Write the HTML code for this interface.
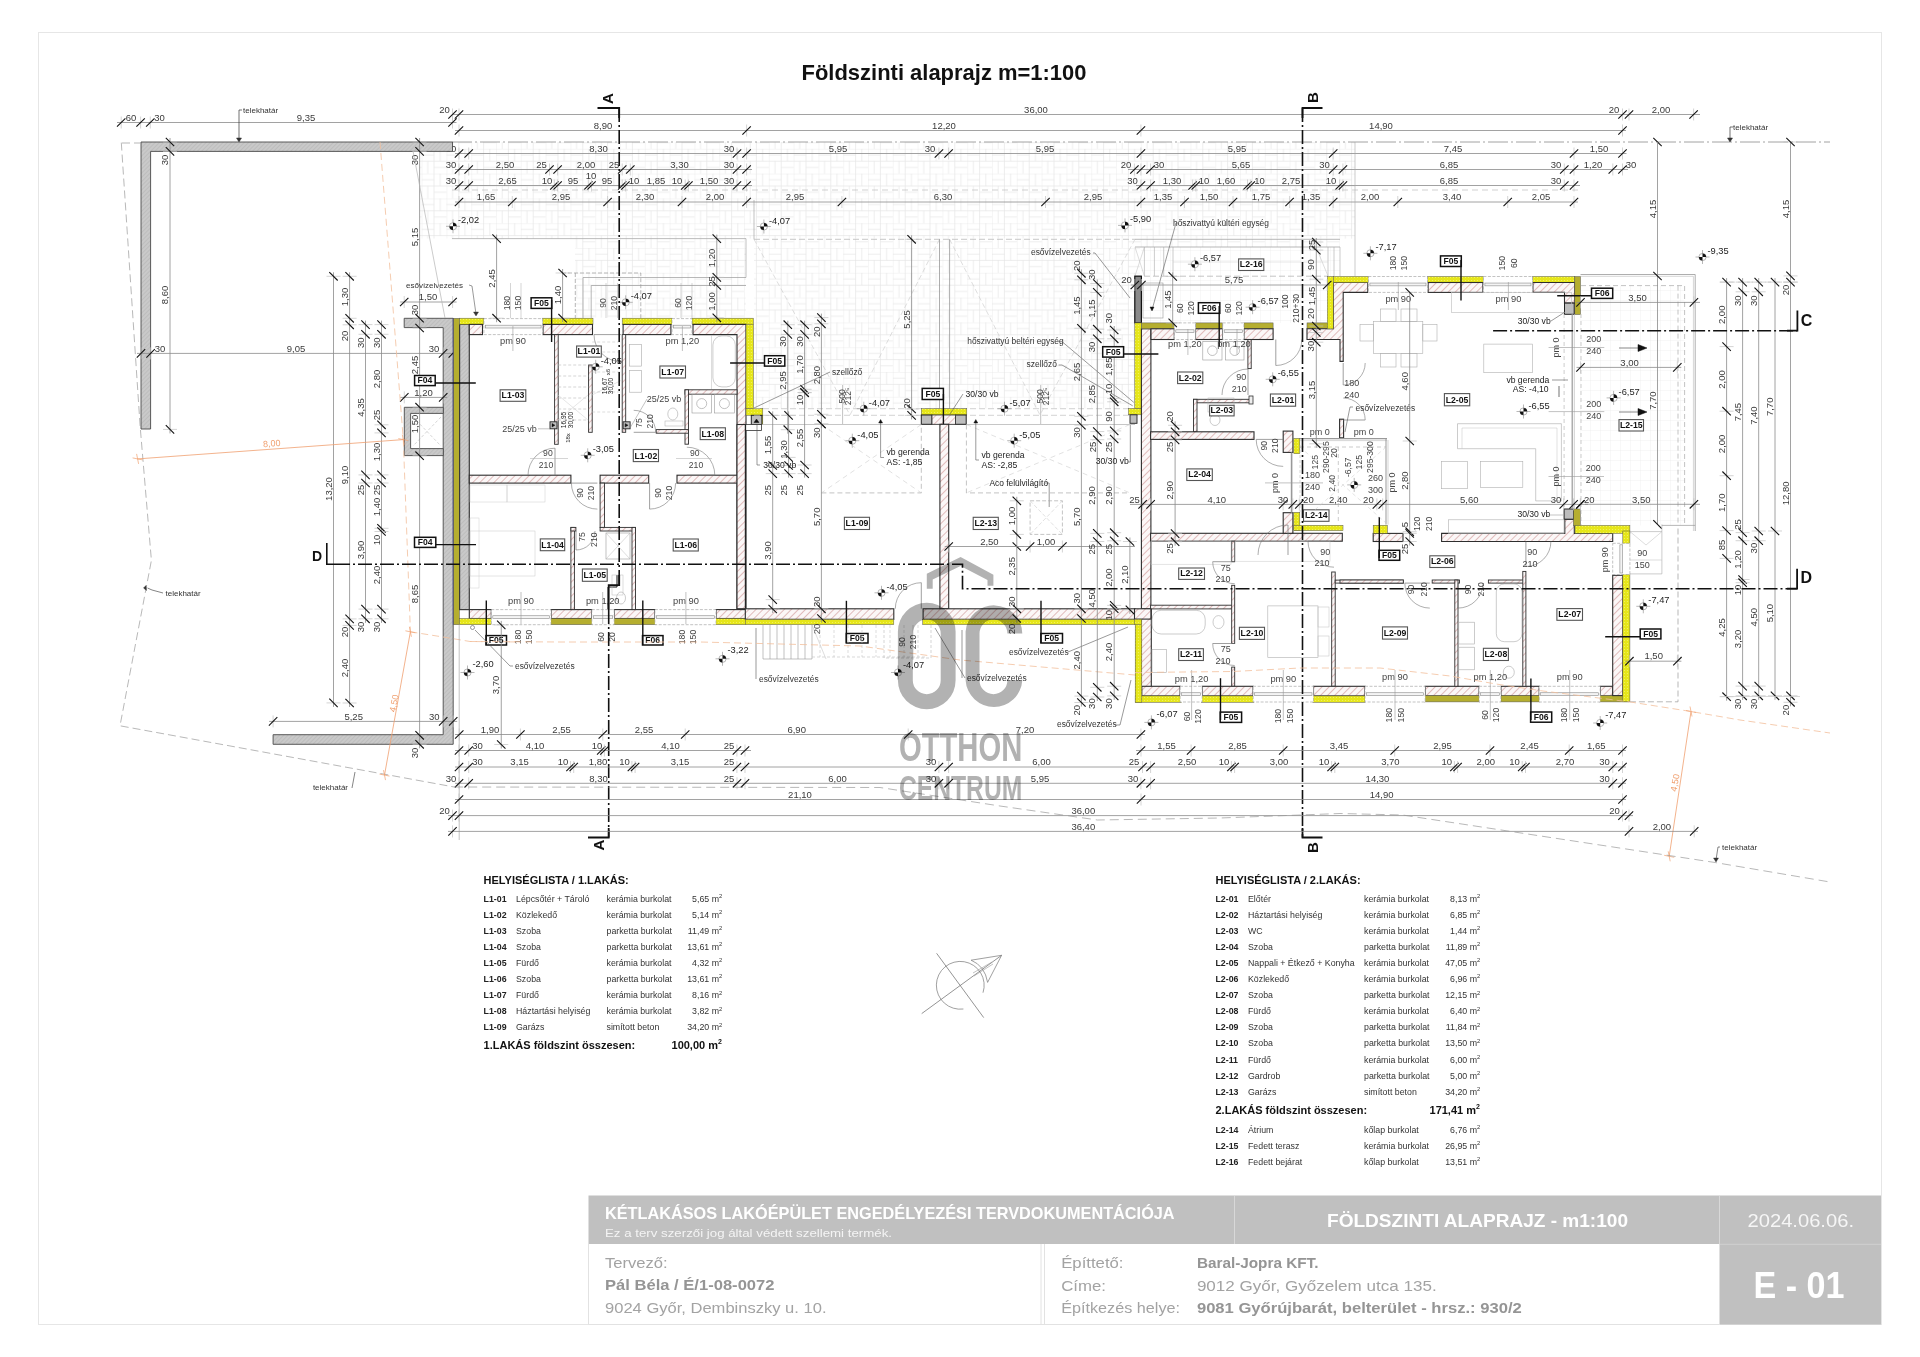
<!DOCTYPE html>
<html><head><meta charset="utf-8"><style>
html,body{margin:0;padding:0;background:#fff;}
body{width:1920px;height:1357px;overflow:hidden;position:relative;}
svg{position:absolute;left:0;top:0;font-family:"Liberation Sans",sans-serif;}
</style></head><body>
<svg width="1920" height="1357" viewBox="0 0 1920 1357">
<defs>
<pattern id="brick" patternUnits="userSpaceOnUse" width="5" height="5" patternTransform="rotate(45)">
<rect width="5" height="5" fill="#fbf7f7"/><line x1="0" y1="0" x2="0" y2="5" stroke="#c07070" stroke-width="0.9"/></pattern>
<pattern id="conc" patternUnits="userSpaceOnUse" width="3" height="3" patternTransform="rotate(45)">
<rect width="3" height="3" fill="#c9c9c9"/><line x1="0" y1="0" x2="0" y2="3" stroke="#a9a9a9" stroke-width="0.8"/></pattern>
<pattern id="ins" patternUnits="userSpaceOnUse" width="3" height="3">
<rect width="3" height="3" fill="#e6e619"/><circle cx="1.5" cy="1.5" r="0.6" fill="#f3f36a"/></pattern>
<pattern id="pave" patternUnits="userSpaceOnUse" width="24.8" height="24.8"><rect width="24.8" height="24.8" fill="#fff"/><path d="M0 0H24.8M0 12.4H24.8M0 0V24.8M12.4 0V24.8M0 6.2H12.4M18.6 0V12.4M6.2 12.4V24.8M12.4 18.6H24.8" stroke="#e3e3e3" stroke-width="0.65" fill="none"/></pattern>
<pattern id="grid10" patternUnits="userSpaceOnUse" width="10" height="10">
<rect width="10" height="10" fill="#fff"/><path d="M0 0H10M0 0V10" stroke="#e6e6e6" stroke-width="0.6" fill="none"/></pattern>
</defs>
<rect x="38.5" y="32.5" width="1843" height="1292" fill="none" stroke="#e6e6e6" stroke-width="1"/>
<text x="801.5" y="80" font-size="21.4" fill="#111" font-weight="bold" textLength="285" lengthAdjust="spacingAndGlyphs">Földszinti alaprajz m=1:100</text>
<text x="483.6" y="883.7" font-size="11" fill="#111" font-weight="bold">HELYISÉGLISTA / 1.LAKÁS:</text>
<text x="483.6" y="902" font-size="8.8" fill="#222" font-weight="bold">L1-01</text>
<text x="516" y="902" font-size="8.8" fill="#333">Lépcsőtér + Tároló</text>
<text x="606.5" y="902" font-size="8.8" fill="#333">kerámia burkolat</text>
<text x="719" y="902" font-size="8.8" fill="#333" text-anchor="end">5,65 m</text>
<text x="719" y="898.2" font-size="5.8" fill="#333">2</text>
<text x="483.6" y="918.05" font-size="8.8" fill="#222" font-weight="bold">L1-02</text>
<text x="516" y="918.05" font-size="8.8" fill="#333">Közlekedő</text>
<text x="606.5" y="918.05" font-size="8.8" fill="#333">kerámia burkolat</text>
<text x="719" y="918.05" font-size="8.8" fill="#333" text-anchor="end">5,14 m</text>
<text x="719" y="914.25" font-size="5.8" fill="#333">2</text>
<text x="483.6" y="934.1" font-size="8.8" fill="#222" font-weight="bold">L1-03</text>
<text x="516" y="934.1" font-size="8.8" fill="#333">Szoba</text>
<text x="606.5" y="934.1" font-size="8.8" fill="#333">parketta burkolat</text>
<text x="719" y="934.1" font-size="8.8" fill="#333" text-anchor="end">11,49 m</text>
<text x="719" y="930.3" font-size="5.8" fill="#333">2</text>
<text x="483.6" y="950.15" font-size="8.8" fill="#222" font-weight="bold">L1-04</text>
<text x="516" y="950.15" font-size="8.8" fill="#333">Szoba</text>
<text x="606.5" y="950.15" font-size="8.8" fill="#333">parketta burkolat</text>
<text x="719" y="950.15" font-size="8.8" fill="#333" text-anchor="end">13,61 m</text>
<text x="719" y="946.35" font-size="5.8" fill="#333">2</text>
<text x="483.6" y="966.2" font-size="8.8" fill="#222" font-weight="bold">L1-05</text>
<text x="516" y="966.2" font-size="8.8" fill="#333">Fürdő</text>
<text x="606.5" y="966.2" font-size="8.8" fill="#333">kerámia burkolat</text>
<text x="719" y="966.2" font-size="8.8" fill="#333" text-anchor="end">4,32 m</text>
<text x="719" y="962.4" font-size="5.8" fill="#333">2</text>
<text x="483.6" y="982.25" font-size="8.8" fill="#222" font-weight="bold">L1-06</text>
<text x="516" y="982.25" font-size="8.8" fill="#333">Szoba</text>
<text x="606.5" y="982.25" font-size="8.8" fill="#333">parketta burkolat</text>
<text x="719" y="982.25" font-size="8.8" fill="#333" text-anchor="end">13,61 m</text>
<text x="719" y="978.45" font-size="5.8" fill="#333">2</text>
<text x="483.6" y="998.3" font-size="8.8" fill="#222" font-weight="bold">L1-07</text>
<text x="516" y="998.3" font-size="8.8" fill="#333">Fürdő</text>
<text x="606.5" y="998.3" font-size="8.8" fill="#333">kerámia burkolat</text>
<text x="719" y="998.3" font-size="8.8" fill="#333" text-anchor="end">8,16 m</text>
<text x="719" y="994.5" font-size="5.8" fill="#333">2</text>
<text x="483.6" y="1014.35" font-size="8.8" fill="#222" font-weight="bold">L1-08</text>
<text x="516" y="1014.35" font-size="8.8" fill="#333">Háztartási helyiség</text>
<text x="606.5" y="1014.35" font-size="8.8" fill="#333">kerámia burkolat</text>
<text x="719" y="1014.35" font-size="8.8" fill="#333" text-anchor="end">3,82 m</text>
<text x="719" y="1010.55" font-size="5.8" fill="#333">2</text>
<text x="483.6" y="1030.4" font-size="8.8" fill="#222" font-weight="bold">L1-09</text>
<text x="516" y="1030.4" font-size="8.8" fill="#333">Garázs</text>
<text x="606.5" y="1030.4" font-size="8.8" fill="#333">simított beton</text>
<text x="719" y="1030.4" font-size="8.8" fill="#333" text-anchor="end">34,20 m</text>
<text x="719" y="1026.6" font-size="5.8" fill="#333">2</text>
<text x="483.6" y="1049.3" font-size="11" fill="#111" font-weight="bold">1.LAKÁS földszint összesen:</text>
<text x="718" y="1049.3" font-size="11" fill="#111" text-anchor="end" font-weight="bold">100,00 m</text>
<text x="718" y="1044.3" font-size="7" fill="#111" font-weight="bold">2</text>
<text x="1215.5" y="883.7" font-size="11" fill="#111" font-weight="bold">HELYISÉGLISTA / 2.LAKÁS:</text>
<text x="1215.5" y="902" font-size="8.8" fill="#222" font-weight="bold">L2-01</text>
<text x="1248" y="902" font-size="8.8" fill="#333">Előtér</text>
<text x="1364" y="902" font-size="8.8" fill="#333">kerámia burkolat</text>
<text x="1477" y="902" font-size="8.8" fill="#333" text-anchor="end">8,13 m</text>
<text x="1477" y="898.2" font-size="5.8" fill="#333">2</text>
<text x="1215.5" y="918.05" font-size="8.8" fill="#222" font-weight="bold">L2-02</text>
<text x="1248" y="918.05" font-size="8.8" fill="#333">Háztartási helyiség</text>
<text x="1364" y="918.05" font-size="8.8" fill="#333">kerámia burkolat</text>
<text x="1477" y="918.05" font-size="8.8" fill="#333" text-anchor="end">6,85 m</text>
<text x="1477" y="914.25" font-size="5.8" fill="#333">2</text>
<text x="1215.5" y="934.1" font-size="8.8" fill="#222" font-weight="bold">L2-03</text>
<text x="1248" y="934.1" font-size="8.8" fill="#333">WC</text>
<text x="1364" y="934.1" font-size="8.8" fill="#333">kerámia burkolat</text>
<text x="1477" y="934.1" font-size="8.8" fill="#333" text-anchor="end">1,44 m</text>
<text x="1477" y="930.3" font-size="5.8" fill="#333">2</text>
<text x="1215.5" y="950.15" font-size="8.8" fill="#222" font-weight="bold">L2-04</text>
<text x="1248" y="950.15" font-size="8.8" fill="#333">Szoba</text>
<text x="1364" y="950.15" font-size="8.8" fill="#333">parketta burkolat</text>
<text x="1477" y="950.15" font-size="8.8" fill="#333" text-anchor="end">11,89 m</text>
<text x="1477" y="946.35" font-size="5.8" fill="#333">2</text>
<text x="1215.5" y="966.2" font-size="8.8" fill="#222" font-weight="bold">L2-05</text>
<text x="1248" y="966.2" font-size="8.8" fill="#333">Nappali + Étkező + Konyha</text>
<text x="1364" y="966.2" font-size="8.8" fill="#333">kerámia burkolat</text>
<text x="1477" y="966.2" font-size="8.8" fill="#333" text-anchor="end">47,05 m</text>
<text x="1477" y="962.4" font-size="5.8" fill="#333">2</text>
<text x="1215.5" y="982.25" font-size="8.8" fill="#222" font-weight="bold">L2-06</text>
<text x="1248" y="982.25" font-size="8.8" fill="#333">Közlekedő</text>
<text x="1364" y="982.25" font-size="8.8" fill="#333">kerámia burkolat</text>
<text x="1477" y="982.25" font-size="8.8" fill="#333" text-anchor="end">6,96 m</text>
<text x="1477" y="978.45" font-size="5.8" fill="#333">2</text>
<text x="1215.5" y="998.3" font-size="8.8" fill="#222" font-weight="bold">L2-07</text>
<text x="1248" y="998.3" font-size="8.8" fill="#333">Szoba</text>
<text x="1364" y="998.3" font-size="8.8" fill="#333">parketta burkolat</text>
<text x="1477" y="998.3" font-size="8.8" fill="#333" text-anchor="end">12,15 m</text>
<text x="1477" y="994.5" font-size="5.8" fill="#333">2</text>
<text x="1215.5" y="1014.35" font-size="8.8" fill="#222" font-weight="bold">L2-08</text>
<text x="1248" y="1014.35" font-size="8.8" fill="#333">Fürdő</text>
<text x="1364" y="1014.35" font-size="8.8" fill="#333">kerámia burkolat</text>
<text x="1477" y="1014.35" font-size="8.8" fill="#333" text-anchor="end">6,40 m</text>
<text x="1477" y="1010.55" font-size="5.8" fill="#333">2</text>
<text x="1215.5" y="1030.4" font-size="8.8" fill="#222" font-weight="bold">L2-09</text>
<text x="1248" y="1030.4" font-size="8.8" fill="#333">Szoba</text>
<text x="1364" y="1030.4" font-size="8.8" fill="#333">parketta burkolat</text>
<text x="1477" y="1030.4" font-size="8.8" fill="#333" text-anchor="end">11,84 m</text>
<text x="1477" y="1026.6" font-size="5.8" fill="#333">2</text>
<text x="1215.5" y="1046.45" font-size="8.8" fill="#222" font-weight="bold">L2-10</text>
<text x="1248" y="1046.45" font-size="8.8" fill="#333">Szoba</text>
<text x="1364" y="1046.45" font-size="8.8" fill="#333">parketta burkolat</text>
<text x="1477" y="1046.45" font-size="8.8" fill="#333" text-anchor="end">13,50 m</text>
<text x="1477" y="1042.65" font-size="5.8" fill="#333">2</text>
<text x="1215.5" y="1062.5" font-size="8.8" fill="#222" font-weight="bold">L2-11</text>
<text x="1248" y="1062.5" font-size="8.8" fill="#333">Fürdő</text>
<text x="1364" y="1062.5" font-size="8.8" fill="#333">kerámia burkolat</text>
<text x="1477" y="1062.5" font-size="8.8" fill="#333" text-anchor="end">6,00 m</text>
<text x="1477" y="1058.7" font-size="5.8" fill="#333">2</text>
<text x="1215.5" y="1078.55" font-size="8.8" fill="#222" font-weight="bold">L2-12</text>
<text x="1248" y="1078.55" font-size="8.8" fill="#333">Gardrob</text>
<text x="1364" y="1078.55" font-size="8.8" fill="#333">parketta burkolat</text>
<text x="1477" y="1078.55" font-size="8.8" fill="#333" text-anchor="end">5,00 m</text>
<text x="1477" y="1074.75" font-size="5.8" fill="#333">2</text>
<text x="1215.5" y="1094.6" font-size="8.8" fill="#222" font-weight="bold">L2-13</text>
<text x="1248" y="1094.6" font-size="8.8" fill="#333">Garázs</text>
<text x="1364" y="1094.6" font-size="8.8" fill="#333">simított beton</text>
<text x="1477" y="1094.6" font-size="8.8" fill="#333" text-anchor="end">34,20 m</text>
<text x="1477" y="1090.8" font-size="5.8" fill="#333">2</text>
<text x="1215.5" y="1114" font-size="11" fill="#111" font-weight="bold">2.LAKÁS földszint összesen:</text>
<text x="1476" y="1114" font-size="11" fill="#111" text-anchor="end" font-weight="bold">171,41 m</text>
<text x="1476" y="1109" font-size="7" fill="#111" font-weight="bold">2</text>
<text x="1215.5" y="1132.8" font-size="8.8" fill="#222" font-weight="bold">L2-14</text>
<text x="1248" y="1132.8" font-size="8.8" fill="#333">Átrium</text>
<text x="1364" y="1132.8" font-size="8.8" fill="#333">kőlap burkolat</text>
<text x="1477" y="1132.8" font-size="8.8" fill="#333" text-anchor="end">6,76 m</text>
<text x="1477" y="1129" font-size="5.8" fill="#333">2</text>
<text x="1215.5" y="1148.85" font-size="8.8" fill="#222" font-weight="bold">L2-15</text>
<text x="1248" y="1148.85" font-size="8.8" fill="#333">Fedett terasz</text>
<text x="1364" y="1148.85" font-size="8.8" fill="#333">kerámia burkolat</text>
<text x="1477" y="1148.85" font-size="8.8" fill="#333" text-anchor="end">26,95 m</text>
<text x="1477" y="1145.05" font-size="5.8" fill="#333">2</text>
<text x="1215.5" y="1164.9" font-size="8.8" fill="#222" font-weight="bold">L2-16</text>
<text x="1248" y="1164.9" font-size="8.8" fill="#333">Fedett bejárat</text>
<text x="1364" y="1164.9" font-size="8.8" fill="#333">kőlap burkolat</text>
<text x="1477" y="1164.9" font-size="8.8" fill="#333" text-anchor="end">13,51 m</text>
<text x="1477" y="1161.1" font-size="5.8" fill="#333">2</text>
<rect x="588.5" y="1195.5" width="1292.5" height="48.5" fill="#c0c0c0"/>
<line x1="1234.5" y1="1196" x2="1234.5" y2="1244" stroke="#d8d8d8" stroke-width="1"/>
<line x1="1719.5" y1="1196" x2="1719.5" y2="1244" stroke="#d8d8d8" stroke-width="1"/>
<rect x="1719.5" y="1244" width="161.5" height="80.5" fill="#c0c0c0"/>
<line x1="1720" y1="1244.3" x2="1881" y2="1244.3" stroke="#d0d0d0" stroke-width="1"/>
<line x1="588.5" y1="1244" x2="588.5" y2="1324.5" stroke="#e2e2e2" stroke-width="1"/>
<line x1="588.5" y1="1324.5" x2="1720" y2="1324.5" stroke="#e2e2e2" stroke-width="1"/>
<line x1="1041" y1="1244" x2="1041" y2="1324.5" stroke="#e2e2e2" stroke-width="1"/>
<line x1="1044.5" y1="1244" x2="1044.5" y2="1324.5" stroke="#e2e2e2" stroke-width="1"/>
<text x="605" y="1218.5" font-size="17" fill="#fff" font-weight="bold" textLength="569.6" lengthAdjust="spacingAndGlyphs">KÉTLAKÁSOS LAKÓÉPÜLET ENGEDÉLYEZÉSI TERVDOKUMENTÁCIÓJA</text>
<text x="605" y="1236.5" font-size="11.5" fill="#f4f4f4" textLength="287" lengthAdjust="spacingAndGlyphs">Ez a terv szerzői jog által védett szellemi termék.</text>
<text x="1327" y="1227" font-size="18.5" fill="#fff" font-weight="bold" textLength="301" lengthAdjust="spacingAndGlyphs">FÖLDSZINTI ALAPRAJZ - m1:100</text>
<text x="1747.5" y="1227" font-size="18.5" fill="#f6f6f6" textLength="106.5" lengthAdjust="spacingAndGlyphs">2024.06.06.</text>
<text x="1753.5" y="1297.6" font-size="36.5" fill="#fff" font-weight="bold" textLength="91" lengthAdjust="spacingAndGlyphs">E - 01</text>
<text x="605" y="1267.8" font-size="15.3" fill="#a3a3a3" textLength="62.7" lengthAdjust="spacingAndGlyphs">Tervező:</text>
<text x="605" y="1290.3" font-size="15.3" fill="#959595" font-weight="bold" textLength="169.5" lengthAdjust="spacingAndGlyphs">Pál Béla / É/1-08-0072</text>
<text x="605" y="1313" font-size="15.3" fill="#a3a3a3" textLength="221.5" lengthAdjust="spacingAndGlyphs">9024 Győr, Dembinszky u. 10.</text>
<text x="1061.2" y="1267.8" font-size="15.3" fill="#a3a3a3" textLength="62.3" lengthAdjust="spacingAndGlyphs">Építtető:</text>
<text x="1061.2" y="1290.5" font-size="15.3" fill="#a3a3a3" textLength="44.8" lengthAdjust="spacingAndGlyphs">Címe:</text>
<text x="1061.2" y="1313" font-size="15.3" fill="#a3a3a3" textLength="118.8" lengthAdjust="spacingAndGlyphs">Építkezés helye:</text>
<text x="1196.9" y="1267.8" font-size="15.3" fill="#959595" font-weight="bold" textLength="121.6" lengthAdjust="spacingAndGlyphs">Baral-Jopra KFT.</text>
<text x="1196.9" y="1290.5" font-size="15.3" fill="#a3a3a3" textLength="239.8" lengthAdjust="spacingAndGlyphs">9012 Győr, Győzelem utca 135.</text>
<text x="1196.9" y="1313" font-size="15.3" fill="#959595" font-weight="bold" textLength="324.9" lengthAdjust="spacingAndGlyphs">9081 Győrújbarát, belterület  -  hrsz.: 930/2</text>
<rect x="452" y="142" width="903" height="96.6" fill="url(#pave)"/>
<rect x="419.6" y="151.4" width="33" height="87.2" fill="url(#pave)"/>
<rect x="754" y="239.3" width="386" height="169" fill="url(#pave)"/>
<rect x="575" y="238.6" width="171" height="79" fill="url(#pave)"/>
<rect x="1135" y="239" width="205" height="8" fill="url(#pave)"/>
<rect x="1141" y="247" width="199" height="76" fill="url(#grid10)"/>
<rect x="1580.5" y="285.6" width="104" height="239.8" fill="url(#grid10)"/>
<line x1="117" y1="122.5" x2="456.5" y2="122.5" stroke="#8a8a8a" stroke-width="0.8"/>
<line x1="121.2" y1="116.5" x2="121.2" y2="128.5" stroke="#c2c2c2" stroke-width="0.7"/>
<line x1="117" y1="126.7" x2="125.4" y2="118.3" stroke="#111" stroke-width="1.1"/>
<line x1="140.6" y1="116.5" x2="140.6" y2="128.5" stroke="#c2c2c2" stroke-width="0.7"/>
<line x1="136.4" y1="126.7" x2="144.8" y2="118.3" stroke="#111" stroke-width="1.1"/>
<line x1="150.3" y1="116.5" x2="150.3" y2="128.5" stroke="#c2c2c2" stroke-width="0.7"/>
<line x1="146.1" y1="126.7" x2="154.5" y2="118.3" stroke="#111" stroke-width="1.1"/>
<line x1="452.5" y1="116.5" x2="452.5" y2="128.5" stroke="#c2c2c2" stroke-width="0.7"/>
<line x1="448.3" y1="126.7" x2="456.7" y2="118.3" stroke="#111" stroke-width="1.1"/>
<text x="131" y="120.7" font-size="9.5" fill="#3a3a3a" text-anchor="middle">60</text>
<text x="159.5" y="120.7" font-size="9.5" fill="#3a3a3a" text-anchor="middle">30</text>
<text x="306" y="120.7" font-size="9.5" fill="#3a3a3a" text-anchor="middle">9,35</text>
<line x1="452" y1="114.5" x2="1700" y2="114.5" stroke="#8a8a8a" stroke-width="0.8"/>
<line x1="452.5" y1="108.5" x2="452.5" y2="120.5" stroke="#c2c2c2" stroke-width="0.7"/>
<line x1="448.3" y1="118.7" x2="456.7" y2="110.3" stroke="#111" stroke-width="1.1"/>
<line x1="459" y1="108.5" x2="459" y2="120.5" stroke="#c2c2c2" stroke-width="0.7"/>
<line x1="454.8" y1="118.7" x2="463.2" y2="110.3" stroke="#111" stroke-width="1.1"/>
<line x1="1622.5" y1="108.5" x2="1622.5" y2="120.5" stroke="#c2c2c2" stroke-width="0.7"/>
<line x1="1618.3" y1="118.7" x2="1626.7" y2="110.3" stroke="#111" stroke-width="1.1"/>
<line x1="1629" y1="108.5" x2="1629" y2="120.5" stroke="#c2c2c2" stroke-width="0.7"/>
<line x1="1624.8" y1="118.7" x2="1633.2" y2="110.3" stroke="#111" stroke-width="1.1"/>
<line x1="1693.6" y1="108.5" x2="1693.6" y2="120.5" stroke="#c2c2c2" stroke-width="0.7"/>
<line x1="1689.4" y1="118.7" x2="1697.8" y2="110.3" stroke="#111" stroke-width="1.1"/>
<text x="444.5" y="112.7" font-size="9.5" fill="#3a3a3a" text-anchor="middle">20</text>
<text x="1036" y="112.7" font-size="9.5" fill="#3a3a3a" text-anchor="middle">36,00</text>
<text x="1614" y="112.7" font-size="9.5" fill="#3a3a3a" text-anchor="middle">20</text>
<text x="1661" y="112.7" font-size="9.5" fill="#3a3a3a" text-anchor="middle">2,00</text>
<line x1="455" y1="130.5" x2="1626" y2="130.5" stroke="#8a8a8a" stroke-width="0.8"/>
<line x1="459" y1="124.5" x2="459" y2="136.5" stroke="#c2c2c2" stroke-width="0.7"/>
<line x1="454.8" y1="134.7" x2="463.2" y2="126.3" stroke="#111" stroke-width="1.1"/>
<line x1="746.6" y1="124.5" x2="746.6" y2="136.5" stroke="#c2c2c2" stroke-width="0.7"/>
<line x1="742.4" y1="134.7" x2="750.8" y2="126.3" stroke="#111" stroke-width="1.1"/>
<line x1="1140.9" y1="124.5" x2="1140.9" y2="136.5" stroke="#c2c2c2" stroke-width="0.7"/>
<line x1="1136.7" y1="134.7" x2="1145.1" y2="126.3" stroke="#111" stroke-width="1.1"/>
<line x1="1622.5" y1="124.5" x2="1622.5" y2="136.5" stroke="#c2c2c2" stroke-width="0.7"/>
<line x1="1618.3" y1="134.7" x2="1626.7" y2="126.3" stroke="#111" stroke-width="1.1"/>
<text x="603" y="128.7" font-size="9.5" fill="#3a3a3a" text-anchor="middle">8,90</text>
<text x="944" y="128.7" font-size="9.5" fill="#3a3a3a" text-anchor="middle">12,20</text>
<text x="1381" y="128.7" font-size="9.5" fill="#3a3a3a" text-anchor="middle">14,90</text>
<line x1="452" y1="142" x2="1830" y2="142" stroke="#8c8c8c" stroke-width="0.8" stroke-dasharray="20 3 2 3"/>
<line x1="1653.3" y1="137.8" x2="1661.7" y2="146.2" stroke="#111" stroke-width="1.1"/>
<line x1="1657.5" y1="142" x2="1657.5" y2="276" stroke="#8a8a8a" stroke-width="0.8"/>
<text x="1655.7" y="209" font-size="9.5" fill="#3a3a3a" text-anchor="middle" transform="rotate(-90 1655.7 209)">4,15</text>
<text x="1733" y="130" font-size="8" fill="#333">telekhatár</text>
<line x1="1730" y1="127" x2="1730" y2="140" stroke="#333" stroke-width="0.7"/>
<polygon points="1727.5,138 1732.5,138 1730,142" fill="#333" stroke="#333" stroke-width="0.5"/>
<line x1="1730" y1="127" x2="1733" y2="127" stroke="#333" stroke-width="0.7"/>
<text x="243" y="113" font-size="8" fill="#333">telekhatár</text>
<line x1="239" y1="110" x2="239" y2="140" stroke="#333" stroke-width="0.7"/>
<polygon points="236.5,138 241.5,138 239,142" fill="#333" stroke="#333" stroke-width="0.5"/>
<line x1="239" y1="110" x2="242" y2="110" stroke="#333" stroke-width="0.7"/>
<line x1="455" y1="153.5" x2="1626.5" y2="153.5" stroke="#8a8a8a" stroke-width="0.8"/>
<line x1="459" y1="147.5" x2="459" y2="159.5" stroke="#c2c2c2" stroke-width="0.7"/>
<line x1="454.8" y1="157.7" x2="463.2" y2="149.3" stroke="#111" stroke-width="1.1"/>
<line x1="468.7" y1="147.5" x2="468.7" y2="159.5" stroke="#c2c2c2" stroke-width="0.7"/>
<line x1="464.5" y1="157.7" x2="472.9" y2="149.3" stroke="#111" stroke-width="1.1"/>
<line x1="737" y1="147.5" x2="737" y2="159.5" stroke="#c2c2c2" stroke-width="0.7"/>
<line x1="732.8" y1="157.7" x2="741.2" y2="149.3" stroke="#111" stroke-width="1.1"/>
<line x1="746.6" y1="147.5" x2="746.6" y2="159.5" stroke="#c2c2c2" stroke-width="0.7"/>
<line x1="742.4" y1="157.7" x2="750.8" y2="149.3" stroke="#111" stroke-width="1.1"/>
<line x1="938.9" y1="147.5" x2="938.9" y2="159.5" stroke="#c2c2c2" stroke-width="0.7"/>
<line x1="934.7" y1="157.7" x2="943.1" y2="149.3" stroke="#111" stroke-width="1.1"/>
<line x1="948.6" y1="147.5" x2="948.6" y2="159.5" stroke="#c2c2c2" stroke-width="0.7"/>
<line x1="944.4" y1="157.7" x2="952.8" y2="149.3" stroke="#111" stroke-width="1.1"/>
<line x1="1140.9" y1="147.5" x2="1140.9" y2="159.5" stroke="#c2c2c2" stroke-width="0.7"/>
<line x1="1136.7" y1="157.7" x2="1145.1" y2="149.3" stroke="#111" stroke-width="1.1"/>
<line x1="1333.2" y1="147.5" x2="1333.2" y2="159.5" stroke="#c2c2c2" stroke-width="0.7"/>
<line x1="1329" y1="157.7" x2="1337.4" y2="149.3" stroke="#111" stroke-width="1.1"/>
<line x1="1574" y1="147.5" x2="1574" y2="159.5" stroke="#c2c2c2" stroke-width="0.7"/>
<line x1="1569.8" y1="157.7" x2="1578.2" y2="149.3" stroke="#111" stroke-width="1.1"/>
<line x1="1622.5" y1="147.5" x2="1622.5" y2="159.5" stroke="#c2c2c2" stroke-width="0.7"/>
<line x1="1618.3" y1="157.7" x2="1626.7" y2="149.3" stroke="#111" stroke-width="1.1"/>
<text x="451" y="151.7" font-size="9.5" fill="#3a3a3a" text-anchor="middle">30</text>
<text x="598.5" y="151.7" font-size="9.5" fill="#3a3a3a" text-anchor="middle">8,30</text>
<text x="729" y="151.7" font-size="9.5" fill="#3a3a3a" text-anchor="middle">30</text>
<text x="838" y="151.7" font-size="9.5" fill="#3a3a3a" text-anchor="middle">5,95</text>
<text x="930" y="151.7" font-size="9.5" fill="#3a3a3a" text-anchor="middle">30</text>
<text x="1045" y="151.7" font-size="9.5" fill="#3a3a3a" text-anchor="middle">5,95</text>
<text x="1237" y="151.7" font-size="9.5" fill="#3a3a3a" text-anchor="middle">5,95</text>
<text x="1453" y="151.7" font-size="9.5" fill="#3a3a3a" text-anchor="middle">7,45</text>
<text x="1599" y="151.7" font-size="9.5" fill="#3a3a3a" text-anchor="middle">1,50</text>
<line x1="455" y1="169.5" x2="752" y2="169.5" stroke="#8a8a8a" stroke-width="0.8"/>
<line x1="459" y1="163.5" x2="459" y2="175.5" stroke="#c2c2c2" stroke-width="0.7"/>
<line x1="454.8" y1="173.7" x2="463.2" y2="165.3" stroke="#111" stroke-width="1.1"/>
<line x1="468.7" y1="163.5" x2="468.7" y2="175.5" stroke="#c2c2c2" stroke-width="0.7"/>
<line x1="464.5" y1="173.7" x2="472.9" y2="165.3" stroke="#111" stroke-width="1.1"/>
<line x1="549.5" y1="163.5" x2="549.5" y2="175.5" stroke="#c2c2c2" stroke-width="0.7"/>
<line x1="545.3" y1="173.7" x2="553.7" y2="165.3" stroke="#111" stroke-width="1.1"/>
<line x1="557.6" y1="163.5" x2="557.6" y2="175.5" stroke="#c2c2c2" stroke-width="0.7"/>
<line x1="553.4" y1="173.7" x2="561.8" y2="165.3" stroke="#111" stroke-width="1.1"/>
<line x1="622.2" y1="163.5" x2="622.2" y2="175.5" stroke="#c2c2c2" stroke-width="0.7"/>
<line x1="618" y1="173.7" x2="626.4" y2="165.3" stroke="#111" stroke-width="1.1"/>
<line x1="630.3" y1="163.5" x2="630.3" y2="175.5" stroke="#c2c2c2" stroke-width="0.7"/>
<line x1="626.1" y1="173.7" x2="634.5" y2="165.3" stroke="#111" stroke-width="1.1"/>
<line x1="737" y1="163.5" x2="737" y2="175.5" stroke="#c2c2c2" stroke-width="0.7"/>
<line x1="732.8" y1="173.7" x2="741.2" y2="165.3" stroke="#111" stroke-width="1.1"/>
<line x1="746.6" y1="163.5" x2="746.6" y2="175.5" stroke="#c2c2c2" stroke-width="0.7"/>
<line x1="742.4" y1="173.7" x2="750.8" y2="165.3" stroke="#111" stroke-width="1.1"/>
<text x="451" y="167.7" font-size="9.5" fill="#3a3a3a" text-anchor="middle">30</text>
<text x="505" y="167.7" font-size="9.5" fill="#3a3a3a" text-anchor="middle">2,50</text>
<text x="541.5" y="167.7" font-size="9.5" fill="#3a3a3a" text-anchor="middle">25</text>
<text x="586" y="167.7" font-size="9.5" fill="#3a3a3a" text-anchor="middle">2,00</text>
<text x="614" y="167.7" font-size="9.5" fill="#3a3a3a" text-anchor="middle">25</text>
<text x="679.5" y="167.7" font-size="9.5" fill="#3a3a3a" text-anchor="middle">3,30</text>
<text x="729" y="167.7" font-size="9.5" fill="#3a3a3a" text-anchor="middle">30</text>
<line x1="1128" y1="169.5" x2="1628" y2="169.5" stroke="#8a8a8a" stroke-width="0.8"/>
<line x1="1134.4" y1="163.5" x2="1134.4" y2="175.5" stroke="#c2c2c2" stroke-width="0.7"/>
<line x1="1130.2" y1="173.7" x2="1138.6" y2="165.3" stroke="#111" stroke-width="1.1"/>
<line x1="1140.9" y1="163.5" x2="1140.9" y2="175.5" stroke="#c2c2c2" stroke-width="0.7"/>
<line x1="1136.7" y1="173.7" x2="1145.1" y2="165.3" stroke="#111" stroke-width="1.1"/>
<line x1="1150.6" y1="163.5" x2="1150.6" y2="175.5" stroke="#c2c2c2" stroke-width="0.7"/>
<line x1="1146.4" y1="173.7" x2="1154.8" y2="165.3" stroke="#111" stroke-width="1.1"/>
<line x1="1333.2" y1="163.5" x2="1333.2" y2="175.5" stroke="#c2c2c2" stroke-width="0.7"/>
<line x1="1329" y1="173.7" x2="1337.4" y2="165.3" stroke="#111" stroke-width="1.1"/>
<line x1="1342.9" y1="163.5" x2="1342.9" y2="175.5" stroke="#c2c2c2" stroke-width="0.7"/>
<line x1="1338.7" y1="173.7" x2="1347.1" y2="165.3" stroke="#111" stroke-width="1.1"/>
<line x1="1564.3" y1="163.5" x2="1564.3" y2="175.5" stroke="#c2c2c2" stroke-width="0.7"/>
<line x1="1560.1" y1="173.7" x2="1568.5" y2="165.3" stroke="#111" stroke-width="1.1"/>
<line x1="1574" y1="163.5" x2="1574" y2="175.5" stroke="#c2c2c2" stroke-width="0.7"/>
<line x1="1569.8" y1="173.7" x2="1578.2" y2="165.3" stroke="#111" stroke-width="1.1"/>
<line x1="1612.8" y1="163.5" x2="1612.8" y2="175.5" stroke="#c2c2c2" stroke-width="0.7"/>
<line x1="1608.6" y1="173.7" x2="1617" y2="165.3" stroke="#111" stroke-width="1.1"/>
<line x1="1622.5" y1="163.5" x2="1622.5" y2="175.5" stroke="#c2c2c2" stroke-width="0.7"/>
<line x1="1618.3" y1="173.7" x2="1626.7" y2="165.3" stroke="#111" stroke-width="1.1"/>
<text x="1126" y="167.7" font-size="9.5" fill="#3a3a3a" text-anchor="middle">20</text>
<text x="1159" y="167.7" font-size="9.5" fill="#3a3a3a" text-anchor="middle">30</text>
<text x="1241" y="167.7" font-size="9.5" fill="#3a3a3a" text-anchor="middle">5,65</text>
<text x="1324.5" y="167.7" font-size="9.5" fill="#3a3a3a" text-anchor="middle">30</text>
<text x="1449" y="167.7" font-size="9.5" fill="#3a3a3a" text-anchor="middle">6,85</text>
<text x="1556" y="167.7" font-size="9.5" fill="#3a3a3a" text-anchor="middle">30</text>
<text x="1593" y="167.7" font-size="9.5" fill="#3a3a3a" text-anchor="middle">1,20</text>
<text x="1631" y="167.7" font-size="9.5" fill="#3a3a3a" text-anchor="middle">30</text>
<line x1="455" y1="185.5" x2="752" y2="185.5" stroke="#8a8a8a" stroke-width="0.8"/>
<line x1="459" y1="179.5" x2="459" y2="191.5" stroke="#c2c2c2" stroke-width="0.7"/>
<line x1="454.8" y1="189.7" x2="463.2" y2="181.3" stroke="#111" stroke-width="1.1"/>
<line x1="468.7" y1="179.5" x2="468.7" y2="191.5" stroke="#c2c2c2" stroke-width="0.7"/>
<line x1="464.5" y1="189.7" x2="472.9" y2="181.3" stroke="#111" stroke-width="1.1"/>
<line x1="554.3" y1="179.5" x2="554.3" y2="191.5" stroke="#c2c2c2" stroke-width="0.7"/>
<line x1="550.1" y1="189.7" x2="558.5" y2="181.3" stroke="#111" stroke-width="1.1"/>
<line x1="557.6" y1="179.5" x2="557.6" y2="191.5" stroke="#c2c2c2" stroke-width="0.7"/>
<line x1="553.4" y1="189.7" x2="561.8" y2="181.3" stroke="#111" stroke-width="1.1"/>
<line x1="588.3" y1="179.5" x2="588.3" y2="191.5" stroke="#c2c2c2" stroke-width="0.7"/>
<line x1="584.1" y1="189.7" x2="592.5" y2="181.3" stroke="#111" stroke-width="1.1"/>
<line x1="591.5" y1="179.5" x2="591.5" y2="191.5" stroke="#c2c2c2" stroke-width="0.7"/>
<line x1="587.3" y1="189.7" x2="595.7" y2="181.3" stroke="#111" stroke-width="1.1"/>
<line x1="622.2" y1="179.5" x2="622.2" y2="191.5" stroke="#c2c2c2" stroke-width="0.7"/>
<line x1="618" y1="189.7" x2="626.4" y2="181.3" stroke="#111" stroke-width="1.1"/>
<line x1="625.4" y1="179.5" x2="625.4" y2="191.5" stroke="#c2c2c2" stroke-width="0.7"/>
<line x1="621.2" y1="189.7" x2="629.6" y2="181.3" stroke="#111" stroke-width="1.1"/>
<line x1="685.2" y1="179.5" x2="685.2" y2="191.5" stroke="#c2c2c2" stroke-width="0.7"/>
<line x1="681" y1="189.7" x2="689.4" y2="181.3" stroke="#111" stroke-width="1.1"/>
<line x1="688.4" y1="179.5" x2="688.4" y2="191.5" stroke="#c2c2c2" stroke-width="0.7"/>
<line x1="684.2" y1="189.7" x2="692.6" y2="181.3" stroke="#111" stroke-width="1.1"/>
<line x1="736.9" y1="179.5" x2="736.9" y2="191.5" stroke="#c2c2c2" stroke-width="0.7"/>
<line x1="732.7" y1="189.7" x2="741.1" y2="181.3" stroke="#111" stroke-width="1.1"/>
<line x1="746.6" y1="179.5" x2="746.6" y2="191.5" stroke="#c2c2c2" stroke-width="0.7"/>
<line x1="742.4" y1="189.7" x2="750.8" y2="181.3" stroke="#111" stroke-width="1.1"/>
<text x="451" y="183.7" font-size="9.5" fill="#3a3a3a" text-anchor="middle">30</text>
<text x="507.5" y="183.7" font-size="9.5" fill="#3a3a3a" text-anchor="middle">2,65</text>
<text x="547" y="183.7" font-size="9.5" fill="#3a3a3a" text-anchor="middle">10</text>
<text x="573" y="183.7" font-size="9.5" fill="#3a3a3a" text-anchor="middle">95</text>
<text x="607" y="183.7" font-size="9.5" fill="#3a3a3a" text-anchor="middle">95</text>
<text x="634" y="183.7" font-size="9.5" fill="#3a3a3a" text-anchor="middle">10</text>
<text x="656" y="183.7" font-size="9.5" fill="#3a3a3a" text-anchor="middle">1,85</text>
<text x="677" y="183.7" font-size="9.5" fill="#3a3a3a" text-anchor="middle">10</text>
<text x="709" y="183.7" font-size="9.5" fill="#3a3a3a" text-anchor="middle">1,50</text>
<text x="729" y="183.7" font-size="9.5" fill="#3a3a3a" text-anchor="middle">30</text>
<text x="591" y="178.5" font-size="9.5" fill="#3a3a3a" text-anchor="middle">10</text>
<line x1="1136" y1="185.5" x2="1580" y2="185.5" stroke="#8a8a8a" stroke-width="0.8"/>
<line x1="1140.9" y1="179.5" x2="1140.9" y2="191.5" stroke="#c2c2c2" stroke-width="0.7"/>
<line x1="1136.7" y1="189.7" x2="1145.1" y2="181.3" stroke="#111" stroke-width="1.1"/>
<line x1="1150.6" y1="179.5" x2="1150.6" y2="191.5" stroke="#c2c2c2" stroke-width="0.7"/>
<line x1="1146.4" y1="189.7" x2="1154.8" y2="181.3" stroke="#111" stroke-width="1.1"/>
<line x1="1192.6" y1="179.5" x2="1192.6" y2="191.5" stroke="#c2c2c2" stroke-width="0.7"/>
<line x1="1188.4" y1="189.7" x2="1196.8" y2="181.3" stroke="#111" stroke-width="1.1"/>
<line x1="1195.8" y1="179.5" x2="1195.8" y2="191.5" stroke="#c2c2c2" stroke-width="0.7"/>
<line x1="1191.6" y1="189.7" x2="1200" y2="181.3" stroke="#111" stroke-width="1.1"/>
<line x1="1247.5" y1="179.5" x2="1247.5" y2="191.5" stroke="#c2c2c2" stroke-width="0.7"/>
<line x1="1243.3" y1="189.7" x2="1251.7" y2="181.3" stroke="#111" stroke-width="1.1"/>
<line x1="1250.8" y1="179.5" x2="1250.8" y2="191.5" stroke="#c2c2c2" stroke-width="0.7"/>
<line x1="1246.6" y1="189.7" x2="1255" y2="181.3" stroke="#111" stroke-width="1.1"/>
<line x1="1339.6" y1="179.5" x2="1339.6" y2="191.5" stroke="#c2c2c2" stroke-width="0.7"/>
<line x1="1335.4" y1="189.7" x2="1343.8" y2="181.3" stroke="#111" stroke-width="1.1"/>
<line x1="1342.9" y1="179.5" x2="1342.9" y2="191.5" stroke="#c2c2c2" stroke-width="0.7"/>
<line x1="1338.7" y1="189.7" x2="1347.1" y2="181.3" stroke="#111" stroke-width="1.1"/>
<line x1="1564.3" y1="179.5" x2="1564.3" y2="191.5" stroke="#c2c2c2" stroke-width="0.7"/>
<line x1="1560.1" y1="189.7" x2="1568.5" y2="181.3" stroke="#111" stroke-width="1.1"/>
<line x1="1574" y1="179.5" x2="1574" y2="191.5" stroke="#c2c2c2" stroke-width="0.7"/>
<line x1="1569.8" y1="189.7" x2="1578.2" y2="181.3" stroke="#111" stroke-width="1.1"/>
<text x="1132.5" y="183.7" font-size="9.5" fill="#3a3a3a" text-anchor="middle">30</text>
<text x="1172" y="183.7" font-size="9.5" fill="#3a3a3a" text-anchor="middle">1,30</text>
<text x="1204" y="183.7" font-size="9.5" fill="#3a3a3a" text-anchor="middle">10</text>
<text x="1226" y="183.7" font-size="9.5" fill="#3a3a3a" text-anchor="middle">1,60</text>
<text x="1259.5" y="183.7" font-size="9.5" fill="#3a3a3a" text-anchor="middle">10</text>
<text x="1291" y="183.7" font-size="9.5" fill="#3a3a3a" text-anchor="middle">2,75</text>
<text x="1331" y="183.7" font-size="9.5" fill="#3a3a3a" text-anchor="middle">10</text>
<text x="1449" y="183.7" font-size="9.5" fill="#3a3a3a" text-anchor="middle">6,85</text>
<text x="1556" y="183.7" font-size="9.5" fill="#3a3a3a" text-anchor="middle">30</text>
<line x1="452" y1="190" x2="1580" y2="190" stroke="#bdbdbd" stroke-width="0.7" stroke-dasharray="6 4"/>
<line x1="455" y1="202" x2="1578" y2="202" stroke="#8a8a8a" stroke-width="0.8"/>
<line x1="459" y1="196" x2="459" y2="208" stroke="#c2c2c2" stroke-width="0.7"/>
<line x1="454.8" y1="206.2" x2="463.2" y2="197.8" stroke="#111" stroke-width="1.1"/>
<line x1="512.3" y1="196" x2="512.3" y2="208" stroke="#c2c2c2" stroke-width="0.7"/>
<line x1="508.1" y1="206.2" x2="516.5" y2="197.8" stroke="#111" stroke-width="1.1"/>
<line x1="607.6" y1="196" x2="607.6" y2="208" stroke="#c2c2c2" stroke-width="0.7"/>
<line x1="603.4" y1="206.2" x2="611.8" y2="197.8" stroke="#111" stroke-width="1.1"/>
<line x1="682" y1="196" x2="682" y2="208" stroke="#c2c2c2" stroke-width="0.7"/>
<line x1="677.8" y1="206.2" x2="686.2" y2="197.8" stroke="#111" stroke-width="1.1"/>
<line x1="746.6" y1="196" x2="746.6" y2="208" stroke="#c2c2c2" stroke-width="0.7"/>
<line x1="742.4" y1="206.2" x2="750.8" y2="197.8" stroke="#111" stroke-width="1.1"/>
<line x1="841.9" y1="196" x2="841.9" y2="208" stroke="#c2c2c2" stroke-width="0.7"/>
<line x1="837.7" y1="206.2" x2="846.1" y2="197.8" stroke="#111" stroke-width="1.1"/>
<line x1="1045.5" y1="196" x2="1045.5" y2="208" stroke="#c2c2c2" stroke-width="0.7"/>
<line x1="1041.3" y1="206.2" x2="1049.7" y2="197.8" stroke="#111" stroke-width="1.1"/>
<line x1="1140.9" y1="196" x2="1140.9" y2="208" stroke="#c2c2c2" stroke-width="0.7"/>
<line x1="1136.7" y1="206.2" x2="1145.1" y2="197.8" stroke="#111" stroke-width="1.1"/>
<line x1="1184.5" y1="196" x2="1184.5" y2="208" stroke="#c2c2c2" stroke-width="0.7"/>
<line x1="1180.3" y1="206.2" x2="1188.7" y2="197.8" stroke="#111" stroke-width="1.1"/>
<line x1="1233" y1="196" x2="1233" y2="208" stroke="#c2c2c2" stroke-width="0.7"/>
<line x1="1228.8" y1="206.2" x2="1237.2" y2="197.8" stroke="#111" stroke-width="1.1"/>
<line x1="1289.6" y1="196" x2="1289.6" y2="208" stroke="#c2c2c2" stroke-width="0.7"/>
<line x1="1285.4" y1="206.2" x2="1293.8" y2="197.8" stroke="#111" stroke-width="1.1"/>
<line x1="1333.2" y1="196" x2="1333.2" y2="208" stroke="#c2c2c2" stroke-width="0.7"/>
<line x1="1329" y1="206.2" x2="1337.4" y2="197.8" stroke="#111" stroke-width="1.1"/>
<line x1="1397.8" y1="196" x2="1397.8" y2="208" stroke="#c2c2c2" stroke-width="0.7"/>
<line x1="1393.6" y1="206.2" x2="1402" y2="197.8" stroke="#111" stroke-width="1.1"/>
<line x1="1507.7" y1="196" x2="1507.7" y2="208" stroke="#c2c2c2" stroke-width="0.7"/>
<line x1="1503.5" y1="206.2" x2="1511.9" y2="197.8" stroke="#111" stroke-width="1.1"/>
<line x1="1574" y1="196" x2="1574" y2="208" stroke="#c2c2c2" stroke-width="0.7"/>
<line x1="1569.8" y1="206.2" x2="1578.2" y2="197.8" stroke="#111" stroke-width="1.1"/>
<text x="486" y="200.2" font-size="9.5" fill="#3a3a3a" text-anchor="middle">1,65</text>
<text x="561" y="200.2" font-size="9.5" fill="#3a3a3a" text-anchor="middle">2,95</text>
<text x="645" y="200.2" font-size="9.5" fill="#3a3a3a" text-anchor="middle">2,30</text>
<text x="715" y="200.2" font-size="9.5" fill="#3a3a3a" text-anchor="middle">2,00</text>
<text x="795" y="200.2" font-size="9.5" fill="#3a3a3a" text-anchor="middle">2,95</text>
<text x="943" y="200.2" font-size="9.5" fill="#3a3a3a" text-anchor="middle">6,30</text>
<text x="1093" y="200.2" font-size="9.5" fill="#3a3a3a" text-anchor="middle">2,95</text>
<text x="1163" y="200.2" font-size="9.5" fill="#3a3a3a" text-anchor="middle">1,35</text>
<text x="1209" y="200.2" font-size="9.5" fill="#3a3a3a" text-anchor="middle">1,50</text>
<text x="1261" y="200.2" font-size="9.5" fill="#3a3a3a" text-anchor="middle">1,75</text>
<text x="1311" y="200.2" font-size="9.5" fill="#3a3a3a" text-anchor="middle">1,35</text>
<text x="1370" y="200.2" font-size="9.5" fill="#3a3a3a" text-anchor="middle">2,00</text>
<text x="1452" y="200.2" font-size="9.5" fill="#3a3a3a" text-anchor="middle">3,40</text>
<text x="1541" y="200.2" font-size="9.5" fill="#3a3a3a" text-anchor="middle">2,05</text>
<polygon points="141,142 452.5,142 452.5,151.4 150.6,151.4 150.6,429 141,429" fill="url(#conc)" stroke="#4a4a4a" stroke-width="0.9"/>
<polyline points="122,143 140.5,143" fill="none" stroke="#9a9a9a" stroke-width="0.7" stroke-dasharray="8 4"/>
<polyline points="121.3,142.6 140.1,425.8 151.4,560.4 120,725.8 454.2,787" fill="none" stroke="#9a9a9a" stroke-width="0.7" stroke-dasharray="8 4"/>
<text x="262" y="528" font-size="1" fill="#3a3a3a"></text>
<text x="165.5" y="596" font-size="8" fill="#333">telekhatár</text>
<polyline points="163,593 152,590 147.5,588" fill="none" stroke="#333" stroke-width="0.6"/>
<polygon points="146,585.5 146.5,590.5 143.5,588" fill="#333" stroke="#333" stroke-width="0.4"/>
<text x="312.9" y="790" font-size="8" fill="#333">telekhatár</text>
<line x1="355" y1="772" x2="352" y2="788" stroke="#333" stroke-width="0.6"/>
<polygon points="404.2,318.3 453.2,318.3 453.2,744.3 273.1,744.3 273.1,734.7 443.2,734.7 443.2,327.6 404.2,327.6" fill="url(#conc)" stroke="#4a4a4a" stroke-width="0.9"/>
<polygon points="404.3,407.3 443.3,407.3 443.3,413.4 410.6,413.4 410.6,448.6 443.3,448.6 443.3,455.6 404.3,455.6" fill="url(#conc)" stroke="#4a4a4a" stroke-width="0.9"/>
<line x1="413" y1="417" x2="441" y2="446" stroke="#bbb" stroke-width="0.6" stroke-dasharray="3 2"/>
<line x1="441" y1="417" x2="413" y2="446" stroke="#bbb" stroke-width="0.6" stroke-dasharray="3 2"/>
<line x1="170" y1="138" x2="170" y2="433.4" stroke="#8a8a8a" stroke-width="0.8"/>
<line x1="163" y1="142" x2="177" y2="142" stroke="#c2c2c2" stroke-width="0.7"/>
<line x1="165.8" y1="137.8" x2="174.2" y2="146.2" stroke="#111" stroke-width="1.1"/>
<line x1="163" y1="151.4" x2="177" y2="151.4" stroke="#c2c2c2" stroke-width="0.7"/>
<line x1="165.8" y1="147.2" x2="174.2" y2="155.6" stroke="#111" stroke-width="1.1"/>
<line x1="163" y1="429.4" x2="177" y2="429.4" stroke="#c2c2c2" stroke-width="0.7"/>
<line x1="165.8" y1="425.2" x2="174.2" y2="433.6" stroke="#111" stroke-width="1.1"/>
<text x="168.2" y="160" font-size="9.5" fill="#3a3a3a" text-anchor="middle" transform="rotate(-90 168.2 160)">30</text>
<text x="168.2" y="295" font-size="9.5" fill="#3a3a3a" text-anchor="middle" transform="rotate(-90 168.2 295)">8,60</text>
<line x1="137" y1="353.4" x2="456" y2="353.4" stroke="#8a8a8a" stroke-width="0.8"/>
<line x1="141" y1="347.4" x2="141" y2="359.4" stroke="#c2c2c2" stroke-width="0.7"/>
<line x1="136.8" y1="357.6" x2="145.2" y2="349.2" stroke="#111" stroke-width="1.1"/>
<line x1="150.6" y1="347.4" x2="150.6" y2="359.4" stroke="#c2c2c2" stroke-width="0.7"/>
<line x1="146.4" y1="357.6" x2="154.8" y2="349.2" stroke="#111" stroke-width="1.1"/>
<line x1="443.1" y1="347.4" x2="443.1" y2="359.4" stroke="#c2c2c2" stroke-width="0.7"/>
<line x1="438.9" y1="357.6" x2="447.3" y2="349.2" stroke="#111" stroke-width="1.1"/>
<line x1="452.8" y1="347.4" x2="452.8" y2="359.4" stroke="#c2c2c2" stroke-width="0.7"/>
<line x1="448.6" y1="357.6" x2="457" y2="349.2" stroke="#111" stroke-width="1.1"/>
<text x="160" y="351.6" font-size="9.5" fill="#3a3a3a" text-anchor="middle">30</text>
<text x="296" y="351.6" font-size="9.5" fill="#3a3a3a" text-anchor="middle">9,05</text>
<text x="434" y="351.6" font-size="9.5" fill="#3a3a3a" text-anchor="middle">30</text>
<line x1="333.5" y1="272.3" x2="333.5" y2="706.9" stroke="#8a8a8a" stroke-width="0.8"/>
<line x1="326.5" y1="276.3" x2="340.5" y2="276.3" stroke="#c2c2c2" stroke-width="0.7"/>
<line x1="329.3" y1="272.1" x2="337.7" y2="280.5" stroke="#111" stroke-width="1.1"/>
<line x1="326.5" y1="702.9" x2="340.5" y2="702.9" stroke="#c2c2c2" stroke-width="0.7"/>
<line x1="329.3" y1="698.7" x2="337.7" y2="707.1" stroke="#111" stroke-width="1.1"/>
<text x="331.7" y="489" font-size="9.5" fill="#3a3a3a" text-anchor="middle" transform="rotate(-90 331.7 489)">13,20</text>
<line x1="349.6" y1="272.3" x2="349.6" y2="707" stroke="#8a8a8a" stroke-width="0.8"/>
<line x1="342.6" y1="276.3" x2="356.6" y2="276.3" stroke="#c2c2c2" stroke-width="0.7"/>
<line x1="345.4" y1="272.1" x2="353.8" y2="280.5" stroke="#111" stroke-width="1.1"/>
<line x1="342.6" y1="318.3" x2="356.6" y2="318.3" stroke="#c2c2c2" stroke-width="0.7"/>
<line x1="345.4" y1="314.1" x2="353.8" y2="322.5" stroke="#111" stroke-width="1.1"/>
<line x1="342.6" y1="324.8" x2="356.6" y2="324.8" stroke="#c2c2c2" stroke-width="0.7"/>
<line x1="345.4" y1="320.6" x2="353.8" y2="329" stroke="#111" stroke-width="1.1"/>
<line x1="342.6" y1="618.9" x2="356.6" y2="618.9" stroke="#c2c2c2" stroke-width="0.7"/>
<line x1="345.4" y1="614.7" x2="353.8" y2="623.1" stroke="#111" stroke-width="1.1"/>
<line x1="342.6" y1="625.4" x2="356.6" y2="625.4" stroke="#c2c2c2" stroke-width="0.7"/>
<line x1="345.4" y1="621.2" x2="353.8" y2="629.6" stroke="#111" stroke-width="1.1"/>
<line x1="342.6" y1="703" x2="356.6" y2="703" stroke="#c2c2c2" stroke-width="0.7"/>
<line x1="345.4" y1="698.8" x2="353.8" y2="707.2" stroke="#111" stroke-width="1.1"/>
<text x="347.8" y="297" font-size="9.5" fill="#3a3a3a" text-anchor="middle" transform="rotate(-90 347.8 297)">1,30</text>
<text x="347.8" y="336" font-size="9.5" fill="#3a3a3a" text-anchor="middle" transform="rotate(-90 347.8 336)">20</text>
<text x="347.8" y="475" font-size="9.5" fill="#3a3a3a" text-anchor="middle" transform="rotate(-90 347.8 475)">9,10</text>
<text x="347.8" y="632" font-size="9.5" fill="#3a3a3a" text-anchor="middle" transform="rotate(-90 347.8 632)">20</text>
<text x="347.8" y="668" font-size="9.5" fill="#3a3a3a" text-anchor="middle" transform="rotate(-90 347.8 668)">2,40</text>
<line x1="365.5" y1="320.6" x2="365.5" y2="622.8" stroke="#8a8a8a" stroke-width="0.8"/>
<line x1="358.5" y1="324.6" x2="372.5" y2="324.6" stroke="#c2c2c2" stroke-width="0.7"/>
<line x1="361.3" y1="320.4" x2="369.7" y2="328.8" stroke="#111" stroke-width="1.1"/>
<line x1="358.5" y1="334.3" x2="372.5" y2="334.3" stroke="#c2c2c2" stroke-width="0.7"/>
<line x1="361.3" y1="330.1" x2="369.7" y2="338.5" stroke="#111" stroke-width="1.1"/>
<line x1="358.5" y1="474.9" x2="372.5" y2="474.9" stroke="#c2c2c2" stroke-width="0.7"/>
<line x1="361.3" y1="470.7" x2="369.7" y2="479.1" stroke="#111" stroke-width="1.1"/>
<line x1="358.5" y1="483" x2="372.5" y2="483" stroke="#c2c2c2" stroke-width="0.7"/>
<line x1="361.3" y1="478.8" x2="369.7" y2="487.2" stroke="#111" stroke-width="1.1"/>
<line x1="358.5" y1="609.1" x2="372.5" y2="609.1" stroke="#c2c2c2" stroke-width="0.7"/>
<line x1="361.3" y1="604.9" x2="369.7" y2="613.3" stroke="#111" stroke-width="1.1"/>
<line x1="358.5" y1="618.8" x2="372.5" y2="618.8" stroke="#c2c2c2" stroke-width="0.7"/>
<line x1="361.3" y1="614.6" x2="369.7" y2="623" stroke="#111" stroke-width="1.1"/>
<text x="363.7" y="342.7" font-size="9.5" fill="#3a3a3a" text-anchor="middle" transform="rotate(-90 363.7 342.7)">30</text>
<text x="363.7" y="407.5" font-size="9.5" fill="#3a3a3a" text-anchor="middle" transform="rotate(-90 363.7 407.5)">4,35</text>
<text x="363.7" y="490" font-size="9.5" fill="#3a3a3a" text-anchor="middle" transform="rotate(-90 363.7 490)">25</text>
<text x="363.7" y="550" font-size="9.5" fill="#3a3a3a" text-anchor="middle" transform="rotate(-90 363.7 550)">3,90</text>
<text x="363.7" y="627" font-size="9.5" fill="#3a3a3a" text-anchor="middle" transform="rotate(-90 363.7 627)">30</text>
<line x1="381.5" y1="320.6" x2="381.5" y2="622.8" stroke="#8a8a8a" stroke-width="0.8"/>
<line x1="374.5" y1="324.6" x2="388.5" y2="324.6" stroke="#c2c2c2" stroke-width="0.7"/>
<line x1="377.3" y1="320.4" x2="385.7" y2="328.8" stroke="#111" stroke-width="1.1"/>
<line x1="374.5" y1="334.3" x2="388.5" y2="334.3" stroke="#c2c2c2" stroke-width="0.7"/>
<line x1="377.3" y1="330.1" x2="385.7" y2="338.5" stroke="#111" stroke-width="1.1"/>
<line x1="374.5" y1="424.8" x2="388.5" y2="424.8" stroke="#c2c2c2" stroke-width="0.7"/>
<line x1="377.3" y1="420.6" x2="385.7" y2="429" stroke="#111" stroke-width="1.1"/>
<line x1="374.5" y1="432.9" x2="388.5" y2="432.9" stroke="#c2c2c2" stroke-width="0.7"/>
<line x1="377.3" y1="428.7" x2="385.7" y2="437.1" stroke="#111" stroke-width="1.1"/>
<line x1="374.5" y1="474.9" x2="388.5" y2="474.9" stroke="#c2c2c2" stroke-width="0.7"/>
<line x1="377.3" y1="470.7" x2="385.7" y2="479.1" stroke="#111" stroke-width="1.1"/>
<line x1="374.5" y1="483" x2="388.5" y2="483" stroke="#c2c2c2" stroke-width="0.7"/>
<line x1="377.3" y1="478.8" x2="385.7" y2="487.2" stroke="#111" stroke-width="1.1"/>
<line x1="374.5" y1="528.3" x2="388.5" y2="528.3" stroke="#c2c2c2" stroke-width="0.7"/>
<line x1="377.3" y1="524.1" x2="385.7" y2="532.5" stroke="#111" stroke-width="1.1"/>
<line x1="374.5" y1="531.5" x2="388.5" y2="531.5" stroke="#c2c2c2" stroke-width="0.7"/>
<line x1="377.3" y1="527.3" x2="385.7" y2="535.7" stroke="#111" stroke-width="1.1"/>
<line x1="374.5" y1="609.1" x2="388.5" y2="609.1" stroke="#c2c2c2" stroke-width="0.7"/>
<line x1="377.3" y1="604.9" x2="385.7" y2="613.3" stroke="#111" stroke-width="1.1"/>
<line x1="374.5" y1="618.8" x2="388.5" y2="618.8" stroke="#c2c2c2" stroke-width="0.7"/>
<line x1="377.3" y1="614.6" x2="385.7" y2="623" stroke="#111" stroke-width="1.1"/>
<text x="379.7" y="342.7" font-size="9.5" fill="#3a3a3a" text-anchor="middle" transform="rotate(-90 379.7 342.7)">30</text>
<text x="379.7" y="379" font-size="9.5" fill="#3a3a3a" text-anchor="middle" transform="rotate(-90 379.7 379)">2,80</text>
<text x="379.7" y="415" font-size="9.5" fill="#3a3a3a" text-anchor="middle" transform="rotate(-90 379.7 415)">25</text>
<text x="379.7" y="452" font-size="9.5" fill="#3a3a3a" text-anchor="middle" transform="rotate(-90 379.7 452)">1,30</text>
<text x="379.7" y="490" font-size="9.5" fill="#3a3a3a" text-anchor="middle" transform="rotate(-90 379.7 490)">25</text>
<text x="379.7" y="507" font-size="9.5" fill="#3a3a3a" text-anchor="middle" transform="rotate(-90 379.7 507)">1,40</text>
<text x="379.7" y="540" font-size="9.5" fill="#3a3a3a" text-anchor="middle" transform="rotate(-90 379.7 540)">10</text>
<text x="379.7" y="575" font-size="9.5" fill="#3a3a3a" text-anchor="middle" transform="rotate(-90 379.7 575)">2,40</text>
<text x="379.7" y="627" font-size="9.5" fill="#3a3a3a" text-anchor="middle" transform="rotate(-90 379.7 627)">30</text>
<line x1="419.6" y1="138" x2="419.6" y2="748.3" stroke="#8a8a8a" stroke-width="0.8"/>
<line x1="412.6" y1="142" x2="426.6" y2="142" stroke="#c2c2c2" stroke-width="0.7"/>
<line x1="415.4" y1="137.8" x2="423.8" y2="146.2" stroke="#111" stroke-width="1.1"/>
<line x1="412.6" y1="151.4" x2="426.6" y2="151.4" stroke="#c2c2c2" stroke-width="0.7"/>
<line x1="415.4" y1="147.2" x2="423.8" y2="155.6" stroke="#111" stroke-width="1.1"/>
<line x1="412.6" y1="318.2" x2="426.6" y2="318.2" stroke="#c2c2c2" stroke-width="0.7"/>
<line x1="415.4" y1="314" x2="423.8" y2="322.4" stroke="#111" stroke-width="1.1"/>
<line x1="412.6" y1="328" x2="426.6" y2="328" stroke="#c2c2c2" stroke-width="0.7"/>
<line x1="415.4" y1="323.8" x2="423.8" y2="332.2" stroke="#111" stroke-width="1.1"/>
<line x1="412.6" y1="407.2" x2="426.6" y2="407.2" stroke="#c2c2c2" stroke-width="0.7"/>
<line x1="415.4" y1="403" x2="423.8" y2="411.4" stroke="#111" stroke-width="1.1"/>
<line x1="412.6" y1="455.7" x2="426.6" y2="455.7" stroke="#c2c2c2" stroke-width="0.7"/>
<line x1="415.4" y1="451.5" x2="423.8" y2="459.9" stroke="#111" stroke-width="1.1"/>
<line x1="412.6" y1="735.3" x2="426.6" y2="735.3" stroke="#c2c2c2" stroke-width="0.7"/>
<line x1="415.4" y1="731.1" x2="423.8" y2="739.5" stroke="#111" stroke-width="1.1"/>
<line x1="412.6" y1="744.3" x2="426.6" y2="744.3" stroke="#c2c2c2" stroke-width="0.7"/>
<line x1="415.4" y1="740.1" x2="423.8" y2="748.5" stroke="#111" stroke-width="1.1"/>
<text x="417.8" y="160" font-size="9.5" fill="#3a3a3a" text-anchor="middle" transform="rotate(-90 417.8 160)">30</text>
<text x="417.8" y="237" font-size="9.5" fill="#3a3a3a" text-anchor="middle" transform="rotate(-90 417.8 237)">5,15</text>
<text x="417.8" y="310" font-size="9.5" fill="#3a3a3a" text-anchor="middle" transform="rotate(-90 417.8 310)">30</text>
<text x="417.8" y="365" font-size="9.5" fill="#3a3a3a" text-anchor="middle" transform="rotate(-90 417.8 365)">2,45</text>
<text x="417.8" y="424" font-size="9.5" fill="#3a3a3a" text-anchor="middle" transform="rotate(-90 417.8 424)">1,50</text>
<text x="417.8" y="594" font-size="9.5" fill="#3a3a3a" text-anchor="middle" transform="rotate(-90 417.8 594)">8,65</text>
<text x="417.8" y="753" font-size="9.5" fill="#3a3a3a" text-anchor="middle" transform="rotate(-90 417.8 753)">30</text>
<line x1="400.2" y1="302" x2="456.6" y2="302" stroke="#8a8a8a" stroke-width="0.8"/>
<line x1="404.2" y1="296" x2="404.2" y2="308" stroke="#c2c2c2" stroke-width="0.7"/>
<line x1="400" y1="306.2" x2="408.4" y2="297.8" stroke="#111" stroke-width="1.1"/>
<line x1="452.6" y1="296" x2="452.6" y2="308" stroke="#c2c2c2" stroke-width="0.7"/>
<line x1="448.4" y1="306.2" x2="456.8" y2="297.8" stroke="#111" stroke-width="1.1"/>
<text x="428" y="300.2" font-size="9.5" fill="#3a3a3a" text-anchor="middle">1,50</text>
<line x1="400.3" y1="397.4" x2="447.2" y2="397.4" stroke="#8a8a8a" stroke-width="0.8"/>
<line x1="404.3" y1="391.4" x2="404.3" y2="403.4" stroke="#c2c2c2" stroke-width="0.7"/>
<line x1="400.1" y1="401.6" x2="408.5" y2="393.2" stroke="#111" stroke-width="1.1"/>
<line x1="443.2" y1="391.4" x2="443.2" y2="403.4" stroke="#c2c2c2" stroke-width="0.7"/>
<line x1="439" y1="401.6" x2="447.4" y2="393.2" stroke="#111" stroke-width="1.1"/>
<text x="423.5" y="395.6" font-size="9.5" fill="#3a3a3a" text-anchor="middle">1,20</text>
<line x1="269.1" y1="721.4" x2="457.2" y2="721.4" stroke="#8a8a8a" stroke-width="0.8"/>
<line x1="273.1" y1="715.4" x2="273.1" y2="727.4" stroke="#c2c2c2" stroke-width="0.7"/>
<line x1="268.9" y1="725.6" x2="277.3" y2="717.2" stroke="#111" stroke-width="1.1"/>
<line x1="443.2" y1="715.4" x2="443.2" y2="727.4" stroke="#c2c2c2" stroke-width="0.7"/>
<line x1="439" y1="725.6" x2="447.4" y2="717.2" stroke="#111" stroke-width="1.1"/>
<line x1="453.2" y1="715.4" x2="453.2" y2="727.4" stroke="#c2c2c2" stroke-width="0.7"/>
<line x1="449" y1="725.6" x2="457.4" y2="717.2" stroke="#111" stroke-width="1.1"/>
<text x="353.7" y="719.6" font-size="9.5" fill="#3a3a3a" text-anchor="middle">5,25</text>
<text x="434.3" y="719.6" font-size="9.5" fill="#3a3a3a" text-anchor="middle">30</text>
<text x="406" y="288" font-size="8" fill="#333">esővízelvezetés</text>
<polyline points="469,285 472,286 476,314" fill="none" stroke="#555" stroke-width="0.6"/>
<polygon points="473.5,312 478.5,312 476,316" fill="#333" stroke="#333" stroke-width="0.4"/>
<line x1="413" y1="151" x2="445" y2="318" stroke="#b5b5b5" stroke-width="0.7"/>
<line x1="137.6" y1="458.9" x2="403.3" y2="439.6" stroke="#f0a070" stroke-width="0.8"/>
<text x="272" y="446.5" font-size="9" fill="#f0a070" text-anchor="middle" transform="rotate(-4.2 272 446.5)">8,00</text>
<line x1="380" y1="142" x2="403.3" y2="439.6" stroke="#f3bf9c" stroke-width="0.8" stroke-dasharray="7 4"/>
<line x1="403.3" y1="439.6" x2="410.4" y2="631.8" stroke="#f3bf9c" stroke-width="0.8" stroke-dasharray="7 4"/>
<line x1="410.4" y1="631.8" x2="384.5" y2="775.1" stroke="#f0a070" stroke-width="0.8"/>
<text x="397" y="704" font-size="9" fill="#f0a070" text-anchor="middle" transform="rotate(-78 397 704)">4,50</text>
<polyline points="410.4,631.8 448,637.8 470,641.5 520,642" fill="none" stroke="#f3bf9c" stroke-width="0.8" stroke-dasharray="7 4"/>
<text x="317" y="561" font-size="14" fill="#111" text-anchor="middle" font-weight="bold">D</text>
<polyline points="326.8,543 326.8,564.2 336,564.2" fill="none" stroke="#111" stroke-width="1.6"/>
<line x1="453.3" y1="318.3" x2="453.3" y2="624.7" stroke="#2a2ab0" stroke-width="0.9"/>
<rect x="453.6" y="318.3" width="5.8" height="306.4" fill="#b5ae2f" stroke="#555" stroke-width="0.5"/>
<rect x="459.6" y="324.4" width="9.7" height="285.2" fill="url(#conc)" stroke="#3a3a3a" stroke-width="1.2"/>
<rect x="459.5" y="318.2" width="24.4" height="6.2" fill="url(#ins)" stroke="#555" stroke-width="0.5"/>
<rect x="542.2" y="318.2" width="50.8" height="6.2" fill="url(#ins)" stroke="#555" stroke-width="0.5"/>
<rect x="622.2" y="318.2" width="49.9" height="6.2" fill="url(#ins)" stroke="#555" stroke-width="0.5"/>
<rect x="692" y="318.2" width="61.3" height="6.2" fill="url(#ins)" stroke="#555" stroke-width="0.5"/>
<rect x="469.3" y="324.4" width="13.2" height="10.2" fill="url(#brick)" stroke="#2e2e2e" stroke-width="1.1"/>
<rect x="543" y="324.4" width="49.5" height="10.2" fill="url(#brick)" stroke="#2e2e2e" stroke-width="1.1"/>
<rect x="623.1" y="324.4" width="47.8" height="10.2" fill="url(#brick)" stroke="#2e2e2e" stroke-width="1.1"/>
<polygon points="693,324.4 746,324.4 746,609.6 737,609.6 737,334.6 693,334.6" fill="url(#brick)" stroke="#2e2e2e" stroke-width="1.1"/>
<rect x="483.9" y="318.6" width="58.7" height="16" fill="#fff" stroke="#9a9a9a" stroke-width="0.6" stroke-dasharray="3 1.5"/>
<rect x="485.4" y="325.2" width="55.7" height="2.8" fill="#f4f4f4" stroke="#8a8a8a" stroke-width="0.6"/>
<rect x="672" y="318.6" width="20" height="16" fill="#fff" stroke="#9a9a9a" stroke-width="0.6" stroke-dasharray="3 1.5"/>
<rect x="673.5" y="325.2" width="17" height="2.8" fill="#f4f4f4" stroke="#8a8a8a" stroke-width="0.6"/>
<rect x="746" y="324.2" width="7.4" height="84.2" fill="url(#ins)" stroke="#555" stroke-width="0.5"/>
<rect x="746" y="408.4" width="16.8" height="6.9" fill="url(#ins)" stroke="#555" stroke-width="0.5"/>
<rect x="760.4" y="415.3" width="2.4" height="9.4" fill="url(#ins)" stroke="#555" stroke-width="0.5"/>
<rect x="751.3" y="415.3" width="10.6" height="9.2" fill="#bdbdbd" stroke="#222" stroke-width="1.0"/>
<polygon points="754,422.5 756.5,419 759,422.5" fill="#111" stroke="#111" stroke-width="0.5"/>
<rect x="745.6" y="424.5" width="16" height="6" fill="#fff" stroke="#333" stroke-width="0.8"/>
<rect x="469.3" y="609.6" width="22" height="8.9" fill="url(#brick)" stroke="#2e2e2e" stroke-width="1.1"/>
<rect x="551" y="609.6" width="40.8" height="8.9" fill="url(#brick)" stroke="#2e2e2e" stroke-width="1.1"/>
<rect x="614.2" y="609.6" width="40.7" height="8.9" fill="url(#brick)" stroke="#2e2e2e" stroke-width="1.1"/>
<rect x="716" y="609.6" width="30" height="8.9" fill="url(#brick)" stroke="#2e2e2e" stroke-width="1.1"/>
<rect x="459.3" y="618.5" width="32" height="6.2" fill="url(#ins)" stroke="#555" stroke-width="0.5"/>
<rect x="550.6" y="618.5" width="42.4" height="6.2" fill="#b5ae2f" stroke="#555" stroke-width="0.5"/>
<rect x="613.4" y="618.5" width="42.8" height="6.2" fill="#b5ae2f" stroke="#555" stroke-width="0.5"/>
<rect x="715" y="618.5" width="31" height="6.2" fill="url(#ins)" stroke="#555" stroke-width="0.5"/>
<rect x="491.3" y="609.6" width="59.7" height="15.1" fill="#fff" stroke="#9a9a9a" stroke-width="0.6" stroke-dasharray="3 1.5"/>
<rect x="492.8" y="615.75" width="56.7" height="2.8" fill="#f4f4f4" stroke="#8a8a8a" stroke-width="0.6"/>
<rect x="591.8" y="609.6" width="22.4" height="15.1" fill="#fff" stroke="#9a9a9a" stroke-width="0.6" stroke-dasharray="3 1.5"/>
<rect x="593.3" y="615.75" width="19.4" height="2.8" fill="#f4f4f4" stroke="#8a8a8a" stroke-width="0.6"/>
<rect x="654.9" y="609.6" width="61.1" height="15.1" fill="#fff" stroke="#9a9a9a" stroke-width="0.6" stroke-dasharray="3 1.5"/>
<rect x="656.4" y="615.75" width="58.1" height="2.8" fill="#f4f4f4" stroke="#8a8a8a" stroke-width="0.6"/>
<rect x="469.3" y="475.2" width="101.6" height="7.9" fill="url(#brick)" stroke="#2e2e2e" stroke-width="1.1"/>
<rect x="600.1" y="475.2" width="48.6" height="7.9" fill="url(#brick)" stroke="#2e2e2e" stroke-width="1.1"/>
<rect x="677" y="475.2" width="60.2" height="7.9" fill="url(#brick)" stroke="#2e2e2e" stroke-width="1.1"/>
<rect x="600.1" y="483.1" width="4.4" height="44.3" fill="url(#brick)" stroke="#2e2e2e" stroke-width="0.9"/>
<rect x="600.1" y="527.4" width="35.4" height="3.6" fill="url(#brick)" stroke="#2e2e2e" stroke-width="0.9"/>
<rect x="570.9" y="527.4" width="3.5" height="82.2" fill="url(#brick)" stroke="#2e2e2e" stroke-width="0.9"/>
<rect x="570.9" y="527.4" width="5" height="3.6" fill="url(#brick)" stroke="#2e2e2e" stroke-width="0.9"/>
<rect x="632" y="527.4" width="3.5" height="82.2" fill="url(#brick)" stroke="#2e2e2e" stroke-width="0.9"/>
<line x1="608" y1="609" x2="608" y2="587" stroke="#111" stroke-width="1.0"/>
<line x1="608" y1="587" x2="617" y2="587" stroke="#111" stroke-width="1.0"/>
<line x1="617" y1="587" x2="617" y2="575" stroke="#111" stroke-width="1.0"/>
<rect x="554.6" y="334.6" width="3.6" height="109.7" fill="url(#brick)" stroke="#2e2e2e" stroke-width="0.9"/>
<rect x="588.6" y="365" width="3.6" height="67.3" fill="url(#brick)" stroke="#2e2e2e" stroke-width="0.9"/>
<rect x="622.2" y="334.6" width="3.5" height="97.7" fill="url(#brick)" stroke="#2e2e2e" stroke-width="0.9"/>
<line x1="558.2" y1="365" x2="588.6" y2="365" stroke="#bbb" stroke-width="0.6" stroke-dasharray="3 2"/>
<line x1="558.2" y1="376" x2="588.6" y2="376" stroke="#bbb" stroke-width="0.6" stroke-dasharray="3 2"/>
<line x1="558.2" y1="387" x2="588.6" y2="387" stroke="#bbb" stroke-width="0.6" stroke-dasharray="3 2"/>
<line x1="558.2" y1="398" x2="588.6" y2="398" stroke="#bbb" stroke-width="0.6" stroke-dasharray="3 2"/>
<line x1="558.2" y1="409" x2="588.6" y2="409" stroke="#bbb" stroke-width="0.6" stroke-dasharray="3 2"/>
<line x1="558.2" y1="420" x2="588.6" y2="420" stroke="#bbb" stroke-width="0.6" stroke-dasharray="3 2"/>
<line x1="558" y1="395" x2="588" y2="420" stroke="#ccc" stroke-width="0.5"/>
<line x1="588" y1="395" x2="558" y2="420" stroke="#ccc" stroke-width="0.5"/>
<line x1="592" y1="395" x2="622" y2="380" stroke="#ccc" stroke-width="0.5"/>
<line x1="592.2" y1="342" x2="622" y2="342" stroke="#c8c8c8" stroke-width="0.6" stroke-dasharray="3 2"/>
<line x1="592.2" y1="352" x2="622" y2="352" stroke="#c8c8c8" stroke-width="0.6" stroke-dasharray="3 2"/>
<line x1="592.2" y1="372" x2="622" y2="372" stroke="#c8c8c8" stroke-width="0.6" stroke-dasharray="3 2"/>
<line x1="592.2" y1="392" x2="622" y2="392" stroke="#c8c8c8" stroke-width="0.6" stroke-dasharray="3 2"/>
<line x1="592.2" y1="412" x2="622" y2="412" stroke="#c8c8c8" stroke-width="0.6" stroke-dasharray="3 2"/>
<rect x="685" y="389.8" width="52" height="4.4" fill="url(#brick)" stroke="#2e2e2e" stroke-width="0.9"/>
<rect x="685" y="389.8" width="3.5" height="54.4" fill="url(#brick)" stroke="#2e2e2e" stroke-width="0.9"/>
<rect x="656.2" y="429.6" width="32.3" height="3.6" fill="url(#brick)" stroke="#2e2e2e" stroke-width="0.9"/>
<rect x="550" y="421.8" width="7" height="7" fill="#bdbdbd" stroke="#222" stroke-width="0.9"/>
<polygon points="552,427 552,423.5 555,425.2" fill="#111" stroke="#111" stroke-width="0.4"/>
<rect x="623.1" y="421.8" width="7" height="7" fill="#bdbdbd" stroke="#222" stroke-width="0.9"/>
<polygon points="625.1,427 625.1,423.5 628.1,425.2" fill="#111" stroke="#111" stroke-width="0.4"/>
<rect x="712.9" y="335.9" width="22.4" height="51" rx="9" fill="none" stroke="#aaa" stroke-width="0.6"/>
<line x1="711.5" y1="335" x2="711.5" y2="389" stroke="#bbb" stroke-width="0.5"/>
<rect x="629.4" y="344.3" width="12.2" height="21.8" fill="none" stroke="#aaa" stroke-width="0.6"/>
<rect x="629.4" y="370.6" width="12.2" height="21.6" fill="none" stroke="#aaa" stroke-width="0.6"/>
<ellipse cx="672.8" cy="414" rx="5" ry="6" fill="none" stroke="#aaa" stroke-width="0.6"/>
<rect x="665" y="421" width="18" height="5" fill="none" stroke="#aaa" stroke-width="0.5"/>
<rect x="692" y="394.3" width="19.4" height="18.7" fill="none" stroke="#999" stroke-width="0.6"/>
<rect x="714.5" y="394.3" width="19.8" height="18.7" fill="none" stroke="#999" stroke-width="0.6"/>
<circle cx="701.7" cy="403.6" r="5" fill="none" stroke="#999" stroke-width="0.6"/><circle cx="724.4" cy="403.6" r="5" fill="none" stroke="#999" stroke-width="0.6"/>
<rect x="470" y="485" width="37" height="17" fill="none" stroke="#ccc" stroke-width="0.5"/>
<rect x="507" y="485" width="38" height="17" fill="none" stroke="#ccc" stroke-width="0.5"/>
<rect x="470" y="531" width="65" height="45" fill="none" stroke="#c8c8c8" stroke-width="0.5"/>
<rect x="470" y="518" width="9" height="70" fill="none" stroke="#d0d0d0" stroke-width="0.5"/>
<rect x="612" y="575" width="11" height="20" fill="none" stroke="#bbb" stroke-width="0.5"/>
<ellipse cx="621" cy="598" rx="4.5" ry="6" fill="none" stroke="#aaa" stroke-width="0.6"/>
<rect x="606" y="533" width="24" height="26" fill="none" stroke="#999" stroke-width="0.6"/>
<line x1="606" y1="533" x2="630" y2="559" stroke="#bbb" stroke-width="0.5"/>
<line x1="630" y1="533" x2="606" y2="559" stroke="#bbb" stroke-width="0.5"/>
<path d="M528 475.2 A27 27 0 0 1 555 448.2" fill="none" stroke="#777" stroke-width="0.6"/>
<line x1="555" y1="475.2" x2="555" y2="448.2" stroke="#777" stroke-width="0.7"/>
<path d="M597.4 509.1 A26 26 0 0 1 571.4 483.1" fill="none" stroke="#777" stroke-width="0.6"/>
<line x1="597.4" y1="483.1" x2="571.4" y2="483.1" stroke="#777" stroke-width="0.7"/>
<path d="M675.6 483.1 A26 26 0 0 1 649.6 509.1" fill="none" stroke="#777" stroke-width="0.6"/>
<line x1="649.6" y1="483.1" x2="649.6" y2="509.1" stroke="#777" stroke-width="0.7"/>
<path d="M686.8 447.2 A28 28 0 0 1 714.8 475.2" fill="none" stroke="#777" stroke-width="0.6"/>
<line x1="686.8" y1="475.2" x2="714.8" y2="475.2" stroke="#777" stroke-width="0.7"/>
<path d="M595 531 A19 19 0 0 1 576 550" fill="none" stroke="#777" stroke-width="0.6"/>
<line x1="576" y1="531" x2="576" y2="550" stroke="#777" stroke-width="0.7"/>
<path d="M621 361.6 A27 27 0 0 1 594 334.6" fill="none" stroke="#777" stroke-width="0.6"/>
<line x1="621" y1="334.6" x2="594" y2="334.6" stroke="#777" stroke-width="0.7"/>
<path d="M633.7 410.3 A22 22 0 0 1 655.7 432.3" fill="none" stroke="#777" stroke-width="0.6"/>
<line x1="633.7" y1="432.3" x2="655.7" y2="432.3" stroke="#777" stroke-width="0.7"/>
<rect x="500.1" y="389.8" width="25.7" height="11.5" fill="#fff" stroke="#555" stroke-width="1.1"/>
<text x="512.95" y="398.2" font-size="8.7" fill="#111" text-anchor="middle" font-weight="bold">L1-03</text>
<rect x="576.6" y="346" width="24.7" height="11.1" fill="#fff" stroke="#555" stroke-width="1.1"/>
<text x="588.95" y="354" font-size="8.7" fill="#111" text-anchor="middle" font-weight="bold">L1-01</text>
<rect x="659.9" y="366" width="25.6" height="12" fill="#fff" stroke="#555" stroke-width="1.1"/>
<text x="672.7" y="374.9" font-size="8.7" fill="#111" text-anchor="middle" font-weight="bold">L1-07</text>
<rect x="633.3" y="449.5" width="25.2" height="12.1" fill="#fff" stroke="#555" stroke-width="1.1"/>
<text x="645.9" y="458.5" font-size="8.7" fill="#111" text-anchor="middle" font-weight="bold">L1-02</text>
<rect x="700.2" y="427.8" width="25.2" height="11.8" fill="#fff" stroke="#555" stroke-width="1.1"/>
<text x="712.8" y="436.5" font-size="8.7" fill="#111" text-anchor="middle" font-weight="bold">L1-08</text>
<rect x="540.3" y="538.9" width="24.4" height="11.8" fill="#fff" stroke="#555" stroke-width="1.1"/>
<text x="552.5" y="547.6" font-size="8.7" fill="#111" text-anchor="middle" font-weight="bold">L1-04</text>
<rect x="673.2" y="539" width="25.1" height="12" fill="#fff" stroke="#555" stroke-width="1.1"/>
<text x="685.75" y="547.9" font-size="8.7" fill="#111" text-anchor="middle" font-weight="bold">L1-06</text>
<rect x="582.4" y="569" width="24.8" height="12.3" fill="#fff" stroke="#555" stroke-width="1.1"/>
<text x="594.8" y="578.2" font-size="8.7" fill="#111" text-anchor="middle" font-weight="bold">L1-05</text>
<rect x="531.1" y="297.8" width="20.7" height="10.6" fill="#fff" stroke="#111" stroke-width="1.5"/>
<text x="541.45" y="306.2" font-size="8.6" fill="#111" text-anchor="middle" font-weight="bold">F05</text>
<line x1="551.6" y1="300" x2="551.6" y2="342" stroke="#111" stroke-width="1.4"/>
<rect x="414.6" y="375.5" width="20.6" height="10.1" fill="#fff" stroke="#111" stroke-width="1.5"/>
<text x="424.9" y="383.4" font-size="8.6" fill="#111" text-anchor="middle" font-weight="bold">F04</text>
<line x1="435.2" y1="383" x2="475.8" y2="383" stroke="#111" stroke-width="1.4"/>
<rect x="414.5" y="537.3" width="21.3" height="10.1" fill="#fff" stroke="#111" stroke-width="1.5"/>
<text x="425.15" y="545.2" font-size="8.6" fill="#111" text-anchor="middle" font-weight="bold">F04</text>
<line x1="435.8" y1="544.6" x2="476" y2="544.6" stroke="#111" stroke-width="1.4"/>
<rect x="764.5" y="355.7" width="20.3" height="10.4" fill="#fff" stroke="#111" stroke-width="1.5"/>
<text x="774.65" y="363.9" font-size="8.6" fill="#111" text-anchor="middle" font-weight="bold">F05</text>
<line x1="730.1" y1="363" x2="764.5" y2="363" stroke="#111" stroke-width="1.4"/>
<rect x="486" y="635.6" width="20.5" height="9.4" fill="#fff" stroke="#111" stroke-width="1.5"/>
<text x="496.25" y="642.8" font-size="8.6" fill="#111" text-anchor="middle" font-weight="bold">F05</text>
<line x1="486.3" y1="600.5" x2="486.3" y2="645" stroke="#111" stroke-width="1.4"/>
<rect x="642.5" y="635.6" width="20.5" height="9.4" fill="#fff" stroke="#111" stroke-width="1.5"/>
<text x="652.75" y="642.8" font-size="8.6" fill="#111" text-anchor="middle" font-weight="bold">F06</text>
<line x1="642.8" y1="600.5" x2="642.8" y2="645" stroke="#111" stroke-width="1.4"/>
<text x="512.9" y="343.8" font-size="9.3" fill="#444" text-anchor="middle">pm 90</text>
<text x="682.4" y="343.8" font-size="9.3" fill="#444" text-anchor="middle">pm 1,20</text>
<text x="521" y="604.3" font-size="9.3" fill="#444" text-anchor="middle">pm 90</text>
<text x="602.7" y="604.3" font-size="9.3" fill="#444" text-anchor="middle">pm 1,20</text>
<text x="685.9" y="604.3" font-size="9.3" fill="#444" text-anchor="middle">pm 90</text>
<line x1="512.9" y1="326" x2="512.9" y2="351" stroke="#999" stroke-width="0.6"/>
<line x1="682.4" y1="326" x2="682.4" y2="351" stroke="#999" stroke-width="0.6"/>
<line x1="521" y1="592" x2="521" y2="624" stroke="#999" stroke-width="0.6"/>
<line x1="602.7" y1="592" x2="602.7" y2="624" stroke="#999" stroke-width="0.6"/>
<line x1="685.9" y1="592" x2="685.9" y2="624" stroke="#999" stroke-width="0.6"/>
<text x="510.2" y="303" font-size="8.6" fill="#444" text-anchor="middle" transform="rotate(-90 510.2 303)">180</text>
<text x="520.8" y="303" font-size="8.6" fill="#444" text-anchor="middle" transform="rotate(-90 520.8 303)">150</text>
<text x="605.7" y="303" font-size="8.6" fill="#444" text-anchor="middle" transform="rotate(-90 605.7 303)">90</text>
<text x="617.2" y="303" font-size="8.6" fill="#444" text-anchor="middle" transform="rotate(-90 617.2 303)">210</text>
<text x="680.9" y="303" font-size="8.6" fill="#444" text-anchor="middle" transform="rotate(-90 680.9 303)">60</text>
<text x="691.5" y="303" font-size="8.6" fill="#444" text-anchor="middle" transform="rotate(-90 691.5 303)">120</text>
<text x="521" y="637" font-size="8.6" fill="#444" text-anchor="middle" transform="rotate(-90 521 637)">180</text>
<text x="531.5" y="637" font-size="8.6" fill="#444" text-anchor="middle" transform="rotate(-90 531.5 637)">150</text>
<text x="604" y="637" font-size="8.6" fill="#444" text-anchor="middle" transform="rotate(-90 604 637)">60</text>
<text x="614.5" y="637" font-size="8.6" fill="#444" text-anchor="middle" transform="rotate(-90 614.5 637)">20</text>
<text x="685" y="637" font-size="8.6" fill="#444" text-anchor="middle" transform="rotate(-90 685 637)">180</text>
<text x="695.5" y="637" font-size="8.6" fill="#444" text-anchor="middle" transform="rotate(-90 695.5 637)">150</text>
<line x1="510.5" y1="283" x2="510.5" y2="318" stroke="#aaa" stroke-width="0.5"/>
<line x1="521" y1="283" x2="521" y2="318" stroke="#aaa" stroke-width="0.5"/>
<line x1="606" y1="283" x2="606" y2="318" stroke="#aaa" stroke-width="0.5"/>
<line x1="617.5" y1="283" x2="617.5" y2="318" stroke="#aaa" stroke-width="0.5"/>
<line x1="681" y1="283" x2="681" y2="318" stroke="#aaa" stroke-width="0.5"/>
<line x1="692" y1="283" x2="692" y2="318" stroke="#aaa" stroke-width="0.5"/>
<text x="547.9" y="456" font-size="8.6" fill="#444" text-anchor="middle">90</text>
<text x="546" y="468" font-size="8.6" fill="#444" text-anchor="middle">210</text>
<text x="694.7" y="456" font-size="8.6" fill="#444" text-anchor="middle">90</text>
<text x="696" y="468" font-size="8.6" fill="#444" text-anchor="middle">210</text>
<line x1="530" y1="458.5" x2="568" y2="458.5" stroke="#aaa" stroke-width="0.5"/>
<line x1="676" y1="458.5" x2="712" y2="458.5" stroke="#aaa" stroke-width="0.5"/>
<text x="582.7" y="493" font-size="8.6" fill="#444" text-anchor="middle" transform="rotate(-90 582.7 493)">90</text>
<text x="594.2" y="493" font-size="8.6" fill="#444" text-anchor="middle" transform="rotate(-90 594.2 493)">210</text>
<text x="660.6" y="493" font-size="8.6" fill="#444" text-anchor="middle" transform="rotate(-90 660.6 493)">90</text>
<text x="672.1" y="493" font-size="8.6" fill="#444" text-anchor="middle" transform="rotate(-90 672.1 493)">210</text>
<text x="585.4" y="537" font-size="8.6" fill="#444" text-anchor="middle" transform="rotate(-90 585.4 537)">75</text>
<text x="596.9" y="539.7" font-size="8.6" fill="#444" text-anchor="middle" transform="rotate(-90 596.9 539.7)">210</text>
<text x="642" y="423" font-size="8.6" fill="#444" text-anchor="middle" transform="rotate(-90 642 423)">75</text>
<text x="653.4" y="421.4" font-size="8.6" fill="#444" text-anchor="middle" transform="rotate(-90 653.4 421.4)">210</text>
<text x="566" y="420" font-size="6.5" fill="#222" text-anchor="middle" transform="rotate(-90 566 420)">16,95</text>
<text x="572.5" y="420" font-size="6.5" fill="#222" text-anchor="middle" transform="rotate(-90 572.5 420)">30,00</text>
<text x="569.5" y="438" font-size="6" fill="#222" text-anchor="middle" transform="rotate(-90 569.5 438)">18x</text>
<text x="607" y="386" font-size="6.5" fill="#222" text-anchor="middle" transform="rotate(-90 607 386)">16,67</text>
<text x="613" y="386" font-size="6.5" fill="#222" text-anchor="middle" transform="rotate(-90 613 386)">30,00</text>
<text x="610" y="372" font-size="6" fill="#222" text-anchor="middle" transform="rotate(-90 610 372)">x6</text>
<text x="519.6" y="431.5" font-size="9" fill="#444" text-anchor="middle">25/25 vb</text>
<line x1="538" y1="428.8" x2="550" y2="428.8" stroke="#888" stroke-width="0.5"/>
<text x="664" y="402" font-size="9" fill="#444" text-anchor="middle">25/25 vb</text>
<line x1="647" y1="399" x2="630" y2="428" stroke="#888" stroke-width="0.5"/>
<line x1="618.7" y1="302.3" x2="632.7" y2="302.3" stroke="#888" stroke-width="0.6"/>
<line x1="625.7" y1="295.3" x2="625.7" y2="309.3" stroke="#888" stroke-width="0.6"/>
<circle cx="625.7" cy="302.3" r="3.6" fill="#fff" stroke="#888" stroke-width="0.6"/>
<path d="M625.7 302.3h3.6a3.6 3.6 0 0 0 -3.6 -3.6zM625.7 302.3h-3.6a3.6 3.6 0 0 0 3.6 3.6z" fill="#111"/>
<text x="630.7" y="299.3" font-size="9.3" fill="#222">-4,07</text>
<line x1="588.7" y1="366.8" x2="602.7" y2="366.8" stroke="#888" stroke-width="0.6"/>
<line x1="595.7" y1="359.8" x2="595.7" y2="373.8" stroke="#888" stroke-width="0.6"/>
<circle cx="595.7" cy="366.8" r="3.6" fill="#fff" stroke="#888" stroke-width="0.6"/>
<path d="M595.7 366.8h3.6a3.6 3.6 0 0 0 -3.6 -3.6zM595.7 366.8h-3.6a3.6 3.6 0 0 0 3.6 3.6z" fill="#111"/>
<text x="600.7" y="363.8" font-size="9.3" fill="#222">-4,05</text>
<line x1="580.7" y1="455.3" x2="594.7" y2="455.3" stroke="#888" stroke-width="0.6"/>
<line x1="587.7" y1="448.3" x2="587.7" y2="462.3" stroke="#888" stroke-width="0.6"/>
<circle cx="587.7" cy="455.3" r="3.6" fill="#fff" stroke="#888" stroke-width="0.6"/>
<path d="M587.7 455.3h3.6a3.6 3.6 0 0 0 -3.6 -3.6zM587.7 455.3h-3.6a3.6 3.6 0 0 0 3.6 3.6z" fill="#111"/>
<text x="592.7" y="452.3" font-size="9.3" fill="#222">-3,05</text>
<line x1="452" y1="238.6" x2="746" y2="238.6" stroke="#a0a0a0" stroke-width="0.7"/>
<line x1="754" y1="239.3" x2="1135" y2="239.3" stroke="#b0b0b0" stroke-width="0.7" stroke-dasharray="6 3"/>
<line x1="746" y1="238.6" x2="746" y2="277.5" stroke="#999" stroke-width="0.6"/>
<line x1="754" y1="200" x2="754" y2="239.3" stroke="#999" stroke-width="0.6"/>
<polyline points="562,273 640.8,273 640.8,318" fill="none" stroke="#999" stroke-width="0.7" stroke-dasharray="4 2"/>
<line x1="575.3" y1="273" x2="575.3" y2="318" stroke="#999" stroke-width="0.7" stroke-dasharray="4 2"/>
<polyline points="583,318 583,277.5 746,277.5" fill="none" stroke="#999" stroke-width="0.7"/>
<polyline points="591.2,318 591.2,285.5 746,285.5" fill="none" stroke="#999" stroke-width="0.7"/>
<line x1="496.6" y1="234.6" x2="496.6" y2="322.2" stroke="#8a8a8a" stroke-width="0.8"/>
<line x1="489.6" y1="238.6" x2="503.6" y2="238.6" stroke="#c2c2c2" stroke-width="0.7"/>
<line x1="492.4" y1="234.4" x2="500.8" y2="242.8" stroke="#111" stroke-width="1.1"/>
<line x1="489.6" y1="318.2" x2="503.6" y2="318.2" stroke="#c2c2c2" stroke-width="0.7"/>
<line x1="492.4" y1="314" x2="500.8" y2="322.4" stroke="#111" stroke-width="1.1"/>
<text x="494.8" y="278.4" font-size="9.5" fill="#3a3a3a" text-anchor="middle" transform="rotate(-90 494.8 278.4)">2,45</text>
<line x1="562.6" y1="269" x2="562.6" y2="322.2" stroke="#8a8a8a" stroke-width="0.8"/>
<line x1="555.6" y1="273" x2="569.6" y2="273" stroke="#c2c2c2" stroke-width="0.7"/>
<line x1="558.4" y1="268.8" x2="566.8" y2="277.2" stroke="#111" stroke-width="1.1"/>
<line x1="555.6" y1="318.2" x2="569.6" y2="318.2" stroke="#c2c2c2" stroke-width="0.7"/>
<line x1="558.4" y1="314" x2="566.8" y2="322.4" stroke="#111" stroke-width="1.1"/>
<text x="560.8" y="295" font-size="9.5" fill="#3a3a3a" text-anchor="middle" transform="rotate(-90 560.8 295)">1,40</text>
<line x1="716.8" y1="234.6" x2="716.8" y2="321.8" stroke="#8a8a8a" stroke-width="0.8"/>
<line x1="709.8" y1="238.6" x2="723.8" y2="238.6" stroke="#c2c2c2" stroke-width="0.7"/>
<line x1="712.6" y1="234.4" x2="721" y2="242.8" stroke="#111" stroke-width="1.1"/>
<line x1="709.8" y1="277.4" x2="723.8" y2="277.4" stroke="#c2c2c2" stroke-width="0.7"/>
<line x1="712.6" y1="273.2" x2="721" y2="281.6" stroke="#111" stroke-width="1.1"/>
<line x1="709.8" y1="285.5" x2="723.8" y2="285.5" stroke="#c2c2c2" stroke-width="0.7"/>
<line x1="712.6" y1="281.3" x2="721" y2="289.7" stroke="#111" stroke-width="1.1"/>
<line x1="709.8" y1="317.8" x2="723.8" y2="317.8" stroke="#c2c2c2" stroke-width="0.7"/>
<line x1="712.6" y1="313.6" x2="721" y2="322" stroke="#111" stroke-width="1.1"/>
<text x="715" y="258" font-size="9.5" fill="#3a3a3a" text-anchor="middle" transform="rotate(-90 715 258)">1,20</text>
<text x="715" y="281.5" font-size="9.5" fill="#3a3a3a" text-anchor="middle" transform="rotate(-90 715 281.5)">25</text>
<text x="715" y="301.5" font-size="9.5" fill="#3a3a3a" text-anchor="middle" transform="rotate(-90 715 301.5)">1,00</text>
<line x1="446" y1="226.3" x2="460" y2="226.3" stroke="#888" stroke-width="0.6"/>
<line x1="453" y1="219.3" x2="453" y2="233.3" stroke="#888" stroke-width="0.6"/>
<circle cx="453" cy="226.3" r="3.6" fill="#fff" stroke="#888" stroke-width="0.6"/>
<path d="M453 226.3h3.6a3.6 3.6 0 0 0 -3.6 -3.6zM453 226.3h-3.6a3.6 3.6 0 0 0 3.6 3.6z" fill="#111"/>
<text x="458" y="223.3" font-size="9.3" fill="#222">-2,02</text>
<line x1="756.9" y1="226.5" x2="770.9" y2="226.5" stroke="#888" stroke-width="0.6"/>
<line x1="763.9" y1="219.5" x2="763.9" y2="233.5" stroke="#888" stroke-width="0.6"/>
<circle cx="763.9" cy="226.5" r="3.6" fill="#fff" stroke="#888" stroke-width="0.6"/>
<path d="M763.9 226.5h3.6a3.6 3.6 0 0 0 -3.6 -3.6zM763.9 226.5h-3.6a3.6 3.6 0 0 0 3.6 3.6z" fill="#111"/>
<text x="768.9" y="223.5" font-size="9.3" fill="#222">-4,07</text>
<line x1="754" y1="239.3" x2="850" y2="415" stroke="#c8c8c8" stroke-width="0.6" stroke-dasharray="5 3"/>
<line x1="939.5" y1="239.3" x2="850" y2="415" stroke="#c8c8c8" stroke-width="0.6" stroke-dasharray="5 3"/>
<line x1="949.6" y1="239.3" x2="1040" y2="415" stroke="#c8c8c8" stroke-width="0.6" stroke-dasharray="5 3"/>
<line x1="1135" y1="239.3" x2="1040" y2="415" stroke="#c8c8c8" stroke-width="0.6" stroke-dasharray="5 3"/>
<line x1="939.5" y1="239.3" x2="939.5" y2="408.7" stroke="#8a8a8a" stroke-width="0.7"/>
<line x1="949.6" y1="239.3" x2="949.6" y2="408.7" stroke="#8a8a8a" stroke-width="0.7"/>
<line x1="911.6" y1="235.3" x2="911.6" y2="419.4" stroke="#8a8a8a" stroke-width="0.8"/>
<line x1="904.6" y1="239.3" x2="918.6" y2="239.3" stroke="#c2c2c2" stroke-width="0.7"/>
<line x1="907.4" y1="235.1" x2="915.8" y2="243.5" stroke="#111" stroke-width="1.1"/>
<line x1="904.6" y1="409" x2="918.6" y2="409" stroke="#c2c2c2" stroke-width="0.7"/>
<line x1="907.4" y1="404.8" x2="915.8" y2="413.2" stroke="#111" stroke-width="1.1"/>
<line x1="904.6" y1="415.4" x2="918.6" y2="415.4" stroke="#c2c2c2" stroke-width="0.7"/>
<line x1="907.4" y1="411.2" x2="915.8" y2="419.6" stroke="#111" stroke-width="1.1"/>
<text x="909.8" y="319.4" font-size="9.5" fill="#3a3a3a" text-anchor="middle" transform="rotate(-90 909.8 319.4)">5,25</text>
<text x="909.8" y="403.4" font-size="9.5" fill="#3a3a3a" text-anchor="middle" transform="rotate(-90 909.8 403.4)">20</text>
<line x1="754" y1="408.7" x2="1140" y2="408.7" stroke="#c0c0c0" stroke-width="0.7" stroke-dasharray="6 3"/>
<line x1="754" y1="415.3" x2="1140" y2="415.3" stroke="#c0c0c0" stroke-width="0.7" stroke-dasharray="6 3"/>
<line x1="762" y1="424.5" x2="1135" y2="424.5" stroke="#b8b8b8" stroke-width="0.8"/>
<line x1="787.8" y1="320.7" x2="787.8" y2="433.7" stroke="#8a8a8a" stroke-width="0.8"/>
<line x1="780.8" y1="324.7" x2="794.8" y2="324.7" stroke="#c2c2c2" stroke-width="0.7"/>
<line x1="783.6" y1="320.5" x2="792" y2="328.9" stroke="#111" stroke-width="1.1"/>
<line x1="780.8" y1="334.4" x2="794.8" y2="334.4" stroke="#c2c2c2" stroke-width="0.7"/>
<line x1="783.6" y1="330.2" x2="792" y2="338.6" stroke="#111" stroke-width="1.1"/>
<line x1="780.8" y1="429.7" x2="794.8" y2="429.7" stroke="#c2c2c2" stroke-width="0.7"/>
<line x1="783.6" y1="425.5" x2="792" y2="433.9" stroke="#111" stroke-width="1.1"/>
<text x="786" y="341.5" font-size="9.5" fill="#3a3a3a" text-anchor="middle" transform="rotate(-90 786 341.5)">30</text>
<text x="786" y="380.4" font-size="9.5" fill="#3a3a3a" text-anchor="middle" transform="rotate(-90 786 380.4)">2,95</text>
<line x1="804.6" y1="320.7" x2="804.6" y2="396.6" stroke="#8a8a8a" stroke-width="0.8"/>
<line x1="797.6" y1="324.7" x2="811.6" y2="324.7" stroke="#c2c2c2" stroke-width="0.7"/>
<line x1="800.4" y1="320.5" x2="808.8" y2="328.9" stroke="#111" stroke-width="1.1"/>
<line x1="797.6" y1="334.4" x2="811.6" y2="334.4" stroke="#c2c2c2" stroke-width="0.7"/>
<line x1="800.4" y1="330.2" x2="808.8" y2="338.6" stroke="#111" stroke-width="1.1"/>
<line x1="797.6" y1="389.3" x2="811.6" y2="389.3" stroke="#c2c2c2" stroke-width="0.7"/>
<line x1="800.4" y1="385.1" x2="808.8" y2="393.5" stroke="#111" stroke-width="1.1"/>
<line x1="797.6" y1="392.6" x2="811.6" y2="392.6" stroke="#c2c2c2" stroke-width="0.7"/>
<line x1="800.4" y1="388.4" x2="808.8" y2="396.8" stroke="#111" stroke-width="1.1"/>
<text x="802.8" y="341.5" font-size="9.5" fill="#3a3a3a" text-anchor="middle" transform="rotate(-90 802.8 341.5)">30</text>
<text x="802.8" y="364.5" font-size="9.5" fill="#3a3a3a" text-anchor="middle" transform="rotate(-90 802.8 364.5)">1,70</text>
<text x="802.8" y="400" font-size="9.5" fill="#3a3a3a" text-anchor="middle" transform="rotate(-90 802.8 400)">10</text>
<line x1="821.4" y1="313.6" x2="821.4" y2="428" stroke="#8a8a8a" stroke-width="0.8"/>
<line x1="814.4" y1="317.6" x2="828.4" y2="317.6" stroke="#c2c2c2" stroke-width="0.7"/>
<line x1="817.2" y1="313.4" x2="825.6" y2="321.8" stroke="#111" stroke-width="1.1"/>
<line x1="814.4" y1="323.8" x2="828.4" y2="323.8" stroke="#c2c2c2" stroke-width="0.7"/>
<line x1="817.2" y1="319.6" x2="825.6" y2="328" stroke="#111" stroke-width="1.1"/>
<line x1="814.4" y1="414.3" x2="828.4" y2="414.3" stroke="#c2c2c2" stroke-width="0.7"/>
<line x1="817.2" y1="410.1" x2="825.6" y2="418.5" stroke="#111" stroke-width="1.1"/>
<line x1="814.4" y1="424" x2="828.4" y2="424" stroke="#c2c2c2" stroke-width="0.7"/>
<line x1="817.2" y1="419.8" x2="825.6" y2="428.2" stroke="#111" stroke-width="1.1"/>
<text x="819.6" y="331.8" font-size="9.5" fill="#3a3a3a" text-anchor="middle" transform="rotate(-90 819.6 331.8)">20</text>
<text x="819.6" y="375.1" font-size="9.5" fill="#3a3a3a" text-anchor="middle" transform="rotate(-90 819.6 375.1)">2,80</text>
<text x="819.6" y="432.7" font-size="9.5" fill="#3a3a3a" text-anchor="middle" transform="rotate(-90 819.6 432.7)">30</text>
<line x1="842.6" y1="385" x2="842.6" y2="424" stroke="#999" stroke-width="0.6"/>
<text x="845.5" y="396.4" font-size="8.6" fill="#444" text-anchor="middle" transform="rotate(-90 845.5 396.4)">500</text>
<text x="851.5" y="396.4" font-size="8.6" fill="#444" text-anchor="middle" transform="rotate(-90 851.5 396.4)">212⁵</text>
<line x1="1040.7" y1="385" x2="1040.7" y2="424" stroke="#999" stroke-width="0.6"/>
<text x="1043.5" y="396.4" font-size="8.6" fill="#444" text-anchor="middle" transform="rotate(-90 1043.5 396.4)">500</text>
<text x="1049.5" y="396.4" font-size="8.6" fill="#444" text-anchor="middle" transform="rotate(-90 1049.5 396.4)">212⁵</text>
<text x="832" y="375.1" font-size="8.4" fill="#333">szellőző</text>
<polyline points="830,372 754,408" fill="none" stroke="#555" stroke-width="0.6"/>
<text x="967.3" y="344.2" font-size="8.4" fill="#333">hőszivattyú beltéri egység</text>
<polyline points="1058.6,341.6 1062,341.6 1133.8,402.4" fill="none" stroke="#555" stroke-width="0.6"/>
<text x="1026.6" y="367.2" font-size="8.4" fill="#333">szellőző</text>
<polyline points="1058.6,365 1062,365 1132.7,405.8" fill="none" stroke="#555" stroke-width="0.6"/>
<line x1="1118" y1="225.4" x2="1132" y2="225.4" stroke="#888" stroke-width="0.6"/>
<line x1="1125" y1="218.4" x2="1125" y2="232.4" stroke="#888" stroke-width="0.6"/>
<circle cx="1125" cy="225.4" r="3.6" fill="#fff" stroke="#888" stroke-width="0.6"/>
<path d="M1125 225.4h3.6a3.6 3.6 0 0 0 -3.6 -3.6zM1125 225.4h-3.6a3.6 3.6 0 0 0 3.6 3.6z" fill="#111"/>
<text x="1130" y="222.4" font-size="9.3" fill="#222">-5,90</text>
<text x="1031" y="254.8" font-size="8.4" fill="#333">esővízelvezetés</text>
<rect x="921.3" y="408.7" width="45.5" height="6.3" fill="url(#ins)" stroke="#555" stroke-width="0.5"/>
<rect x="921.3" y="415" width="10.7" height="9.3" fill="#bdbdbd" stroke="#222" stroke-width="1.0"/>
<rect x="955.5" y="415" width="10.7" height="9.3" fill="#bdbdbd" stroke="#222" stroke-width="1.0"/>
<rect x="932" y="415" width="23.5" height="9.3" fill="url(#brick)" stroke="#2e2e2e" stroke-width="0.8"/>
<rect x="922.2" y="388.4" width="21.2" height="11.1" fill="#fff" stroke="#111" stroke-width="1.5"/>
<text x="932.8" y="397.3" font-size="8.6" fill="#111" text-anchor="middle" font-weight="bold">F05</text>
<line x1="943.4" y1="394" x2="943.4" y2="431.7" stroke="#111" stroke-width="1.4"/>
<text x="965.5" y="397.2" font-size="8.6" fill="#222">30/30 vb</text>
<polyline points="963,394 950,414" fill="none" stroke="#555" stroke-width="0.6"/>
<line x1="856.8" y1="408.7" x2="870.8" y2="408.7" stroke="#888" stroke-width="0.6"/>
<line x1="863.8" y1="401.7" x2="863.8" y2="415.7" stroke="#888" stroke-width="0.6"/>
<circle cx="863.8" cy="408.7" r="3.6" fill="#fff" stroke="#888" stroke-width="0.6"/>
<path d="M863.8 408.7h3.6a3.6 3.6 0 0 0 -3.6 -3.6zM863.8 408.7h-3.6a3.6 3.6 0 0 0 3.6 3.6z" fill="#111"/>
<text x="868.8" y="405.7" font-size="9.3" fill="#222">-4,07</text>
<line x1="997.5" y1="408.7" x2="1011.5" y2="408.7" stroke="#888" stroke-width="0.6"/>
<line x1="1004.5" y1="401.7" x2="1004.5" y2="415.7" stroke="#888" stroke-width="0.6"/>
<circle cx="1004.5" cy="408.7" r="3.6" fill="#fff" stroke="#888" stroke-width="0.6"/>
<path d="M1004.5 408.7h3.6a3.6 3.6 0 0 0 -3.6 -3.6zM1004.5 408.7h-3.6a3.6 3.6 0 0 0 3.6 3.6z" fill="#111"/>
<text x="1009.5" y="405.7" font-size="9.3" fill="#222">-5,07</text>
<line x1="845.3" y1="440.7" x2="859.3" y2="440.7" stroke="#888" stroke-width="0.6"/>
<line x1="852.3" y1="433.7" x2="852.3" y2="447.7" stroke="#888" stroke-width="0.6"/>
<circle cx="852.3" cy="440.7" r="3.6" fill="#fff" stroke="#888" stroke-width="0.6"/>
<path d="M852.3 440.7h3.6a3.6 3.6 0 0 0 -3.6 -3.6zM852.3 440.7h-3.6a3.6 3.6 0 0 0 3.6 3.6z" fill="#111"/>
<text x="857.3" y="437.7" font-size="9.3" fill="#222">-4,05</text>
<line x1="1007.2" y1="440.7" x2="1021.2" y2="440.7" stroke="#888" stroke-width="0.6"/>
<line x1="1014.2" y1="433.7" x2="1014.2" y2="447.7" stroke="#888" stroke-width="0.6"/>
<circle cx="1014.2" cy="440.7" r="3.6" fill="#fff" stroke="#888" stroke-width="0.6"/>
<path d="M1014.2 440.7h3.6a3.6 3.6 0 0 0 -3.6 -3.6zM1014.2 440.7h-3.6a3.6 3.6 0 0 0 3.6 3.6z" fill="#111"/>
<text x="1019.2" y="437.7" font-size="9.3" fill="#222">-5,05</text>
<line x1="874.5" y1="592.8" x2="888.5" y2="592.8" stroke="#888" stroke-width="0.6"/>
<line x1="881.5" y1="585.8" x2="881.5" y2="599.8" stroke="#888" stroke-width="0.6"/>
<circle cx="881.5" cy="592.8" r="3.6" fill="#fff" stroke="#888" stroke-width="0.6"/>
<path d="M881.5 592.8h3.6a3.6 3.6 0 0 0 -3.6 -3.6zM881.5 592.8h-3.6a3.6 3.6 0 0 0 3.6 3.6z" fill="#111"/>
<text x="886.5" y="589.8" font-size="9.3" fill="#222">-4,05</text>
<rect x="737" y="424.5" width="8.6" height="184.2" fill="url(#brick)" stroke="#2e2e2e" stroke-width="1.1"/>
<line x1="745.3" y1="424.8" x2="745.3" y2="608.7" stroke="#222" stroke-width="1.0"/>
<rect x="939.9" y="424.3" width="8.8" height="184.4" fill="url(#brick)" stroke="#2e2e2e" stroke-width="1.1"/>
<rect x="745.3" y="608.8" width="148.5" height="10.5" fill="url(#brick)" stroke="#2e2e2e" stroke-width="1.1"/>
<rect x="923.1" y="608.8" width="212" height="10.5" fill="url(#brick)" stroke="#2e2e2e" stroke-width="1.1"/>
<rect x="745.3" y="619.3" width="148.5" height="5.3" fill="url(#ins)" stroke="#555" stroke-width="0.5"/>
<rect x="922.7" y="619.3" width="212.5" height="5.3" fill="url(#ins)" stroke="#555" stroke-width="0.5"/>
<path d="M895.3 608.7 A26 26 0 0 1 921.3 582.7" fill="none" stroke="#777" stroke-width="0.6"/>
<line x1="921.3" y1="608.7" x2="921.3" y2="582.7" stroke="#777" stroke-width="0.7"/>
<rect x="1135.5" y="619.3" width="5.9" height="82.4" fill="url(#ins)" stroke="#555" stroke-width="0.5"/>
<rect x="1141.4" y="608.8" width="9.9" height="87.5" fill="url(#brick)" stroke="#2e2e2e" stroke-width="1.1"/>
<polyline points="821.4,492.9 921.3,492.9 921.3,424.5" fill="none" stroke="#aaa" stroke-width="0.7" stroke-dasharray="5 3"/>
<polyline points="966.4,424.5 966.4,492.9 1130,492.9" fill="none" stroke="#aaa" stroke-width="0.7" stroke-dasharray="5 3"/>
<line x1="821.4" y1="424.5" x2="921.3" y2="492.9" stroke="#ccc" stroke-width="0.6" stroke-dasharray="5 4"/>
<line x1="921.3" y1="424.5" x2="821.4" y2="492.9" stroke="#ccc" stroke-width="0.6" stroke-dasharray="5 4"/>
<line x1="966.4" y1="424.5" x2="1130" y2="492.9" stroke="#ccc" stroke-width="0.6" stroke-dasharray="5 4"/>
<line x1="1130" y1="424.5" x2="966.4" y2="492.9" stroke="#ccc" stroke-width="0.6" stroke-dasharray="5 4"/>
<rect x="844.4" y="517.3" width="25.1" height="12.2" fill="#fff" stroke="#555" stroke-width="1.1"/>
<text x="856.95" y="526.4" font-size="8.7" fill="#111" text-anchor="middle" font-weight="bold">L1-09</text>
<rect x="973.2" y="517.3" width="25.1" height="12.2" fill="#fff" stroke="#555" stroke-width="1.1"/>
<text x="985.75" y="526.4" font-size="8.7" fill="#111" text-anchor="middle" font-weight="bold">L2-13</text>
<text x="886.5" y="455.2" font-size="8.6" fill="#222">vb gerenda</text>
<text x="886.5" y="464.6" font-size="8.6" fill="#222">AS: -1,85</text>
<polyline points="884,457.5 880.6,457.5 880.6,421" fill="none" stroke="#555" stroke-width="0.6"/>
<polygon points="878.6,423 882.6,423 880.6,419.5" fill="#111" stroke="#111" stroke-width="0.4"/>
<text x="981.5" y="458" font-size="8.6" fill="#222">vb gerenda</text>
<text x="981.5" y="467.5" font-size="8.6" fill="#222">AS: -2,85</text>
<polyline points="979,460 975.8,460 975.8,421" fill="none" stroke="#555" stroke-width="0.6"/>
<polygon points="973.8,423 977.8,423 975.8,419.5" fill="#111" stroke="#111" stroke-width="0.4"/>
<text x="989.4" y="485.8" font-size="8.4" fill="#222">Aco felülvilágító</text>
<polyline points="1045,483 1049.2,483 1049.2,507" fill="none" stroke="#555" stroke-width="0.6"/>
<rect x="1030.1" y="500.8" width="32.3" height="33.6" fill="none" stroke="#aaa" stroke-width="0.7" stroke-dasharray="4 2"/>
<line x1="1030.1" y1="500.8" x2="1062.4" y2="534.4" stroke="#ccc" stroke-width="0.6" stroke-dasharray="4 2"/>
<line x1="1062.4" y1="500.8" x2="1030.1" y2="534.4" stroke="#ccc" stroke-width="0.6" stroke-dasharray="4 2"/>
<line x1="772.7" y1="411.4" x2="772.7" y2="613" stroke="#8a8a8a" stroke-width="0.8"/>
<line x1="765.7" y1="415.4" x2="779.7" y2="415.4" stroke="#c2c2c2" stroke-width="0.7"/>
<line x1="768.5" y1="411.2" x2="776.9" y2="419.6" stroke="#111" stroke-width="1.1"/>
<line x1="765.7" y1="465.5" x2="779.7" y2="465.5" stroke="#c2c2c2" stroke-width="0.7"/>
<line x1="768.5" y1="461.3" x2="776.9" y2="469.7" stroke="#111" stroke-width="1.1"/>
<line x1="765.7" y1="473.6" x2="779.7" y2="473.6" stroke="#c2c2c2" stroke-width="0.7"/>
<line x1="768.5" y1="469.4" x2="776.9" y2="477.8" stroke="#111" stroke-width="1.1"/>
<line x1="765.7" y1="599.6" x2="779.7" y2="599.6" stroke="#c2c2c2" stroke-width="0.7"/>
<line x1="768.5" y1="595.4" x2="776.9" y2="603.8" stroke="#111" stroke-width="1.1"/>
<line x1="765.7" y1="609" x2="779.7" y2="609" stroke="#c2c2c2" stroke-width="0.7"/>
<line x1="768.5" y1="604.8" x2="776.9" y2="613.2" stroke="#111" stroke-width="1.1"/>
<text x="770.9" y="445" font-size="9.5" fill="#3a3a3a" text-anchor="middle" transform="rotate(-90 770.9 445)">1,55</text>
<text x="770.9" y="490.2" font-size="9.5" fill="#3a3a3a" text-anchor="middle" transform="rotate(-90 770.9 490.2)">25</text>
<text x="770.9" y="550.4" font-size="9.5" fill="#3a3a3a" text-anchor="middle" transform="rotate(-90 770.9 550.4)">3,90</text>
<line x1="788.6" y1="411.4" x2="788.6" y2="477.6" stroke="#8a8a8a" stroke-width="0.8"/>
<line x1="781.6" y1="415.4" x2="795.6" y2="415.4" stroke="#c2c2c2" stroke-width="0.7"/>
<line x1="784.4" y1="411.2" x2="792.8" y2="419.6" stroke="#111" stroke-width="1.1"/>
<line x1="781.6" y1="457.4" x2="795.6" y2="457.4" stroke="#c2c2c2" stroke-width="0.7"/>
<line x1="784.4" y1="453.2" x2="792.8" y2="461.6" stroke="#111" stroke-width="1.1"/>
<line x1="781.6" y1="465.5" x2="795.6" y2="465.5" stroke="#c2c2c2" stroke-width="0.7"/>
<line x1="784.4" y1="461.3" x2="792.8" y2="469.7" stroke="#111" stroke-width="1.1"/>
<line x1="781.6" y1="473.6" x2="795.6" y2="473.6" stroke="#c2c2c2" stroke-width="0.7"/>
<line x1="784.4" y1="469.4" x2="792.8" y2="477.8" stroke="#111" stroke-width="1.1"/>
<text x="786.8" y="449.5" font-size="9.5" fill="#3a3a3a" text-anchor="middle" transform="rotate(-90 786.8 449.5)">1,30</text>
<text x="786.8" y="490.2" font-size="9.5" fill="#3a3a3a" text-anchor="middle" transform="rotate(-90 786.8 490.2)">25</text>
<line x1="804.6" y1="388.6" x2="804.6" y2="477.6" stroke="#8a8a8a" stroke-width="0.8"/>
<line x1="797.6" y1="392.6" x2="811.6" y2="392.6" stroke="#c2c2c2" stroke-width="0.7"/>
<line x1="800.4" y1="388.4" x2="808.8" y2="396.8" stroke="#111" stroke-width="1.1"/>
<line x1="797.6" y1="465" x2="811.6" y2="465" stroke="#c2c2c2" stroke-width="0.7"/>
<line x1="800.4" y1="460.8" x2="808.8" y2="469.2" stroke="#111" stroke-width="1.1"/>
<line x1="797.6" y1="473.6" x2="811.6" y2="473.6" stroke="#c2c2c2" stroke-width="0.7"/>
<line x1="800.4" y1="469.4" x2="808.8" y2="477.8" stroke="#111" stroke-width="1.1"/>
<text x="802.8" y="438" font-size="9.5" fill="#3a3a3a" text-anchor="middle" transform="rotate(-90 802.8 438)">2,55</text>
<text x="802.8" y="490.2" font-size="9.5" fill="#3a3a3a" text-anchor="middle" transform="rotate(-90 802.8 490.2)">25</text>
<line x1="821.4" y1="420" x2="821.4" y2="622.5" stroke="#8a8a8a" stroke-width="0.8"/>
<line x1="814.4" y1="424" x2="828.4" y2="424" stroke="#c2c2c2" stroke-width="0.7"/>
<line x1="817.2" y1="419.8" x2="825.6" y2="428.2" stroke="#111" stroke-width="1.1"/>
<line x1="814.4" y1="608.8" x2="828.4" y2="608.8" stroke="#c2c2c2" stroke-width="0.7"/>
<line x1="817.2" y1="604.6" x2="825.6" y2="613" stroke="#111" stroke-width="1.1"/>
<line x1="814.4" y1="618.5" x2="828.4" y2="618.5" stroke="#c2c2c2" stroke-width="0.7"/>
<line x1="817.2" y1="614.3" x2="825.6" y2="622.7" stroke="#111" stroke-width="1.1"/>
<text x="819.6" y="516.8" font-size="9.5" fill="#3a3a3a" text-anchor="middle" transform="rotate(-90 819.6 516.8)">5,70</text>
<text x="819.6" y="601.7" font-size="9.5" fill="#3a3a3a" text-anchor="middle" transform="rotate(-90 819.6 601.7)">30</text>
<text x="819.6" y="629" font-size="9.5" fill="#3a3a3a" text-anchor="middle" transform="rotate(-90 819.6 629)">20</text>
<line x1="1016.8" y1="496.8" x2="1016.8" y2="622.5" stroke="#8a8a8a" stroke-width="0.8"/>
<line x1="1009.8" y1="500.8" x2="1023.8" y2="500.8" stroke="#c2c2c2" stroke-width="0.7"/>
<line x1="1012.6" y1="496.6" x2="1021" y2="505" stroke="#111" stroke-width="1.1"/>
<line x1="1009.8" y1="534.4" x2="1023.8" y2="534.4" stroke="#c2c2c2" stroke-width="0.7"/>
<line x1="1012.6" y1="530.2" x2="1021" y2="538.6" stroke="#111" stroke-width="1.1"/>
<line x1="1009.8" y1="546.5" x2="1023.8" y2="546.5" stroke="#c2c2c2" stroke-width="0.7"/>
<line x1="1012.6" y1="542.3" x2="1021" y2="550.7" stroke="#111" stroke-width="1.1"/>
<line x1="1009.8" y1="608.8" x2="1023.8" y2="608.8" stroke="#c2c2c2" stroke-width="0.7"/>
<line x1="1012.6" y1="604.6" x2="1021" y2="613" stroke="#111" stroke-width="1.1"/>
<line x1="1009.8" y1="618.5" x2="1023.8" y2="618.5" stroke="#c2c2c2" stroke-width="0.7"/>
<line x1="1012.6" y1="614.3" x2="1021" y2="622.7" stroke="#111" stroke-width="1.1"/>
<text x="1015" y="515.9" font-size="9.5" fill="#3a3a3a" text-anchor="middle" transform="rotate(-90 1015 515.9)">1,00</text>
<text x="1015" y="566.3" font-size="9.5" fill="#3a3a3a" text-anchor="middle" transform="rotate(-90 1015 566.3)">2,35</text>
<text x="1015" y="601.7" font-size="9.5" fill="#3a3a3a" text-anchor="middle" transform="rotate(-90 1015 601.7)">30</text>
<text x="1015" y="629" font-size="9.5" fill="#3a3a3a" text-anchor="middle" transform="rotate(-90 1015 629)">20</text>
<line x1="944.7" y1="546.5" x2="1135" y2="546.5" stroke="#8a8a8a" stroke-width="0.8"/>
<line x1="948.7" y1="540.5" x2="948.7" y2="552.5" stroke="#c2c2c2" stroke-width="0.7"/>
<line x1="944.5" y1="550.7" x2="952.9" y2="542.3" stroke="#111" stroke-width="1.1"/>
<line x1="1030.1" y1="540.5" x2="1030.1" y2="552.5" stroke="#c2c2c2" stroke-width="0.7"/>
<line x1="1025.9" y1="550.7" x2="1034.3" y2="542.3" stroke="#111" stroke-width="1.1"/>
<line x1="1062.4" y1="540.5" x2="1062.4" y2="552.5" stroke="#c2c2c2" stroke-width="0.7"/>
<line x1="1058.2" y1="550.7" x2="1066.6" y2="542.3" stroke="#111" stroke-width="1.1"/>
<text x="989.4" y="544.7" font-size="9.5" fill="#3a3a3a" text-anchor="middle">2,50</text>
<text x="1046" y="544.7" font-size="9.5" fill="#3a3a3a" text-anchor="middle">1,00</text>
<text x="763.2" y="467.7" font-size="8.6" fill="#222">30/30 vb</text>
<polyline points="760,465 757,465 757,425" fill="none" stroke="#555" stroke-width="0.6"/>
<rect x="846.3" y="633.5" width="21.7" height="9.5" fill="#fff" stroke="#111" stroke-width="1.5"/>
<text x="857.15" y="640.8" font-size="8.6" fill="#111" text-anchor="middle" font-weight="bold">F05</text>
<line x1="846.4" y1="600.8" x2="846.4" y2="643" stroke="#111" stroke-width="1.4"/>
<rect x="1040.9" y="633.5" width="21.6" height="9.5" fill="#fff" stroke="#111" stroke-width="1.5"/>
<text x="1051.7" y="640.8" font-size="8.6" fill="#111" text-anchor="middle" font-weight="bold">F05</text>
<line x1="1041" y1="600.8" x2="1041" y2="643" stroke="#111" stroke-width="1.4"/>
<line x1="763" y1="625" x2="763" y2="659" stroke="#999" stroke-width="0.6"/>
<line x1="770" y1="625" x2="770" y2="659" stroke="#999" stroke-width="0.6"/>
<line x1="777" y1="625" x2="777" y2="659" stroke="#999" stroke-width="0.6"/>
<line x1="784" y1="625" x2="784" y2="659" stroke="#999" stroke-width="0.6"/>
<line x1="791" y1="625" x2="791" y2="659" stroke="#999" stroke-width="0.6"/>
<line x1="798" y1="625" x2="798" y2="659" stroke="#999" stroke-width="0.6"/>
<line x1="805" y1="625" x2="805" y2="659" stroke="#999" stroke-width="0.6"/>
<line x1="812" y1="625" x2="812" y2="659" stroke="#999" stroke-width="0.6"/>
<line x1="763" y1="659" x2="812" y2="659" stroke="#999" stroke-width="0.6"/>
<line x1="812" y1="625" x2="826" y2="659" stroke="#bbb" stroke-width="0.5"/>
<line x1="820" y1="625" x2="820" y2="657" stroke="#c8c8c8" stroke-width="0.6" stroke-dasharray="3 2"/>
<line x1="834" y1="625" x2="834" y2="657" stroke="#c8c8c8" stroke-width="0.6" stroke-dasharray="3 2"/>
<line x1="848" y1="625" x2="848" y2="657" stroke="#c8c8c8" stroke-width="0.6" stroke-dasharray="3 2"/>
<line x1="862" y1="625" x2="862" y2="657" stroke="#c8c8c8" stroke-width="0.6" stroke-dasharray="3 2"/>
<line x1="876" y1="625" x2="876" y2="657" stroke="#c8c8c8" stroke-width="0.6" stroke-dasharray="3 2"/>
<line x1="890" y1="625" x2="890" y2="657" stroke="#c8c8c8" stroke-width="0.6" stroke-dasharray="3 2"/>
<line x1="904" y1="625" x2="904" y2="657" stroke="#c8c8c8" stroke-width="0.6" stroke-dasharray="3 2"/>
<line x1="918" y1="625" x2="918" y2="657" stroke="#c8c8c8" stroke-width="0.6" stroke-dasharray="3 2"/>
<line x1="812" y1="657" x2="926" y2="657" stroke="#c0c0c0" stroke-width="0.6" stroke-dasharray="3 2"/>
<line x1="891" y1="672.5" x2="905" y2="672.5" stroke="#888" stroke-width="0.6"/>
<line x1="898" y1="665.5" x2="898" y2="679.5" stroke="#888" stroke-width="0.6"/>
<circle cx="898" cy="672.5" r="3.6" fill="#fff" stroke="#888" stroke-width="0.6"/>
<path d="M898 672.5h3.6a3.6 3.6 0 0 0 -3.6 -3.6zM898 672.5h-3.6a3.6 3.6 0 0 0 3.6 3.6z" fill="#111"/>
<text x="903" y="668" font-size="9.3" fill="#222">-4,07</text>
<line x1="715.5" y1="658.8" x2="729.5" y2="658.8" stroke="#888" stroke-width="0.6"/>
<line x1="722.5" y1="651.8" x2="722.5" y2="665.8" stroke="#888" stroke-width="0.6"/>
<circle cx="722.5" cy="658.8" r="3.6" fill="#fff" stroke="#888" stroke-width="0.6"/>
<path d="M722.5 658.8h3.6a3.6 3.6 0 0 0 -3.6 -3.6zM722.5 658.8h-3.6a3.6 3.6 0 0 0 3.6 3.6z" fill="#111"/>
<text x="727.5" y="653" font-size="9.3" fill="#222">-3,22</text>
<text x="759" y="681.5" font-size="8.4" fill="#333">esővízelvezetés</text>
<polyline points="756,679 756,628" fill="none" stroke="#555" stroke-width="0.6"/>
<text x="967" y="680.5" font-size="8.4" fill="#333">esővízelvezetés</text>
<polyline points="965,678 935,628" fill="none" stroke="#555" stroke-width="0.6"/>
<line x1="962" y1="678" x2="962" y2="630" stroke="#555" stroke-width="0.6"/>
<text x="1009" y="654.5" font-size="8.4" fill="#333">esővízelvezetés</text>
<text x="1057" y="727" font-size="8.4" fill="#333">esővízelvezetés</text>
<polyline points="1115,725 1120,725 1131,680" fill="none" stroke="#555" stroke-width="0.6"/>
<text x="1010" y="654.5" font-size="1" fill="#444" text-anchor="middle"></text>
<polyline points="1068,652 1128,627" fill="none" stroke="#555" stroke-width="0.6"/>
<text x="905" y="642" font-size="8.6" fill="#444" text-anchor="middle" transform="rotate(-90 905 642)">90</text>
<text x="916" y="642" font-size="8.6" fill="#444" text-anchor="middle" transform="rotate(-90 916 642)">210</text>
<line x1="913" y1="625" x2="913" y2="660" stroke="#aaa" stroke-width="0.5"/>
<polyline points="884,625 884,658 931,658 931,625" fill="none" stroke="#bbb" stroke-width="0.6" stroke-dasharray="3 2"/>
<polyline points="470,641.5 560,642 700,642 860,646 960,660 1100,672 1135,675" fill="none" stroke="#f3bf9c" stroke-width="0.8" stroke-dasharray="7 4"/>
<line x1="1081.4" y1="269.3" x2="1081.4" y2="706.5" stroke="#8a8a8a" stroke-width="0.8"/>
<line x1="1074.4" y1="273.3" x2="1088.4" y2="273.3" stroke="#c2c2c2" stroke-width="0.7"/>
<line x1="1077.2" y1="269.1" x2="1085.6" y2="277.5" stroke="#111" stroke-width="1.1"/>
<line x1="1074.4" y1="279.8" x2="1088.4" y2="279.8" stroke="#c2c2c2" stroke-width="0.7"/>
<line x1="1077.2" y1="275.6" x2="1085.6" y2="284" stroke="#111" stroke-width="1.1"/>
<line x1="1074.4" y1="328.3" x2="1088.4" y2="328.3" stroke="#c2c2c2" stroke-width="0.7"/>
<line x1="1077.2" y1="324.1" x2="1085.6" y2="332.5" stroke="#111" stroke-width="1.1"/>
<line x1="1074.4" y1="416.3" x2="1088.4" y2="416.3" stroke="#c2c2c2" stroke-width="0.7"/>
<line x1="1077.2" y1="412.1" x2="1085.6" y2="420.5" stroke="#111" stroke-width="1.1"/>
<line x1="1074.4" y1="425.1" x2="1088.4" y2="425.1" stroke="#c2c2c2" stroke-width="0.7"/>
<line x1="1077.2" y1="420.9" x2="1085.6" y2="429.3" stroke="#111" stroke-width="1.1"/>
<line x1="1074.4" y1="608.8" x2="1088.4" y2="608.8" stroke="#c2c2c2" stroke-width="0.7"/>
<line x1="1077.2" y1="604.6" x2="1085.6" y2="613" stroke="#111" stroke-width="1.1"/>
<line x1="1074.4" y1="618.5" x2="1088.4" y2="618.5" stroke="#c2c2c2" stroke-width="0.7"/>
<line x1="1077.2" y1="614.3" x2="1085.6" y2="622.7" stroke="#111" stroke-width="1.1"/>
<line x1="1074.4" y1="696.1" x2="1088.4" y2="696.1" stroke="#c2c2c2" stroke-width="0.7"/>
<line x1="1077.2" y1="691.9" x2="1085.6" y2="700.3" stroke="#111" stroke-width="1.1"/>
<line x1="1074.4" y1="702.5" x2="1088.4" y2="702.5" stroke="#c2c2c2" stroke-width="0.7"/>
<line x1="1077.2" y1="698.3" x2="1085.6" y2="706.7" stroke="#111" stroke-width="1.1"/>
<text x="1079.6" y="265.8" font-size="9.5" fill="#3a3a3a" text-anchor="middle" transform="rotate(-90 1079.6 265.8)">20</text>
<text x="1079.6" y="305.6" font-size="9.5" fill="#3a3a3a" text-anchor="middle" transform="rotate(-90 1079.6 305.6)">1,45</text>
<text x="1079.6" y="372" font-size="9.5" fill="#3a3a3a" text-anchor="middle" transform="rotate(-90 1079.6 372)">2,65</text>
<text x="1079.6" y="432.5" font-size="9.5" fill="#3a3a3a" text-anchor="middle" transform="rotate(-90 1079.6 432.5)">30</text>
<text x="1079.6" y="516.7" font-size="9.5" fill="#3a3a3a" text-anchor="middle" transform="rotate(-90 1079.6 516.7)">5,70</text>
<text x="1079.6" y="598.2" font-size="9.5" fill="#3a3a3a" text-anchor="middle" transform="rotate(-90 1079.6 598.2)">30</text>
<text x="1079.6" y="660.2" font-size="9.5" fill="#3a3a3a" text-anchor="middle" transform="rotate(-90 1079.6 660.2)">2,40</text>
<text x="1079.6" y="710.3" font-size="9.5" fill="#3a3a3a" text-anchor="middle" transform="rotate(-90 1079.6 710.3)">20</text>
<line x1="1097.3" y1="279.5" x2="1097.3" y2="701" stroke="#8a8a8a" stroke-width="0.8"/>
<line x1="1090.3" y1="283.5" x2="1104.3" y2="283.5" stroke="#c2c2c2" stroke-width="0.7"/>
<line x1="1093.1" y1="279.3" x2="1101.5" y2="287.7" stroke="#111" stroke-width="1.1"/>
<line x1="1090.3" y1="292.4" x2="1104.3" y2="292.4" stroke="#c2c2c2" stroke-width="0.7"/>
<line x1="1093.1" y1="288.2" x2="1101.5" y2="296.6" stroke="#111" stroke-width="1.1"/>
<line x1="1090.3" y1="329.2" x2="1104.3" y2="329.2" stroke="#c2c2c2" stroke-width="0.7"/>
<line x1="1093.1" y1="325" x2="1101.5" y2="333.4" stroke="#111" stroke-width="1.1"/>
<line x1="1090.3" y1="338.8" x2="1104.3" y2="338.8" stroke="#c2c2c2" stroke-width="0.7"/>
<line x1="1093.1" y1="334.6" x2="1101.5" y2="343" stroke="#111" stroke-width="1.1"/>
<line x1="1090.3" y1="431.6" x2="1104.3" y2="431.6" stroke="#c2c2c2" stroke-width="0.7"/>
<line x1="1093.1" y1="427.4" x2="1101.5" y2="435.8" stroke="#111" stroke-width="1.1"/>
<line x1="1090.3" y1="439.7" x2="1104.3" y2="439.7" stroke="#c2c2c2" stroke-width="0.7"/>
<line x1="1093.1" y1="435.5" x2="1101.5" y2="443.9" stroke="#111" stroke-width="1.1"/>
<line x1="1090.3" y1="533.4" x2="1104.3" y2="533.4" stroke="#c2c2c2" stroke-width="0.7"/>
<line x1="1093.1" y1="529.2" x2="1101.5" y2="537.6" stroke="#111" stroke-width="1.1"/>
<line x1="1090.3" y1="541.5" x2="1104.3" y2="541.5" stroke="#c2c2c2" stroke-width="0.7"/>
<line x1="1093.1" y1="537.3" x2="1101.5" y2="545.7" stroke="#111" stroke-width="1.1"/>
<line x1="1090.3" y1="687.3" x2="1104.3" y2="687.3" stroke="#c2c2c2" stroke-width="0.7"/>
<line x1="1093.1" y1="683.1" x2="1101.5" y2="691.5" stroke="#111" stroke-width="1.1"/>
<line x1="1090.3" y1="697" x2="1104.3" y2="697" stroke="#c2c2c2" stroke-width="0.7"/>
<line x1="1093.1" y1="692.8" x2="1101.5" y2="701.2" stroke="#111" stroke-width="1.1"/>
<text x="1095.5" y="274.7" font-size="9.5" fill="#3a3a3a" text-anchor="middle" transform="rotate(-90 1095.5 274.7)">30</text>
<text x="1095.5" y="308.6" font-size="9.5" fill="#3a3a3a" text-anchor="middle" transform="rotate(-90 1095.5 308.6)">1,15</text>
<text x="1095.5" y="346.9" font-size="9.5" fill="#3a3a3a" text-anchor="middle" transform="rotate(-90 1095.5 346.9)">30</text>
<text x="1095.5" y="394.1" font-size="9.5" fill="#3a3a3a" text-anchor="middle" transform="rotate(-90 1095.5 394.1)">2,85</text>
<text x="1095.5" y="447" font-size="9.5" fill="#3a3a3a" text-anchor="middle" transform="rotate(-90 1095.5 447)">25</text>
<text x="1095.5" y="495.4" font-size="9.5" fill="#3a3a3a" text-anchor="middle" transform="rotate(-90 1095.5 495.4)">2,90</text>
<text x="1095.5" y="549.2" font-size="9.5" fill="#3a3a3a" text-anchor="middle" transform="rotate(-90 1095.5 549.2)">25</text>
<text x="1095.5" y="598.2" font-size="9.5" fill="#3a3a3a" text-anchor="middle" transform="rotate(-90 1095.5 598.2)">4,50</text>
<text x="1095.5" y="703.6" font-size="9.5" fill="#3a3a3a" text-anchor="middle" transform="rotate(-90 1095.5 703.6)">30</text>
<line x1="1114.2" y1="326" x2="1114.2" y2="699.9" stroke="#8a8a8a" stroke-width="0.8"/>
<line x1="1107.2" y1="330" x2="1121.2" y2="330" stroke="#c2c2c2" stroke-width="0.7"/>
<line x1="1110" y1="325.8" x2="1118.4" y2="334.2" stroke="#111" stroke-width="1.1"/>
<line x1="1107.2" y1="338.8" x2="1121.2" y2="338.8" stroke="#c2c2c2" stroke-width="0.7"/>
<line x1="1110" y1="334.6" x2="1118.4" y2="343" stroke="#111" stroke-width="1.1"/>
<line x1="1107.2" y1="398.6" x2="1121.2" y2="398.6" stroke="#c2c2c2" stroke-width="0.7"/>
<line x1="1110" y1="394.4" x2="1118.4" y2="402.8" stroke="#111" stroke-width="1.1"/>
<line x1="1107.2" y1="401.8" x2="1121.2" y2="401.8" stroke="#c2c2c2" stroke-width="0.7"/>
<line x1="1110" y1="397.6" x2="1118.4" y2="406" stroke="#111" stroke-width="1.1"/>
<line x1="1107.2" y1="430.9" x2="1121.2" y2="430.9" stroke="#c2c2c2" stroke-width="0.7"/>
<line x1="1110" y1="426.7" x2="1118.4" y2="435.1" stroke="#111" stroke-width="1.1"/>
<line x1="1107.2" y1="439" x2="1121.2" y2="439" stroke="#c2c2c2" stroke-width="0.7"/>
<line x1="1110" y1="434.8" x2="1118.4" y2="443.2" stroke="#111" stroke-width="1.1"/>
<line x1="1107.2" y1="532.7" x2="1121.2" y2="532.7" stroke="#c2c2c2" stroke-width="0.7"/>
<line x1="1110" y1="528.5" x2="1118.4" y2="536.9" stroke="#111" stroke-width="1.1"/>
<line x1="1107.2" y1="540.8" x2="1121.2" y2="540.8" stroke="#c2c2c2" stroke-width="0.7"/>
<line x1="1110" y1="536.6" x2="1118.4" y2="545" stroke="#111" stroke-width="1.1"/>
<line x1="1107.2" y1="605.4" x2="1121.2" y2="605.4" stroke="#c2c2c2" stroke-width="0.7"/>
<line x1="1110" y1="601.2" x2="1118.4" y2="609.6" stroke="#111" stroke-width="1.1"/>
<line x1="1107.2" y1="608.6" x2="1121.2" y2="608.6" stroke="#c2c2c2" stroke-width="0.7"/>
<line x1="1110" y1="604.4" x2="1118.4" y2="612.8" stroke="#111" stroke-width="1.1"/>
<line x1="1107.2" y1="686.2" x2="1121.2" y2="686.2" stroke="#c2c2c2" stroke-width="0.7"/>
<line x1="1110" y1="682" x2="1118.4" y2="690.4" stroke="#111" stroke-width="1.1"/>
<line x1="1107.2" y1="695.9" x2="1121.2" y2="695.9" stroke="#c2c2c2" stroke-width="0.7"/>
<line x1="1110" y1="691.7" x2="1118.4" y2="700.1" stroke="#111" stroke-width="1.1"/>
<text x="1112.4" y="318.2" font-size="9.5" fill="#3a3a3a" text-anchor="middle" transform="rotate(-90 1112.4 318.2)">30</text>
<text x="1112.4" y="366.8" font-size="9.5" fill="#3a3a3a" text-anchor="middle" transform="rotate(-90 1112.4 366.8)">1,85</text>
<text x="1112.4" y="389" font-size="9.5" fill="#3a3a3a" text-anchor="middle" transform="rotate(-90 1112.4 389)">10</text>
<text x="1112.4" y="416.5" font-size="9.5" fill="#3a3a3a" text-anchor="middle" transform="rotate(-90 1112.4 416.5)">90</text>
<text x="1112.4" y="447" font-size="9.5" fill="#3a3a3a" text-anchor="middle" transform="rotate(-90 1112.4 447)">25</text>
<text x="1112.4" y="495.4" font-size="9.5" fill="#3a3a3a" text-anchor="middle" transform="rotate(-90 1112.4 495.4)">2,90</text>
<text x="1112.4" y="549.2" font-size="9.5" fill="#3a3a3a" text-anchor="middle" transform="rotate(-90 1112.4 549.2)">25</text>
<text x="1112.4" y="577.6" font-size="9.5" fill="#3a3a3a" text-anchor="middle" transform="rotate(-90 1112.4 577.6)">2,00</text>
<text x="1112.4" y="615.2" font-size="9.5" fill="#3a3a3a" text-anchor="middle" transform="rotate(-90 1112.4 615.2)">10</text>
<text x="1112.4" y="652" font-size="9.5" fill="#3a3a3a" text-anchor="middle" transform="rotate(-90 1112.4 652)">2,40</text>
<text x="1112.4" y="703.6" font-size="9.5" fill="#3a3a3a" text-anchor="middle" transform="rotate(-90 1112.4 703.6)">30</text>
<line x1="1129.9" y1="537.5" x2="1129.9" y2="613.8" stroke="#8a8a8a" stroke-width="0.8"/>
<line x1="1122.9" y1="541.5" x2="1136.9" y2="541.5" stroke="#c2c2c2" stroke-width="0.7"/>
<line x1="1125.7" y1="537.3" x2="1134.1" y2="545.7" stroke="#111" stroke-width="1.1"/>
<line x1="1122.9" y1="609.8" x2="1136.9" y2="609.8" stroke="#c2c2c2" stroke-width="0.7"/>
<line x1="1125.7" y1="605.6" x2="1134.1" y2="614" stroke="#111" stroke-width="1.1"/>
<text x="1128.1" y="574.6" font-size="9.5" fill="#3a3a3a" text-anchor="middle" transform="rotate(-90 1128.1 574.6)">2,10</text>
<text x="1095.8" y="464.3" font-size="8.6" fill="#222">30/30 vb</text>
<polyline points="1128,462 1130.3,462 1130.3,425" fill="none" stroke="#555" stroke-width="0.6"/>
<line x1="1135" y1="239.3" x2="1340" y2="239.3" stroke="#999" stroke-width="0.7"/>
<line x1="1135" y1="247" x2="1340" y2="247" stroke="#999" stroke-width="0.7"/>
<line x1="1135" y1="276.2" x2="1328" y2="276.2" stroke="#aaa" stroke-width="0.7" stroke-dasharray="6 3"/>
<line x1="1144.4" y1="247" x2="1144.4" y2="276" stroke="#aaa" stroke-width="0.6"/>
<line x1="1154.4" y1="247" x2="1154.4" y2="276" stroke="#aaa" stroke-width="0.6"/>
<line x1="1163.7" y1="247" x2="1163.7" y2="276" stroke="#aaa" stroke-width="0.6"/>
<line x1="1173" y1="247" x2="1173" y2="276" stroke="#aaa" stroke-width="0.6"/>
<line x1="1135" y1="247" x2="1144.4" y2="276" stroke="#bbb" stroke-width="0.5"/>
<line x1="1144.4" y1="247" x2="1135" y2="276" stroke="#bbb" stroke-width="0.5"/>
<line x1="1328" y1="247" x2="1328" y2="276" stroke="#aaa" stroke-width="0.6"/>
<line x1="1334" y1="247" x2="1334" y2="276" stroke="#aaa" stroke-width="0.6"/>
<line x1="1340" y1="247" x2="1340" y2="276" stroke="#aaa" stroke-width="0.6"/>
<line x1="1316" y1="247" x2="1328" y2="276" stroke="#bbb" stroke-width="0.5"/>
<line x1="1173" y1="262" x2="1328" y2="262" stroke="#ccc" stroke-width="0.5"/>
<rect x="1238.6" y="258.9" width="25.2" height="11.6" fill="#fff" stroke="#555" stroke-width="1.1"/>
<text x="1251.2" y="267.4" font-size="8.7" fill="#111" text-anchor="middle" font-weight="bold">L2-16</text>
<line x1="1187.9" y1="264.2" x2="1201.9" y2="264.2" stroke="#888" stroke-width="0.6"/>
<line x1="1194.9" y1="257.2" x2="1194.9" y2="271.2" stroke="#888" stroke-width="0.6"/>
<circle cx="1194.9" cy="264.2" r="3.6" fill="#fff" stroke="#888" stroke-width="0.6"/>
<path d="M1194.9 264.2h3.6a3.6 3.6 0 0 0 -3.6 -3.6zM1194.9 264.2h-3.6a3.6 3.6 0 0 0 3.6 3.6z" fill="#111"/>
<text x="1199.9" y="261.2" font-size="9.3" fill="#222">-6,57</text>
<line x1="1245.6" y1="307.2" x2="1259.6" y2="307.2" stroke="#888" stroke-width="0.6"/>
<line x1="1252.6" y1="300.2" x2="1252.6" y2="314.2" stroke="#888" stroke-width="0.6"/>
<circle cx="1252.6" cy="307.2" r="3.6" fill="#fff" stroke="#888" stroke-width="0.6"/>
<path d="M1252.6 307.2h3.6a3.6 3.6 0 0 0 -3.6 -3.6zM1252.6 307.2h-3.6a3.6 3.6 0 0 0 3.6 3.6z" fill="#111"/>
<text x="1257.6" y="304.2" font-size="9.3" fill="#222">-6,57</text>
<line x1="1265.7" y1="379.3" x2="1279.7" y2="379.3" stroke="#888" stroke-width="0.6"/>
<line x1="1272.7" y1="372.3" x2="1272.7" y2="386.3" stroke="#888" stroke-width="0.6"/>
<circle cx="1272.7" cy="379.3" r="3.6" fill="#fff" stroke="#888" stroke-width="0.6"/>
<path d="M1272.7 379.3h3.6a3.6 3.6 0 0 0 -3.6 -3.6zM1272.7 379.3h-3.6a3.6 3.6 0 0 0 3.6 3.6z" fill="#111"/>
<text x="1277.7" y="376.3" font-size="9.3" fill="#222">-6,55</text>
<line x1="1363.4" y1="253.3" x2="1377.4" y2="253.3" stroke="#888" stroke-width="0.6"/>
<line x1="1370.4" y1="246.3" x2="1370.4" y2="260.3" stroke="#888" stroke-width="0.6"/>
<circle cx="1370.4" cy="253.3" r="3.6" fill="#fff" stroke="#888" stroke-width="0.6"/>
<path d="M1370.4 253.3h3.6a3.6 3.6 0 0 0 -3.6 -3.6zM1370.4 253.3h-3.6a3.6 3.6 0 0 0 3.6 3.6z" fill="#111"/>
<text x="1375.4" y="250.3" font-size="9.3" fill="#222">-7,17</text>
<rect x="1143" y="283" width="20" height="35" fill="none" stroke="#999" stroke-width="0.6"/>
<text x="1173" y="225.5" font-size="8.4" fill="#333">hőszivattyú kültéri egység</text>
<polyline points="1178,223 1176,223 1152,310" fill="none" stroke="#555" stroke-width="0.6"/>
<polygon points="1150,307 1154,307 1152,311" fill="#111" stroke="#111" stroke-width="0.4"/>
<polyline points="1093,253 1095,253 1130,298" fill="none" stroke="#555" stroke-width="0.6"/>
<rect x="1134.8" y="276.2" width="6.6" height="46.7" fill="#8a8a8a" stroke="#111" stroke-width="1.2"/>
<rect x="1134.8" y="322.9" width="6.6" height="85.6" fill="url(#ins)" stroke="#555" stroke-width="0.5"/>
<rect x="1128.5" y="408.5" width="12.9" height="6.3" fill="url(#ins)" stroke="#555" stroke-width="0.5"/>
<rect x="1130" y="414.8" width="7" height="8.5" fill="#bdbdbd" stroke="#222" stroke-width="0.9"/>
<rect x="1141.4" y="328.8" width="9.5" height="280" fill="url(#brick)" stroke="#2e2e2e" stroke-width="1.1"/>
<rect x="1141.4" y="322.9" width="32.9" height="5.9" fill="#b5ae2f" stroke="#555" stroke-width="0.5"/>
<rect x="1195.5" y="322.9" width="27.2" height="5.9" fill="#b5ae2f" stroke="#555" stroke-width="0.5"/>
<rect x="1243.9" y="322.9" width="29.2" height="5.9" fill="#b5ae2f" stroke="#555" stroke-width="0.5"/>
<rect x="1307" y="322.9" width="21.2" height="5.9" fill="#b5ae2f" stroke="#555" stroke-width="0.5"/>
<rect x="1151" y="328.8" width="23.3" height="10.7" fill="url(#brick)" stroke="#2e2e2e" stroke-width="1.1"/>
<rect x="1195.5" y="328.8" width="27.2" height="10.7" fill="url(#brick)" stroke="#2e2e2e" stroke-width="1.1"/>
<rect x="1243.9" y="328.8" width="29.2" height="10.7" fill="url(#brick)" stroke="#2e2e2e" stroke-width="1.1"/>
<rect x="1174.3" y="322.9" width="21.2" height="16.6" fill="#fff" stroke="#9a9a9a" stroke-width="0.6" stroke-dasharray="3 1.5"/>
<rect x="1175.8" y="329.8" width="18.2" height="2.8" fill="#f4f4f4" stroke="#8a8a8a" stroke-width="0.6"/>
<rect x="1222.7" y="322.9" width="21.2" height="16.6" fill="#fff" stroke="#9a9a9a" stroke-width="0.6" stroke-dasharray="3 1.5"/>
<rect x="1224.2" y="329.8" width="18.2" height="2.8" fill="#f4f4f4" stroke="#8a8a8a" stroke-width="0.6"/>
<polygon points="1307,328.8 1333.3,328.8 1333.3,282.5 1367.8,282.5 1367.8,292.4 1343.2,292.4 1343.2,361.4 1340,361.4 1340,339.5 1307,339.5" fill="url(#brick)" stroke="#2e2e2e" stroke-width="1.1"/>
<rect x="1327.3" y="276.5" width="6" height="52.4" fill="url(#ins)" stroke="#555" stroke-width="0.5"/>
<rect x="1333.3" y="276.5" width="35.1" height="6" fill="url(#ins)" stroke="#555" stroke-width="0.5"/>
<rect x="1427.5" y="276.5" width="55.9" height="6" fill="url(#ins)" stroke="#555" stroke-width="0.5"/>
<rect x="1532.5" y="276.5" width="42.3" height="6" fill="url(#ins)" stroke="#555" stroke-width="0.5"/>
<rect x="1428.1" y="282.5" width="54.8" height="9.9" fill="url(#brick)" stroke="#2e2e2e" stroke-width="1.1"/>
<polygon points="1532.9,282.5 1574.8,282.5 1574.8,303.1 1564.5,303.1 1564.5,292.4 1532.9,292.4" fill="url(#brick)" stroke="#2e2e2e" stroke-width="1.1"/>
<rect x="1368.4" y="276.5" width="59.1" height="15.9" fill="#fff" stroke="#9a9a9a" stroke-width="0.6" stroke-dasharray="3 1.5"/>
<rect x="1369.9" y="283.05" width="56.1" height="2.8" fill="#f4f4f4" stroke="#8a8a8a" stroke-width="0.6"/>
<rect x="1483.4" y="276.5" width="49.1" height="15.9" fill="#fff" stroke="#9a9a9a" stroke-width="0.6" stroke-dasharray="3 1.5"/>
<rect x="1484.9" y="283.05" width="46.1" height="2.8" fill="#f4f4f4" stroke="#8a8a8a" stroke-width="0.6"/>
<rect x="1574.8" y="276.5" width="5.7" height="38.1" fill="#b5ae2f" stroke="#555" stroke-width="0.5"/>
<rect x="1564.5" y="303.1" width="9.7" height="11.2" fill="#bdbdbd" stroke="#222" stroke-width="1.0"/>
<rect x="1247.9" y="339.5" width="3.3" height="29.1" fill="url(#brick)" stroke="#2e2e2e" stroke-width="0.9"/>
<rect x="1193.5" y="399.3" width="57.5" height="3.5" fill="url(#brick)" stroke="#2e2e2e" stroke-width="0.9"/>
<rect x="1193.5" y="399.3" width="3.5" height="32.5" fill="url(#brick)" stroke="#2e2e2e" stroke-width="0.9"/>
<rect x="1249" y="396" width="4" height="8" fill="#eee" stroke="#333" stroke-width="0.8"/>
<rect x="1150.6" y="431.8" width="103.4" height="7.6" fill="url(#brick)" stroke="#2e2e2e" stroke-width="1.1"/>
<rect x="1150.6" y="533.3" width="191.7" height="7.9" fill="url(#brick)" stroke="#2e2e2e" stroke-width="1.1"/>
<rect x="1283.2" y="431.1" width="9.7" height="21.3" fill="url(#brick)" stroke="#2e2e2e" stroke-width="1.1"/>
<rect x="1283.2" y="512.7" width="9.7" height="20.6" fill="url(#brick)" stroke="#2e2e2e" stroke-width="1.1"/>
<line x1="1291.6" y1="452.4" x2="1291.6" y2="512.7" stroke="#999" stroke-width="1.6"/>
<rect x="1293.8" y="438.4" width="6" height="15.3" fill="url(#ins)" stroke="#555" stroke-width="0.5"/>
<rect x="1293.8" y="512.3" width="6" height="18.3" fill="url(#ins)" stroke="#555" stroke-width="0.5"/>
<rect x="1293.8" y="525.3" width="49.2" height="5.3" fill="url(#ins)" stroke="#555" stroke-width="0.5"/>
<rect x="1339.6" y="419.2" width="4" height="18.6" fill="url(#brick)" stroke="#2e2e2e" stroke-width="1.1"/>
<line x1="1300" y1="438.6" x2="1387" y2="438.6" stroke="#999" stroke-width="1.2"/>
<line x1="1300" y1="440.6" x2="1387" y2="440.6" stroke="#bbb" stroke-width="0.6"/>
<line x1="1386" y1="438.6" x2="1386" y2="524.6" stroke="#999" stroke-width="1.0"/>
<line x1="1388" y1="440" x2="1388" y2="524.6" stroke="#bbb" stroke-width="0.6"/>
<rect x="1150.6" y="605.2" width="82.6" height="3.7" fill="url(#brick)" stroke="#2e2e2e" stroke-width="0.9"/>
<rect x="1231.7" y="541.2" width="3" height="20.5" fill="url(#brick)" stroke="#2e2e2e" stroke-width="0.9"/>
<rect x="1231.7" y="585.3" width="3" height="58.2" fill="url(#brick)" stroke="#2e2e2e" stroke-width="0.9"/>
<rect x="1231.7" y="667.1" width="3" height="19.2" fill="url(#brick)" stroke="#2e2e2e" stroke-width="0.9"/>
<rect x="1331.7" y="572" width="3.5" height="114.3" fill="url(#brick)" stroke="#2e2e2e" stroke-width="0.9"/>
<rect x="1335.2" y="580.1" width="68.1" height="3" fill="url(#brick)" stroke="#2e2e2e" stroke-width="0.9"/>
<rect x="1141.8" y="686.3" width="38.3" height="9.6" fill="url(#brick)" stroke="#2e2e2e" stroke-width="1.1"/>
<rect x="1202.2" y="686.3" width="50.9" height="9.6" fill="url(#brick)" stroke="#2e2e2e" stroke-width="1.1"/>
<rect x="1313.5" y="686.3" width="51.5" height="9.6" fill="url(#brick)" stroke="#2e2e2e" stroke-width="1.1"/>
<rect x="1425.2" y="686.3" width="53.9" height="9.6" fill="url(#brick)" stroke="#2e2e2e" stroke-width="1.1"/>
<rect x="1500.9" y="686.3" width="38.3" height="9.6" fill="url(#brick)" stroke="#2e2e2e" stroke-width="1.1"/>
<rect x="1600.2" y="686.3" width="12.5" height="9.6" fill="url(#brick)" stroke="#2e2e2e" stroke-width="1.1"/>
<rect x="1135.2" y="695.9" width="46.4" height="6.4" fill="url(#ins)" stroke="#555" stroke-width="0.5"/>
<rect x="1201.5" y="695.9" width="52.3" height="6.4" fill="url(#ins)" stroke="#555" stroke-width="0.5"/>
<rect x="1312.8" y="695.9" width="52.3" height="6.4" fill="url(#ins)" stroke="#555" stroke-width="0.5"/>
<rect x="1424.4" y="695.6" width="55.4" height="6.3" fill="#b5ae2f" stroke="#555" stroke-width="0.5"/>
<rect x="1500.9" y="695.6" width="39.1" height="6.3" fill="#b5ae2f" stroke="#555" stroke-width="0.5"/>
<rect x="1599.4" y="695.6" width="29.6" height="6.3" fill="#b5ae2f" stroke="#555" stroke-width="0.5"/>
<rect x="1180.1" y="686.3" width="22.1" height="15.7" fill="#fff" stroke="#9a9a9a" stroke-width="0.6" stroke-dasharray="3 1.5"/>
<rect x="1181.6" y="692.75" width="19.1" height="2.8" fill="#f4f4f4" stroke="#8a8a8a" stroke-width="0.6"/>
<rect x="1253.1" y="686.3" width="60.4" height="15.7" fill="#fff" stroke="#9a9a9a" stroke-width="0.6" stroke-dasharray="3 1.5"/>
<rect x="1254.6" y="692.75" width="57.4" height="2.8" fill="#f4f4f4" stroke="#8a8a8a" stroke-width="0.6"/>
<rect x="1365" y="686.3" width="60.2" height="15.7" fill="#fff" stroke="#9a9a9a" stroke-width="0.6" stroke-dasharray="3 1.5"/>
<rect x="1366.5" y="692.75" width="57.2" height="2.8" fill="#f4f4f4" stroke="#8a8a8a" stroke-width="0.6"/>
<rect x="1479.1" y="686.3" width="21.8" height="15.7" fill="#fff" stroke="#9a9a9a" stroke-width="0.6" stroke-dasharray="3 1.5"/>
<rect x="1480.6" y="692.75" width="18.8" height="2.8" fill="#f4f4f4" stroke="#8a8a8a" stroke-width="0.6"/>
<rect x="1539.2" y="686.3" width="61" height="15.7" fill="#fff" stroke="#9a9a9a" stroke-width="0.6" stroke-dasharray="3 1.5"/>
<rect x="1540.7" y="692.75" width="58" height="2.8" fill="#f4f4f4" stroke="#8a8a8a" stroke-width="0.6"/>
<rect x="1135.2" y="619.2" width="6.6" height="83.3" fill="url(#ins)" stroke="#555" stroke-width="0.5"/>
<rect x="1373.2" y="533.4" width="29.8" height="8.1" fill="url(#brick)" stroke="#2e2e2e" stroke-width="1.1"/>
<rect x="1373.2" y="525.3" width="14.2" height="8.1" fill="url(#ins)" stroke="#555" stroke-width="0.5"/>
<polygon points="1441.6,533.4 1564.8,533.4 1564.8,519.2 1574.3,519.2 1574.3,533.4 1612.7,533.4 1612.7,541.5 1441.6,541.5" fill="url(#brick)" stroke="#2e2e2e" stroke-width="1.1"/>
<rect x="1564.1" y="509" width="9.5" height="10.2" fill="#bdbdbd" stroke="#222" stroke-width="1.0"/>
<rect x="1573.6" y="509" width="6.7" height="16.9" fill="#b5ae2f" stroke="#555" stroke-width="0.5"/>
<rect x="1575" y="525.4" width="54.9" height="8" fill="url(#ins)" stroke="#555" stroke-width="0.5"/>
<rect x="1622.8" y="531" width="7.1" height="13" fill="url(#ins)" stroke="#555" stroke-width="0.5"/>
<rect x="1612.7" y="575.3" width="10.1" height="120.3" fill="url(#brick)" stroke="#2e2e2e" stroke-width="1.1"/>
<rect x="1622.8" y="573.9" width="7.1" height="127.9" fill="url(#ins)" stroke="#555" stroke-width="0.5"/>
<rect x="1612.7" y="543.3" width="17.2" height="31.2" fill="#fff" stroke="#9a9a9a" stroke-width="0.6" stroke-dasharray="3 1.5"/>
<rect x="1619.9" y="544.8" width="2.8" height="28.2" fill="#f4f4f4" stroke="#8a8a8a" stroke-width="0.6"/>
<rect x="1340" y="580" width="63.3" height="3.1" fill="url(#brick)" stroke="#2e2e2e" stroke-width="0.9"/>
<rect x="1432.2" y="580" width="27.3" height="3.1" fill="url(#brick)" stroke="#2e2e2e" stroke-width="0.9"/>
<rect x="1488.4" y="580" width="35.2" height="3.1" fill="url(#brick)" stroke="#2e2e2e" stroke-width="0.9"/>
<rect x="1454.8" y="580" width="3.2" height="106.3" fill="url(#brick)" stroke="#2e2e2e" stroke-width="0.9"/>
<rect x="1522.8" y="571.4" width="3.1" height="114.9" fill="url(#brick)" stroke="#2e2e2e" stroke-width="0.9"/>
<line x1="1572.2" y1="314" x2="1572.2" y2="509" stroke="#999" stroke-width="1.2"/>
<line x1="1574.3" y1="314" x2="1574.3" y2="509" stroke="#bbb" stroke-width="0.7"/>
<line x1="1564.1" y1="314" x2="1564.1" y2="509" stroke="#aaa" stroke-width="0.6" stroke-dasharray="4 3"/>
<line x1="1581" y1="314" x2="1581" y2="525" stroke="#aaa" stroke-width="0.6" stroke-dasharray="4 3"/>
<rect x="1373.7" y="321.6" width="49.1" height="31.8" fill="none" stroke="#b0b0b0" stroke-width="0.6"/>
<rect x="1360" y="324.5" width="13.7" height="16.5" fill="none" stroke="#b0b0b0" stroke-width="0.6"/>
<rect x="1422.8" y="324.5" width="14.2" height="16.5" fill="none" stroke="#b0b0b0" stroke-width="0.6"/>
<rect x="1380.5" y="309" width="15.5" height="12.6" fill="none" stroke="#b0b0b0" stroke-width="0.6"/>
<rect x="1401" y="309" width="16" height="12.6" fill="none" stroke="#b0b0b0" stroke-width="0.6"/>
<rect x="1380.5" y="353.4" width="15.5" height="13.6" fill="none" stroke="#b0b0b0" stroke-width="0.6"/>
<rect x="1401" y="353.4" width="16" height="13.6" fill="none" stroke="#b0b0b0" stroke-width="0.6"/>
<rect x="1483.8" y="344.1" width="48.7" height="28.6" fill="none" stroke="#b0b0b0" stroke-width="0.6"/>
<rect x="1480.4" y="461.6" width="42.4" height="25.7" fill="none" stroke="#b0b0b0" stroke-width="0.6"/>
<rect x="1441.6" y="461.6" width="25.7" height="27.1" fill="none" stroke="#b0b0b0" stroke-width="0.6"/>
<rect x="1448.3" y="519.8" width="115.7" height="13.6" fill="none" stroke="#b0b0b0" stroke-width="0.6"/>
<polyline points="1457.5,448.7 1457.5,423.7 1561.4,423.7 1561.4,500.9 1535.7,500.9 1535.7,448.7 1457.5,448.7" fill="none" stroke="#aaa" stroke-width="0.6"/>
<polyline points="1462,448.7 1462,428 1557,428 1557,500.9" fill="none" stroke="#c0c0c0" stroke-width="0.5"/>
<rect x="1451.3" y="292.4" width="120" height="19.9" fill="none" stroke="#bbb" stroke-width="0.6"/>
<rect x="1202.8" y="341.4" width="19.2" height="18.6" fill="none" stroke="#999" stroke-width="0.6"/>
<rect x="1225.4" y="341.4" width="18.6" height="18.6" fill="none" stroke="#999" stroke-width="0.6"/>
<circle cx="1212.4" cy="350.7" r="4.8" fill="none" stroke="#999" stroke-width="0.6"/><circle cx="1234.7" cy="350.7" r="4.8" fill="none" stroke="#999" stroke-width="0.6"/>
<rect x="1152.1" y="610.3" width="53.1" height="23.7" rx="9" fill="none" stroke="#aaa" stroke-width="0.6"/>
<ellipse cx="1218.5" cy="622.1" rx="5.5" ry="6.5" fill="none" stroke="#aaa" stroke-width="0.6"/>
<rect x="1152" y="649.4" width="14.7" height="22.9" fill="none" stroke="#aaa" stroke-width="0.6"/>
<rect x="1267.8" y="605.9" width="50.2" height="51.6" fill="none" stroke="#b0b0b0" stroke-width="0.6"/>
<rect x="1318" y="607" width="11" height="20" fill="none" stroke="#c0c0c0" stroke-width="0.5"/>
<rect x="1318" y="636" width="11" height="20" fill="none" stroke="#c0c0c0" stroke-width="0.5"/>
<rect x="1496.3" y="583.9" width="25.7" height="57.8" rx="8" fill="none" stroke="#aaa" stroke-width="0.6"/>
<rect x="1458.8" y="622.2" width="15.6" height="21.8" fill="none" stroke="#aaa" stroke-width="0.6"/>
<rect x="1458.8" y="647.2" width="15.6" height="22.6" fill="none" stroke="#aaa" stroke-width="0.6"/>
<ellipse cx="1508.8" cy="672.2" rx="5.5" ry="6" fill="none" stroke="#aaa" stroke-width="0.6"/>
<rect x="1208" y="398" width="26" height="14" fill="none" stroke="#aaa" stroke-width="0.5"/>
<ellipse cx="1215" cy="420" rx="5" ry="5.5" fill="none" stroke="#aaa" stroke-width="0.6"/>
<rect x="1151" y="541.2" width="80" height="23" fill="none" stroke="#c8c8c8" stroke-width="0.5"/>
<rect x="1235" y="541.2" width="95" height="20" fill="none" stroke="#c8c8c8" stroke-width="0.5"/>
<path d="M1222 395 A26 26 0 0 1 1248 369" fill="none" stroke="#777" stroke-width="0.6"/>
<line x1="1248" y1="395" x2="1248" y2="369" stroke="#777" stroke-width="0.7"/>
<path d="M1301.8 339.5 A26 26 0 0 1 1275.8 365.5" fill="none" stroke="#777" stroke-width="0.6"/>
<line x1="1275.8" y1="339.5" x2="1275.8" y2="365.5" stroke="#777" stroke-width="0.7"/>
<path d="M1283.2 466.4 A27 27 0 0 1 1256.2 439.4" fill="none" stroke="#777" stroke-width="0.6"/>
<line x1="1283.2" y1="439.4" x2="1256.2" y2="439.4" stroke="#777" stroke-width="0.7"/>
<path d="M1365.2 363 A22 22 0 0 1 1343.2 385" fill="none" stroke="#777" stroke-width="0.6"/>
<line x1="1343.2" y1="363" x2="1343.2" y2="385" stroke="#777" stroke-width="0.7"/>
<path d="M1343.2 398 A22 22 0 0 1 1365.2 420" fill="none" stroke="#777" stroke-width="0.6"/>
<line x1="1343.2" y1="420" x2="1365.2" y2="420" stroke="#777" stroke-width="0.7"/>
<path d="M1429.8 608.1 A25 25 0 0 1 1404.8 583.1" fill="none" stroke="#777" stroke-width="0.6"/>
<line x1="1429.8" y1="583.1" x2="1404.8" y2="583.1" stroke="#777" stroke-width="0.7"/>
<path d="M1483 583.1 A25 25 0 0 1 1458 608.1" fill="none" stroke="#777" stroke-width="0.6"/>
<line x1="1458" y1="583.1" x2="1458" y2="608.1" stroke="#777" stroke-width="0.7"/>
<path d="M1550.9 541.5 A25 25 0 0 1 1525.9 566.5" fill="none" stroke="#777" stroke-width="0.6"/>
<line x1="1525.9" y1="541.5" x2="1525.9" y2="566.5" stroke="#777" stroke-width="0.7"/>
<path d="M1234.7 583.7 A22 22 0 0 1 1212.7 561.7" fill="none" stroke="#777" stroke-width="0.6"/>
<line x1="1234.7" y1="561.7" x2="1212.7" y2="561.7" stroke="#777" stroke-width="0.7"/>
<path d="M1234.7 665.5 A22 22 0 0 1 1212.7 643.5" fill="none" stroke="#777" stroke-width="0.6"/>
<line x1="1234.7" y1="643.5" x2="1212.7" y2="643.5" stroke="#777" stroke-width="0.7"/>
<path d="M1334 567.2 A26 26 0 0 1 1308 541.2" fill="none" stroke="#777" stroke-width="0.6"/>
<line x1="1334" y1="541.2" x2="1308" y2="541.2" stroke="#777" stroke-width="0.7"/>
<path d="M1258 555 A30 30 0 0 1 1288 525" fill="none" stroke="#777" stroke-width="0.6"/>
<line x1="1288" y1="555" x2="1288" y2="525" stroke="#777" stroke-width="0.7"/>
<rect x="1177.6" y="372" width="25.2" height="11.6" fill="#fff" stroke="#555" stroke-width="1.1"/>
<text x="1190.2" y="380.5" font-size="8.7" fill="#111" text-anchor="middle" font-weight="bold">L2-02</text>
<rect x="1270.4" y="394" width="25.2" height="12.2" fill="#fff" stroke="#555" stroke-width="1.1"/>
<text x="1283" y="403.1" font-size="8.7" fill="#111" text-anchor="middle" font-weight="bold">L2-01</text>
<rect x="1209.6" y="405.3" width="24.5" height="10.6" fill="#fff" stroke="#555" stroke-width="1.1"/>
<text x="1221.85" y="412.8" font-size="8.7" fill="#111" text-anchor="middle" font-weight="bold">L2-03</text>
<rect x="1186.8" y="468.9" width="25.5" height="11.6" fill="#fff" stroke="#555" stroke-width="1.1"/>
<text x="1199.55" y="477.4" font-size="8.7" fill="#111" text-anchor="middle" font-weight="bold">L2-04</text>
<rect x="1303.5" y="509.8" width="25.5" height="11.5" fill="#fff" stroke="#555" stroke-width="1.1"/>
<text x="1316.25" y="518.2" font-size="8.7" fill="#111" text-anchor="middle" font-weight="bold">L2-14</text>
<rect x="1444.4" y="393.6" width="25.3" height="12.2" fill="#fff" stroke="#555" stroke-width="1.1"/>
<text x="1457.05" y="402.7" font-size="8.7" fill="#111" text-anchor="middle" font-weight="bold">L2-05</text>
<rect x="1178.7" y="568" width="25.8" height="11.4" fill="#fff" stroke="#555" stroke-width="1.1"/>
<text x="1191.6" y="576.3" font-size="8.7" fill="#111" text-anchor="middle" font-weight="bold">L2-12</text>
<rect x="1178.7" y="648.7" width="24.7" height="11.8" fill="#fff" stroke="#555" stroke-width="1.1"/>
<text x="1191.05" y="657.4" font-size="8.7" fill="#111" text-anchor="middle" font-weight="bold">L2-11</text>
<rect x="1239.4" y="627.3" width="25.1" height="12.1" fill="#fff" stroke="#555" stroke-width="1.1"/>
<text x="1251.95" y="636.3" font-size="8.7" fill="#111" text-anchor="middle" font-weight="bold">L2-10</text>
<rect x="1429.8" y="555.8" width="25" height="11.7" fill="#fff" stroke="#555" stroke-width="1.1"/>
<text x="1442.3" y="564.4" font-size="8.7" fill="#111" text-anchor="middle" font-weight="bold">L2-06</text>
<rect x="1382.5" y="626.9" width="25" height="12.2" fill="#fff" stroke="#555" stroke-width="1.1"/>
<text x="1395" y="636" font-size="8.7" fill="#111" text-anchor="middle" font-weight="bold">L2-09</text>
<rect x="1483.4" y="648.3" width="25" height="12.2" fill="#fff" stroke="#555" stroke-width="1.1"/>
<text x="1495.9" y="657.4" font-size="8.7" fill="#111" text-anchor="middle" font-weight="bold">L2-08</text>
<rect x="1556.9" y="608.6" width="25.6" height="11.7" fill="#fff" stroke="#555" stroke-width="1.1"/>
<text x="1569.7" y="617.2" font-size="8.7" fill="#111" text-anchor="middle" font-weight="bold">L2-07</text>
<rect x="1619" y="419.6" width="24.5" height="11.4" fill="#fff" stroke="#555" stroke-width="1.1"/>
<text x="1631.25" y="427.9" font-size="8.7" fill="#111" text-anchor="middle" font-weight="bold">L2-15</text>
<rect x="1198.4" y="302.7" width="21.4" height="10.6" fill="#fff" stroke="#111" stroke-width="1.5"/>
<text x="1209.1" y="311.1" font-size="8.6" fill="#111" text-anchor="middle" font-weight="bold">F06</text>
<line x1="1219.2" y1="306" x2="1219.2" y2="346.7" stroke="#111" stroke-width="1.4"/>
<rect x="1102.7" y="346.7" width="20.9" height="10.4" fill="#fff" stroke="#111" stroke-width="1.5"/>
<text x="1113.15" y="354.9" font-size="8.6" fill="#111" text-anchor="middle" font-weight="bold">F05</text>
<line x1="1123.6" y1="354" x2="1158.4" y2="354" stroke="#111" stroke-width="1.4"/>
<rect x="1440.5" y="255.9" width="20.8" height="10.6" fill="#fff" stroke="#111" stroke-width="1.5"/>
<text x="1450.9" y="264.3" font-size="8.6" fill="#111" text-anchor="middle" font-weight="bold">F05</text>
<line x1="1461" y1="260" x2="1461" y2="300.4" stroke="#111" stroke-width="1.4"/>
<rect x="1591.5" y="288.2" width="21.2" height="10.2" fill="#fff" stroke="#111" stroke-width="1.5"/>
<text x="1602.1" y="296.2" font-size="8.6" fill="#111" text-anchor="middle" font-weight="bold">F06</text>
<line x1="1557.2" y1="295.8" x2="1591.5" y2="295.8" stroke="#111" stroke-width="1.4"/>
<rect x="1379" y="550.3" width="20.7" height="10" fill="#fff" stroke="#111" stroke-width="1.5"/>
<text x="1389.35" y="558.1" font-size="8.6" fill="#111" text-anchor="middle" font-weight="bold">F05</text>
<line x1="1379.3" y1="517.1" x2="1379.3" y2="558" stroke="#111" stroke-width="1.4"/>
<rect x="1220.2" y="712.1" width="21.4" height="10.3" fill="#fff" stroke="#111" stroke-width="1.5"/>
<text x="1230.9" y="720.2" font-size="8.6" fill="#111" text-anchor="middle" font-weight="bold">F05</text>
<line x1="1220.5" y1="678.2" x2="1220.5" y2="720" stroke="#111" stroke-width="1.4"/>
<rect x="1530.6" y="712" width="21.1" height="10.2" fill="#fff" stroke="#111" stroke-width="1.5"/>
<text x="1541.15" y="720" font-size="8.6" fill="#111" text-anchor="middle" font-weight="bold">F06</text>
<line x1="1530.9" y1="678.4" x2="1530.9" y2="720" stroke="#111" stroke-width="1.4"/>
<rect x="1640.2" y="629" width="20.7" height="9.9" fill="#fff" stroke="#111" stroke-width="1.5"/>
<text x="1650.55" y="636.7" font-size="8.6" fill="#111" text-anchor="middle" font-weight="bold">F05</text>
<line x1="1605.2" y1="636.8" x2="1640.2" y2="636.8" stroke="#111" stroke-width="1.4"/>
<text x="1184.9" y="346.7" font-size="9.3" fill="#444" text-anchor="middle">pm 1,20</text>
<text x="1234" y="346.7" font-size="9.3" fill="#444" text-anchor="middle">pm 1,20</text>
<text x="1398.3" y="301.7" font-size="9.3" fill="#444" text-anchor="middle">pm 90</text>
<text x="1508.4" y="301.7" font-size="9.3" fill="#444" text-anchor="middle">pm 90</text>
<text x="1191.6" y="681.9" font-size="9.3" fill="#444" text-anchor="middle">pm 1,20</text>
<text x="1283.3" y="681.9" font-size="9.3" fill="#444" text-anchor="middle">pm 90</text>
<text x="1395" y="680" font-size="9.3" fill="#444" text-anchor="middle">pm 90</text>
<text x="1490.3" y="680" font-size="9.3" fill="#444" text-anchor="middle">pm 1,20</text>
<text x="1569.7" y="680" font-size="9.3" fill="#444" text-anchor="middle">pm 90</text>
<line x1="1187.9" y1="329" x2="1187.9" y2="355" stroke="#999" stroke-width="0.6"/>
<line x1="1237" y1="329" x2="1237" y2="355" stroke="#999" stroke-width="0.6"/>
<line x1="1398.3" y1="282" x2="1398.3" y2="310" stroke="#999" stroke-width="0.6"/>
<line x1="1508.4" y1="282" x2="1508.4" y2="310" stroke="#999" stroke-width="0.6"/>
<line x1="1191.6" y1="670" x2="1191.6" y2="720" stroke="#999" stroke-width="0.6"/>
<line x1="1283.3" y1="670" x2="1283.3" y2="720" stroke="#999" stroke-width="0.6"/>
<line x1="1395" y1="670" x2="1395" y2="720" stroke="#999" stroke-width="0.6"/>
<line x1="1490.3" y1="670" x2="1490.3" y2="720" stroke="#999" stroke-width="0.6"/>
<line x1="1569.7" y1="670" x2="1569.7" y2="720" stroke="#999" stroke-width="0.6"/>
<text x="1558.6" y="347.5" font-size="9" fill="#444" text-anchor="middle" transform="rotate(-90 1558.6 347.5)">pm 0</text>
<text x="1558.7" y="476.5" font-size="9" fill="#444" text-anchor="middle" transform="rotate(-90 1558.7 476.5)">pm 0</text>
<text x="1394.8" y="482.6" font-size="9" fill="#444" text-anchor="middle" transform="rotate(-90 1394.8 482.6)">pm 0</text>
<text x="1277.9" y="482.9" font-size="9" fill="#444" text-anchor="middle" transform="rotate(-90 1277.9 482.9)">pm 0</text>
<text x="1608" y="559.7" font-size="9" fill="#444" text-anchor="middle" transform="rotate(-90 1608 559.7)">pm 90</text>
<text x="1319.7" y="434.5" font-size="9" fill="#444" text-anchor="middle">pm 0</text>
<text x="1363.7" y="434.5" font-size="9" fill="#444" text-anchor="middle">pm 0</text>
<text x="1182.6" y="308.3" font-size="8.6" fill="#444" text-anchor="middle" transform="rotate(-90 1182.6 308.3)">60</text>
<text x="1194.5" y="308.3" font-size="8.6" fill="#444" text-anchor="middle" transform="rotate(-90 1194.5 308.3)">120</text>
<text x="1231" y="308.3" font-size="8.6" fill="#444" text-anchor="middle" transform="rotate(-90 1231 308.3)">60</text>
<text x="1242.3" y="308.3" font-size="8.6" fill="#444" text-anchor="middle" transform="rotate(-90 1242.3 308.3)">120</text>
<text x="1288" y="301.6" font-size="8.6" fill="#444" text-anchor="middle" transform="rotate(-90 1288 301.6)">100</text>
<text x="1298.7" y="308.3" font-size="8.6" fill="#444" text-anchor="middle" transform="rotate(-90 1298.7 308.3)">210+30</text>
<text x="1396" y="263.2" font-size="8.6" fill="#444" text-anchor="middle" transform="rotate(-90 1396 263.2)">180</text>
<text x="1407.2" y="263.2" font-size="8.6" fill="#444" text-anchor="middle" transform="rotate(-90 1407.2 263.2)">150</text>
<text x="1505.4" y="263.2" font-size="8.6" fill="#444" text-anchor="middle" transform="rotate(-90 1505.4 263.2)">150</text>
<text x="1517.4" y="263.2" font-size="8.6" fill="#444" text-anchor="middle" transform="rotate(-90 1517.4 263.2)">60</text>
<text x="1189.8" y="716.5" font-size="8.6" fill="#444" text-anchor="middle" transform="rotate(-90 1189.8 716.5)">60</text>
<text x="1200.8" y="716.5" font-size="8.6" fill="#444" text-anchor="middle" transform="rotate(-90 1200.8 716.5)">120</text>
<text x="1281.2" y="716" font-size="8.6" fill="#444" text-anchor="middle" transform="rotate(-90 1281.2 716)">180</text>
<text x="1293" y="716" font-size="8.6" fill="#444" text-anchor="middle" transform="rotate(-90 1293 716)">150</text>
<text x="1392.2" y="715.2" font-size="8.6" fill="#444" text-anchor="middle" transform="rotate(-90 1392.2 715.2)">180</text>
<text x="1403.9" y="715.2" font-size="8.6" fill="#444" text-anchor="middle" transform="rotate(-90 1403.9 715.2)">150</text>
<text x="1488.3" y="715" font-size="8.6" fill="#444" text-anchor="middle" transform="rotate(-90 1488.3 715)">60</text>
<text x="1499.3" y="715" font-size="8.6" fill="#444" text-anchor="middle" transform="rotate(-90 1499.3 715)">120</text>
<text x="1567.2" y="715" font-size="8.6" fill="#444" text-anchor="middle" transform="rotate(-90 1567.2 715)">180</text>
<text x="1578.9" y="715" font-size="8.6" fill="#444" text-anchor="middle" transform="rotate(-90 1578.9 715)">150</text>
<text x="1267" y="445.7" font-size="8.6" fill="#444" text-anchor="middle" transform="rotate(-90 1267 445.7)">90</text>
<text x="1277.6" y="445.7" font-size="8.6" fill="#444" text-anchor="middle" transform="rotate(-90 1277.6 445.7)">210</text>
<text x="1414" y="589.4" font-size="8.6" fill="#444" text-anchor="middle" transform="rotate(-90 1414 589.4)">90</text>
<text x="1427.4" y="589.4" font-size="8.6" fill="#444" text-anchor="middle" transform="rotate(-90 1427.4 589.4)">210</text>
<text x="1471" y="589.4" font-size="8.6" fill="#444" text-anchor="middle" transform="rotate(-90 1471 589.4)">90</text>
<text x="1484.4" y="589.4" font-size="8.6" fill="#444" text-anchor="middle" transform="rotate(-90 1484.4 589.4)">210</text>
<text x="1420.2" y="523.9" font-size="8.6" fill="#444" text-anchor="middle" transform="rotate(-90 1420.2 523.9)">120</text>
<text x="1431.7" y="523.9" font-size="8.6" fill="#444" text-anchor="middle" transform="rotate(-90 1431.7 523.9)">210</text>
<text x="1318.4" y="462.2" font-size="8.6" fill="#444" text-anchor="middle" transform="rotate(-90 1318.4 462.2)">125</text>
<text x="1329.4" y="457.1" font-size="8.6" fill="#444" text-anchor="middle" transform="rotate(-90 1329.4 457.1)">290-295</text>
<text x="1337" y="452.9" font-size="8.6" fill="#444" text-anchor="middle" transform="rotate(-90 1337 452.9)">20</text>
<text x="1350.6" y="467.3" font-size="8.6" fill="#444" text-anchor="middle" transform="rotate(-90 1350.6 467.3)">-6,57</text>
<text x="1361.6" y="462.2" font-size="8.6" fill="#444" text-anchor="middle" transform="rotate(-90 1361.6 462.2)">125</text>
<text x="1373.5" y="457.1" font-size="8.6" fill="#444" text-anchor="middle" transform="rotate(-90 1373.5 457.1)">295-300</text>
<text x="1335.4" y="483.4" font-size="8.6" fill="#444" text-anchor="middle" transform="rotate(-90 1335.4 483.4)">2,40</text>
<text x="1241.3" y="380" font-size="9" fill="#444" text-anchor="middle">90</text>
<text x="1239.3" y="391.5" font-size="9" fill="#444" text-anchor="middle">210</text>
<text x="1351.8" y="386" font-size="9" fill="#444" text-anchor="middle">180</text>
<text x="1351.8" y="397.9" font-size="9" fill="#444" text-anchor="middle">240</text>
<text x="1312.4" y="477.6" font-size="9" fill="#444" text-anchor="middle">180</text>
<text x="1312.4" y="489.5" font-size="9" fill="#444" text-anchor="middle">240</text>
<text x="1593.7" y="342.2" font-size="9" fill="#444" text-anchor="middle">200</text>
<text x="1593.7" y="354.1" font-size="9" fill="#444" text-anchor="middle">240</text>
<text x="1593.7" y="406.5" font-size="9" fill="#444" text-anchor="middle">200</text>
<text x="1593.7" y="418.5" font-size="9" fill="#444" text-anchor="middle">240</text>
<text x="1593.2" y="471.1" font-size="9" fill="#444" text-anchor="middle">200</text>
<text x="1593.2" y="482.6" font-size="9" fill="#444" text-anchor="middle">240</text>
<text x="1225.8" y="571.3" font-size="9" fill="#444" text-anchor="middle">75</text>
<text x="1223" y="582.4" font-size="9" fill="#444" text-anchor="middle">210</text>
<text x="1225.8" y="652.4" font-size="9" fill="#444" text-anchor="middle">75</text>
<text x="1223" y="663.5" font-size="9" fill="#444" text-anchor="middle">210</text>
<text x="1325.3" y="555.1" font-size="9" fill="#444" text-anchor="middle">90</text>
<text x="1322" y="566.2" font-size="9" fill="#444" text-anchor="middle">210</text>
<text x="1532.2" y="554.9" font-size="9" fill="#444" text-anchor="middle">90</text>
<text x="1530" y="566.6" font-size="9" fill="#444" text-anchor="middle">210</text>
<text x="1375.6" y="480.5" font-size="9" fill="#444" text-anchor="middle">260</text>
<text x="1375.6" y="492.5" font-size="9" fill="#444" text-anchor="middle">300</text>
<text x="1642.3" y="556.3" font-size="9" fill="#444" text-anchor="middle">90</text>
<text x="1642.3" y="568" font-size="9" fill="#444" text-anchor="middle">150</text>
<line x1="1548.6" y1="347.5" x2="1604.3" y2="347.5" stroke="#999" stroke-width="0.6"/>
<line x1="1548.6" y1="411.6" x2="1604.3" y2="411.6" stroke="#999" stroke-width="0.6"/>
<line x1="1548.5" y1="476.5" x2="1604" y2="476.5" stroke="#999" stroke-width="0.6"/>
<line x1="1265" y1="482.9" x2="1323" y2="482.9" stroke="#999" stroke-width="0.6"/>
<line x1="1619" y1="348" x2="1640" y2="348" stroke="#555" stroke-width="0.7"/>
<polygon points="1638,344.5 1647,348 1638,351.5" fill="#111" stroke="#111" stroke-width="0.5"/>
<line x1="1619" y1="412" x2="1640" y2="412" stroke="#555" stroke-width="0.7"/>
<polygon points="1638,408.5 1647,412 1638,415.5" fill="#111" stroke="#111" stroke-width="0.5"/>
<text x="1517.7" y="323.8" font-size="8.6" fill="#222">30/30 vb</text>
<polyline points="1551,321 1565,312" fill="none" stroke="#555" stroke-width="0.6"/>
<text x="1517.4" y="517.1" font-size="8.6" fill="#222">30/30 vb</text>
<line x1="1547" y1="515" x2="1563" y2="515" stroke="#888" stroke-width="0.5"/>
<text x="1506.4" y="382.6" font-size="8.6" fill="#222">vb gerenda</text>
<text x="1512.8" y="391.9" font-size="8.6" fill="#222">AS: -4,10</text>
<line x1="1552" y1="380" x2="1568" y2="380" stroke="#555" stroke-width="0.6"/>
<line x1="1559" y1="386" x2="1559" y2="397" stroke="#333" stroke-width="0.7"/>
<text x="1355.6" y="410.5" font-size="8.4" fill="#333">esővízelvezetés</text>
<polyline points="1353,407 1350,407 1345,432" fill="none" stroke="#555" stroke-width="0.6"/>
<line x1="1516.5" y1="411.5" x2="1530.5" y2="411.5" stroke="#888" stroke-width="0.6"/>
<line x1="1523.5" y1="404.5" x2="1523.5" y2="418.5" stroke="#888" stroke-width="0.6"/>
<circle cx="1523.5" cy="411.5" r="3.6" fill="#fff" stroke="#888" stroke-width="0.6"/>
<path d="M1523.5 411.5h3.6a3.6 3.6 0 0 0 -3.6 -3.6zM1523.5 411.5h-3.6a3.6 3.6 0 0 0 3.6 3.6z" fill="#111"/>
<text x="1528.5" y="408.5" font-size="9.3" fill="#222">-6,55</text>
<line x1="1347.2" y1="484.9" x2="1361.2" y2="484.9" stroke="#888" stroke-width="0.6"/>
<line x1="1354.2" y1="477.9" x2="1354.2" y2="491.9" stroke="#888" stroke-width="0.6"/>
<circle cx="1354.2" cy="484.9" r="3.6" fill="#fff" stroke="#888" stroke-width="0.6"/>
<path d="M1354.2 484.9h3.6a3.6 3.6 0 0 0 -3.6 -3.6zM1354.2 484.9h-3.6a3.6 3.6 0 0 0 3.6 3.6z" fill="#111"/>
<text x="1359.2" y="481.9" font-size="9.3" fill="#222"></text>
<line x1="1606.6" y1="397.9" x2="1620.6" y2="397.9" stroke="#888" stroke-width="0.6"/>
<line x1="1613.6" y1="390.9" x2="1613.6" y2="404.9" stroke="#888" stroke-width="0.6"/>
<circle cx="1613.6" cy="397.9" r="3.6" fill="#fff" stroke="#888" stroke-width="0.6"/>
<path d="M1613.6 397.9h3.6a3.6 3.6 0 0 0 -3.6 -3.6zM1613.6 397.9h-3.6a3.6 3.6 0 0 0 3.6 3.6z" fill="#111"/>
<text x="1618.6" y="394.9" font-size="9.3" fill="#222">-6,57</text>
<line x1="1636.3" y1="606.3" x2="1650.3" y2="606.3" stroke="#888" stroke-width="0.6"/>
<line x1="1643.3" y1="599.3" x2="1643.3" y2="613.3" stroke="#888" stroke-width="0.6"/>
<circle cx="1643.3" cy="606.3" r="3.6" fill="#fff" stroke="#888" stroke-width="0.6"/>
<path d="M1643.3 606.3h3.6a3.6 3.6 0 0 0 -3.6 -3.6zM1643.3 606.3h-3.6a3.6 3.6 0 0 0 3.6 3.6z" fill="#111"/>
<text x="1648.3" y="603.3" font-size="9.3" fill="#222">-7,47</text>
<line x1="1593.2" y1="723" x2="1607.2" y2="723" stroke="#888" stroke-width="0.6"/>
<line x1="1600.2" y1="716" x2="1600.2" y2="730" stroke="#888" stroke-width="0.6"/>
<circle cx="1600.2" cy="723" r="3.6" fill="#fff" stroke="#888" stroke-width="0.6"/>
<path d="M1600.2 723h3.6a3.6 3.6 0 0 0 -3.6 -3.6zM1600.2 723h-3.6a3.6 3.6 0 0 0 3.6 3.6z" fill="#111"/>
<text x="1605.2" y="717.5" font-size="9.3" fill="#222">-7,47</text>
<line x1="1144.4" y1="722.4" x2="1158.4" y2="722.4" stroke="#888" stroke-width="0.6"/>
<line x1="1151.4" y1="715.4" x2="1151.4" y2="729.4" stroke="#888" stroke-width="0.6"/>
<circle cx="1151.4" cy="722.4" r="3.6" fill="#fff" stroke="#888" stroke-width="0.6"/>
<path d="M1151.4 722.4h3.6a3.6 3.6 0 0 0 -3.6 -3.6zM1151.4 722.4h-3.6a3.6 3.6 0 0 0 3.6 3.6z" fill="#111"/>
<text x="1156.4" y="716.5" font-size="9.3" fill="#222">-6,07</text>
<line x1="1130.8" y1="285" x2="1330" y2="285" stroke="#8a8a8a" stroke-width="0.8"/>
<line x1="1134.8" y1="279" x2="1134.8" y2="291" stroke="#c2c2c2" stroke-width="0.7"/>
<line x1="1130.6" y1="289.2" x2="1139" y2="280.8" stroke="#111" stroke-width="1.1"/>
<line x1="1141.4" y1="279" x2="1141.4" y2="291" stroke="#c2c2c2" stroke-width="0.7"/>
<line x1="1137.2" y1="289.2" x2="1145.6" y2="280.8" stroke="#111" stroke-width="1.1"/>
<line x1="1327.2" y1="279" x2="1327.2" y2="291" stroke="#c2c2c2" stroke-width="0.7"/>
<line x1="1323" y1="289.2" x2="1331.4" y2="280.8" stroke="#111" stroke-width="1.1"/>
<text x="1126.5" y="283.2" font-size="9.5" fill="#3a3a3a" text-anchor="middle">20</text>
<text x="1234" y="283.2" font-size="9.5" fill="#3a3a3a" text-anchor="middle">5,75</text>
<line x1="1172.7" y1="272.4" x2="1172.7" y2="326.9" stroke="#8a8a8a" stroke-width="0.8"/>
<line x1="1165.7" y1="276.4" x2="1179.7" y2="276.4" stroke="#c2c2c2" stroke-width="0.7"/>
<line x1="1168.5" y1="272.2" x2="1176.9" y2="280.6" stroke="#111" stroke-width="1.1"/>
<line x1="1165.7" y1="322.9" x2="1179.7" y2="322.9" stroke="#c2c2c2" stroke-width="0.7"/>
<line x1="1168.5" y1="318.7" x2="1176.9" y2="327.1" stroke="#111" stroke-width="1.1"/>
<text x="1170.9" y="299.6" font-size="9.5" fill="#3a3a3a" text-anchor="middle" transform="rotate(-90 1170.9 299.6)">1,45</text>
<line x1="1316.3" y1="238" x2="1316.3" y2="447.8" stroke="#8a8a8a" stroke-width="0.8"/>
<line x1="1309.3" y1="242" x2="1323.3" y2="242" stroke="#c2c2c2" stroke-width="0.7"/>
<line x1="1312.1" y1="237.8" x2="1320.5" y2="246.2" stroke="#111" stroke-width="1.1"/>
<line x1="1309.3" y1="250.1" x2="1323.3" y2="250.1" stroke="#c2c2c2" stroke-width="0.7"/>
<line x1="1312.1" y1="245.9" x2="1320.5" y2="254.3" stroke="#111" stroke-width="1.1"/>
<line x1="1309.3" y1="279.2" x2="1323.3" y2="279.2" stroke="#c2c2c2" stroke-width="0.7"/>
<line x1="1312.1" y1="275" x2="1320.5" y2="283.4" stroke="#111" stroke-width="1.1"/>
<line x1="1309.3" y1="326" x2="1323.3" y2="326" stroke="#c2c2c2" stroke-width="0.7"/>
<line x1="1312.1" y1="321.8" x2="1320.5" y2="330.2" stroke="#111" stroke-width="1.1"/>
<line x1="1309.3" y1="332.5" x2="1323.3" y2="332.5" stroke="#c2c2c2" stroke-width="0.7"/>
<line x1="1312.1" y1="328.3" x2="1320.5" y2="336.7" stroke="#111" stroke-width="1.1"/>
<line x1="1309.3" y1="342.2" x2="1323.3" y2="342.2" stroke="#c2c2c2" stroke-width="0.7"/>
<line x1="1312.1" y1="338" x2="1320.5" y2="346.4" stroke="#111" stroke-width="1.1"/>
<line x1="1309.3" y1="443.8" x2="1323.3" y2="443.8" stroke="#c2c2c2" stroke-width="0.7"/>
<line x1="1312.1" y1="439.6" x2="1320.5" y2="448" stroke="#111" stroke-width="1.1"/>
<text x="1314.5" y="245" font-size="9.5" fill="#3a3a3a" text-anchor="middle" transform="rotate(-90 1314.5 245)">25</text>
<text x="1314.5" y="264.6" font-size="9.5" fill="#3a3a3a" text-anchor="middle" transform="rotate(-90 1314.5 264.6)">90</text>
<text x="1314.5" y="296" font-size="9.5" fill="#3a3a3a" text-anchor="middle" transform="rotate(-90 1314.5 296)">1,45</text>
<text x="1314.5" y="313.6" font-size="9.5" fill="#3a3a3a" text-anchor="middle" transform="rotate(-90 1314.5 313.6)">20</text>
<text x="1314.5" y="346.1" font-size="9.5" fill="#3a3a3a" text-anchor="middle" transform="rotate(-90 1314.5 346.1)">30</text>
<text x="1314.5" y="390" font-size="9.5" fill="#3a3a3a" text-anchor="middle" transform="rotate(-90 1314.5 390)">3,15</text>
<line x1="1130" y1="504.4" x2="1588" y2="504.4" stroke="#8a8a8a" stroke-width="0.8"/>
<line x1="1142.6" y1="498.4" x2="1142.6" y2="510.4" stroke="#c2c2c2" stroke-width="0.7"/>
<line x1="1138.4" y1="508.6" x2="1146.8" y2="500.2" stroke="#111" stroke-width="1.1"/>
<line x1="1150.6" y1="498.4" x2="1150.6" y2="510.4" stroke="#c2c2c2" stroke-width="0.7"/>
<line x1="1146.4" y1="508.6" x2="1154.8" y2="500.2" stroke="#111" stroke-width="1.1"/>
<line x1="1283.1" y1="498.4" x2="1283.1" y2="510.4" stroke="#c2c2c2" stroke-width="0.7"/>
<line x1="1278.9" y1="508.6" x2="1287.3" y2="500.2" stroke="#111" stroke-width="1.1"/>
<line x1="1292.8" y1="498.4" x2="1292.8" y2="510.4" stroke="#c2c2c2" stroke-width="0.7"/>
<line x1="1288.6" y1="508.6" x2="1297" y2="500.2" stroke="#111" stroke-width="1.1"/>
<line x1="1299.3" y1="498.4" x2="1299.3" y2="510.4" stroke="#c2c2c2" stroke-width="0.7"/>
<line x1="1295.1" y1="508.6" x2="1303.5" y2="500.2" stroke="#111" stroke-width="1.1"/>
<line x1="1376.9" y1="498.4" x2="1376.9" y2="510.4" stroke="#c2c2c2" stroke-width="0.7"/>
<line x1="1372.7" y1="508.6" x2="1381.1" y2="500.2" stroke="#111" stroke-width="1.1"/>
<line x1="1382.7" y1="498.4" x2="1382.7" y2="510.4" stroke="#c2c2c2" stroke-width="0.7"/>
<line x1="1378.5" y1="508.6" x2="1386.9" y2="500.2" stroke="#111" stroke-width="1.1"/>
<line x1="1563.7" y1="498.4" x2="1563.7" y2="510.4" stroke="#c2c2c2" stroke-width="0.7"/>
<line x1="1559.5" y1="508.6" x2="1567.9" y2="500.2" stroke="#111" stroke-width="1.1"/>
<line x1="1573.6" y1="498.4" x2="1573.6" y2="510.4" stroke="#c2c2c2" stroke-width="0.7"/>
<line x1="1569.4" y1="508.6" x2="1577.8" y2="500.2" stroke="#111" stroke-width="1.1"/>
<line x1="1580.3" y1="498.4" x2="1580.3" y2="510.4" stroke="#c2c2c2" stroke-width="0.7"/>
<line x1="1576.1" y1="508.6" x2="1584.5" y2="500.2" stroke="#111" stroke-width="1.1"/>
<text x="1134.6" y="502.6" font-size="9.5" fill="#3a3a3a" text-anchor="middle">25</text>
<text x="1216.8" y="502.6" font-size="9.5" fill="#3a3a3a" text-anchor="middle">4,10</text>
<text x="1283" y="502.6" font-size="9.5" fill="#3a3a3a" text-anchor="middle">30</text>
<text x="1308.4" y="502.6" font-size="9.5" fill="#3a3a3a" text-anchor="middle">20</text>
<text x="1338.3" y="502.6" font-size="9.5" fill="#3a3a3a" text-anchor="middle">2,40</text>
<text x="1368.4" y="502.6" font-size="9.5" fill="#3a3a3a" text-anchor="middle">20</text>
<text x="1469.3" y="502.6" font-size="9.5" fill="#3a3a3a" text-anchor="middle">5,60</text>
<text x="1556" y="502.6" font-size="9.5" fill="#3a3a3a" text-anchor="middle">30</text>
<text x="1589.2" y="502.6" font-size="9.5" fill="#3a3a3a" text-anchor="middle">20</text>
<line x1="1175.1" y1="421.3" x2="1175.1" y2="545.7" stroke="#8a8a8a" stroke-width="0.8"/>
<line x1="1168.1" y1="425.3" x2="1182.1" y2="425.3" stroke="#c2c2c2" stroke-width="0.7"/>
<line x1="1170.9" y1="421.1" x2="1179.3" y2="429.5" stroke="#111" stroke-width="1.1"/>
<line x1="1168.1" y1="431.8" x2="1182.1" y2="431.8" stroke="#c2c2c2" stroke-width="0.7"/>
<line x1="1170.9" y1="427.6" x2="1179.3" y2="436" stroke="#111" stroke-width="1.1"/>
<line x1="1168.1" y1="439.9" x2="1182.1" y2="439.9" stroke="#c2c2c2" stroke-width="0.7"/>
<line x1="1170.9" y1="435.7" x2="1179.3" y2="444.1" stroke="#111" stroke-width="1.1"/>
<line x1="1168.1" y1="533.6" x2="1182.1" y2="533.6" stroke="#c2c2c2" stroke-width="0.7"/>
<line x1="1170.9" y1="529.4" x2="1179.3" y2="537.8" stroke="#111" stroke-width="1.1"/>
<line x1="1168.1" y1="541.7" x2="1182.1" y2="541.7" stroke="#c2c2c2" stroke-width="0.7"/>
<line x1="1170.9" y1="537.5" x2="1179.3" y2="545.9" stroke="#111" stroke-width="1.1"/>
<text x="1173.3" y="416.5" font-size="9.5" fill="#3a3a3a" text-anchor="middle" transform="rotate(-90 1173.3 416.5)">20</text>
<text x="1173.3" y="447" font-size="9.5" fill="#3a3a3a" text-anchor="middle" transform="rotate(-90 1173.3 447)">25</text>
<text x="1173.3" y="490.2" font-size="9.5" fill="#3a3a3a" text-anchor="middle" transform="rotate(-90 1173.3 490.2)">2,90</text>
<text x="1173.3" y="548.5" font-size="9.5" fill="#3a3a3a" text-anchor="middle" transform="rotate(-90 1173.3 548.5)">25</text>
<line x1="1409.7" y1="292" x2="1409.7" y2="545.5" stroke="#8a8a8a" stroke-width="0.8"/>
<line x1="1402.7" y1="292.4" x2="1416.7" y2="292.4" stroke="#c2c2c2" stroke-width="0.7"/>
<line x1="1405.5" y1="288.2" x2="1413.9" y2="296.6" stroke="#111" stroke-width="1.1"/>
<line x1="1402.7" y1="441" x2="1416.7" y2="441" stroke="#c2c2c2" stroke-width="0.7"/>
<line x1="1405.5" y1="436.8" x2="1413.9" y2="445.2" stroke="#111" stroke-width="1.1"/>
<line x1="1402.7" y1="531.7" x2="1416.7" y2="531.7" stroke="#c2c2c2" stroke-width="0.7"/>
<line x1="1405.5" y1="527.5" x2="1413.9" y2="535.9" stroke="#111" stroke-width="1.1"/>
<line x1="1402.7" y1="533.4" x2="1416.7" y2="533.4" stroke="#c2c2c2" stroke-width="0.7"/>
<line x1="1405.5" y1="529.2" x2="1413.9" y2="537.6" stroke="#111" stroke-width="1.1"/>
<line x1="1402.7" y1="541.5" x2="1416.7" y2="541.5" stroke="#c2c2c2" stroke-width="0.7"/>
<line x1="1405.5" y1="537.3" x2="1413.9" y2="545.7" stroke="#111" stroke-width="1.1"/>
<text x="1407.9" y="381.3" font-size="9.5" fill="#3a3a3a" text-anchor="middle" transform="rotate(-90 1407.9 381.3)">4,60</text>
<text x="1407.9" y="480.6" font-size="9.5" fill="#3a3a3a" text-anchor="middle" transform="rotate(-90 1407.9 480.6)">2,80</text>
<text x="1407.9" y="524.6" font-size="9.5" fill="#3a3a3a" text-anchor="middle" transform="rotate(-90 1407.9 524.6)">5</text>
<text x="1407.9" y="549" font-size="9.5" fill="#3a3a3a" text-anchor="middle" transform="rotate(-90 1407.9 549)">25</text>
<rect x="1134.5" y="608.8" width="16.4" height="10.3" fill="url(#brick)" stroke="#2e2e2e" stroke-width="1.1"/>
<rect x="1134.5" y="619.2" width="7" height="5.4" fill="url(#ins)" stroke="#555" stroke-width="0.5"/>
<line x1="1300" y1="447" x2="1386" y2="447" stroke="#aaa" stroke-width="0.6" stroke-dasharray="4 3"/>
<line x1="1338.3" y1="447" x2="1338.3" y2="523" stroke="#aaa" stroke-width="0.6" stroke-dasharray="4 3"/>
<line x1="1300" y1="447" x2="1386" y2="523" stroke="#c8c8c8" stroke-width="0.5" stroke-dasharray="4 3"/>
<line x1="1386" y1="447" x2="1300" y2="523" stroke="#c8c8c8" stroke-width="0.5" stroke-dasharray="4 3"/>
<line x1="1300" y1="445" x2="1300" y2="512" stroke="#bbb" stroke-width="0.6" stroke-dasharray="3 2"/>
<polyline points="1580.5,274.5 1695.2,274.5 1695.2,531" fill="none" stroke="#999" stroke-width="0.8"/>
<polyline points="1580.5,276.3 1693.4,276.3 1693.4,531" fill="none" stroke="#bbb" stroke-width="0.6"/>
<polyline points="1581,285.6 1684.6,285.6 1684.6,525.4" fill="none" stroke="#aaa" stroke-width="0.7" stroke-dasharray="5 3"/>
<line x1="1678" y1="285.6" x2="1678" y2="525.4" stroke="#aaa" stroke-width="0.7" stroke-dasharray="5 3"/>
<line x1="1657.5" y1="276" x2="1657.5" y2="524.4" stroke="#8a8a8a" stroke-width="0.8"/>
<line x1="1653.3" y1="271.8" x2="1661.7" y2="280.2" stroke="#111" stroke-width="1.1"/>
<line x1="1653.3" y1="520.2" x2="1661.7" y2="528.6" stroke="#111" stroke-width="1.1"/>
<text x="1655.7" y="400.6" font-size="9.5" fill="#3a3a3a" text-anchor="middle" transform="rotate(-90 1655.7 400.6)">7,70</text>
<line x1="1576.5" y1="302.4" x2="1700" y2="302.4" stroke="#8a8a8a" stroke-width="0.8"/>
<line x1="1580.5" y1="296.4" x2="1580.5" y2="308.4" stroke="#c2c2c2" stroke-width="0.7"/>
<line x1="1576.3" y1="306.6" x2="1584.7" y2="298.2" stroke="#111" stroke-width="1.1"/>
<line x1="1693.9" y1="296.4" x2="1693.9" y2="308.4" stroke="#c2c2c2" stroke-width="0.7"/>
<line x1="1689.7" y1="306.6" x2="1698.1" y2="298.2" stroke="#111" stroke-width="1.1"/>
<text x="1637.5" y="300.6" font-size="9.5" fill="#3a3a3a" text-anchor="middle">3,50</text>
<line x1="1576.5" y1="367.4" x2="1681.3" y2="367.4" stroke="#8a8a8a" stroke-width="0.8"/>
<line x1="1580.5" y1="361.4" x2="1580.5" y2="373.4" stroke="#c2c2c2" stroke-width="0.7"/>
<line x1="1576.3" y1="371.6" x2="1584.7" y2="363.2" stroke="#111" stroke-width="1.1"/>
<line x1="1677.3" y1="361.4" x2="1677.3" y2="373.4" stroke="#c2c2c2" stroke-width="0.7"/>
<line x1="1673.1" y1="371.6" x2="1681.5" y2="363.2" stroke="#111" stroke-width="1.1"/>
<text x="1629.6" y="365.6" font-size="9.5" fill="#3a3a3a" text-anchor="middle">3,00</text>
<line x1="1585" y1="504.3" x2="1700" y2="504.3" stroke="#8a8a8a" stroke-width="0.8"/>
<line x1="1580.5" y1="498.3" x2="1580.5" y2="510.3" stroke="#c2c2c2" stroke-width="0.7"/>
<line x1="1576.3" y1="508.5" x2="1584.7" y2="500.1" stroke="#111" stroke-width="1.1"/>
<line x1="1693.9" y1="498.3" x2="1693.9" y2="510.3" stroke="#c2c2c2" stroke-width="0.7"/>
<line x1="1689.7" y1="508.5" x2="1698.1" y2="500.1" stroke="#111" stroke-width="1.1"/>
<text x="1641.3" y="502.5" font-size="9.5" fill="#3a3a3a" text-anchor="middle">3,50</text>
<polyline points="1630,531.6 1661.9,531.6 1661.9,573.9 1630,573.9" fill="none" stroke="#aaa" stroke-width="0.6"/>
<line x1="1630" y1="531.6" x2="1646" y2="545" stroke="#bbb" stroke-width="0.5"/>
<line x1="1661.9" y1="531.6" x2="1646" y2="545" stroke="#bbb" stroke-width="0.5"/>
<line x1="1630" y1="560" x2="1661.9" y2="560" stroke="#bbb" stroke-width="0.5"/>
<line x1="1661.9" y1="524.4" x2="1661.9" y2="531.6" stroke="#aaa" stroke-width="0.6"/>
<polyline points="1661.9,525.4 1695.2,525.4" fill="none" stroke="#999" stroke-width="0.7"/>
<line x1="1678" y1="528.5" x2="1678" y2="701.8" stroke="#999" stroke-width="0.7" stroke-dasharray="6 3"/>
<line x1="1629.9" y1="701.8" x2="1678" y2="701.8" stroke="#999" stroke-width="0.7" stroke-dasharray="6 3"/>
<line x1="1625.4" y1="661.2" x2="1681.4" y2="661.2" stroke="#8a8a8a" stroke-width="0.8"/>
<line x1="1629.4" y1="655.2" x2="1629.4" y2="667.2" stroke="#c2c2c2" stroke-width="0.7"/>
<line x1="1625.2" y1="665.4" x2="1633.6" y2="657" stroke="#111" stroke-width="1.1"/>
<line x1="1677.4" y1="655.2" x2="1677.4" y2="667.2" stroke="#c2c2c2" stroke-width="0.7"/>
<line x1="1673.2" y1="665.4" x2="1681.6" y2="657" stroke="#111" stroke-width="1.1"/>
<text x="1653.7" y="659.4" font-size="9.5" fill="#3a3a3a" text-anchor="middle">1,50</text>
<line x1="1720" y1="282.1" x2="1800" y2="282.1" stroke="#c8c8c8" stroke-width="0.7" stroke-dasharray="6 3"/>
<line x1="1726.6" y1="278.1" x2="1726.6" y2="700.7" stroke="#8a8a8a" stroke-width="0.8"/>
<line x1="1719.6" y1="282.1" x2="1733.6" y2="282.1" stroke="#c2c2c2" stroke-width="0.7"/>
<line x1="1722.4" y1="277.9" x2="1730.8" y2="286.3" stroke="#111" stroke-width="1.1"/>
<line x1="1719.6" y1="346.6" x2="1733.6" y2="346.6" stroke="#c2c2c2" stroke-width="0.7"/>
<line x1="1722.4" y1="342.4" x2="1730.8" y2="350.8" stroke="#111" stroke-width="1.1"/>
<line x1="1719.6" y1="411.2" x2="1733.6" y2="411.2" stroke="#c2c2c2" stroke-width="0.7"/>
<line x1="1722.4" y1="407" x2="1730.8" y2="415.4" stroke="#111" stroke-width="1.1"/>
<line x1="1719.6" y1="475.7" x2="1733.6" y2="475.7" stroke="#c2c2c2" stroke-width="0.7"/>
<line x1="1722.4" y1="471.5" x2="1730.8" y2="479.9" stroke="#111" stroke-width="1.1"/>
<line x1="1719.6" y1="530.6" x2="1733.6" y2="530.6" stroke="#c2c2c2" stroke-width="0.7"/>
<line x1="1722.4" y1="526.4" x2="1730.8" y2="534.8" stroke="#111" stroke-width="1.1"/>
<line x1="1719.6" y1="558.4" x2="1733.6" y2="558.4" stroke="#c2c2c2" stroke-width="0.7"/>
<line x1="1722.4" y1="554.2" x2="1730.8" y2="562.6" stroke="#111" stroke-width="1.1"/>
<line x1="1719.6" y1="696.7" x2="1733.6" y2="696.7" stroke="#c2c2c2" stroke-width="0.7"/>
<line x1="1722.4" y1="692.5" x2="1730.8" y2="700.9" stroke="#111" stroke-width="1.1"/>
<text x="1724.8" y="314.8" font-size="9.5" fill="#3a3a3a" text-anchor="middle" transform="rotate(-90 1724.8 314.8)">2,00</text>
<text x="1724.8" y="379.5" font-size="9.5" fill="#3a3a3a" text-anchor="middle" transform="rotate(-90 1724.8 379.5)">2,00</text>
<text x="1724.8" y="443.9" font-size="9.5" fill="#3a3a3a" text-anchor="middle" transform="rotate(-90 1724.8 443.9)">2,00</text>
<text x="1724.8" y="502.7" font-size="9.5" fill="#3a3a3a" text-anchor="middle" transform="rotate(-90 1724.8 502.7)">1,70</text>
<text x="1724.8" y="545" font-size="9.5" fill="#3a3a3a" text-anchor="middle" transform="rotate(-90 1724.8 545)">85</text>
<text x="1724.8" y="627.5" font-size="9.5" fill="#3a3a3a" text-anchor="middle" transform="rotate(-90 1724.8 627.5)">4,25</text>
<line x1="1742.6" y1="278.1" x2="1742.6" y2="699.8" stroke="#8a8a8a" stroke-width="0.8"/>
<line x1="1735.6" y1="282.1" x2="1749.6" y2="282.1" stroke="#c2c2c2" stroke-width="0.7"/>
<line x1="1738.4" y1="277.9" x2="1746.8" y2="286.3" stroke="#111" stroke-width="1.1"/>
<line x1="1735.6" y1="291.8" x2="1749.6" y2="291.8" stroke="#c2c2c2" stroke-width="0.7"/>
<line x1="1738.4" y1="287.6" x2="1746.8" y2="296" stroke="#111" stroke-width="1.1"/>
<line x1="1735.6" y1="532.6" x2="1749.6" y2="532.6" stroke="#c2c2c2" stroke-width="0.7"/>
<line x1="1738.4" y1="528.4" x2="1746.8" y2="536.8" stroke="#111" stroke-width="1.1"/>
<line x1="1735.6" y1="540.7" x2="1749.6" y2="540.7" stroke="#c2c2c2" stroke-width="0.7"/>
<line x1="1738.4" y1="536.5" x2="1746.8" y2="544.9" stroke="#111" stroke-width="1.1"/>
<line x1="1735.6" y1="579.5" x2="1749.6" y2="579.5" stroke="#c2c2c2" stroke-width="0.7"/>
<line x1="1738.4" y1="575.3" x2="1746.8" y2="583.7" stroke="#111" stroke-width="1.1"/>
<line x1="1735.6" y1="582.7" x2="1749.6" y2="582.7" stroke="#c2c2c2" stroke-width="0.7"/>
<line x1="1738.4" y1="578.5" x2="1746.8" y2="586.9" stroke="#111" stroke-width="1.1"/>
<line x1="1735.6" y1="686.1" x2="1749.6" y2="686.1" stroke="#c2c2c2" stroke-width="0.7"/>
<line x1="1738.4" y1="681.9" x2="1746.8" y2="690.3" stroke="#111" stroke-width="1.1"/>
<line x1="1735.6" y1="695.8" x2="1749.6" y2="695.8" stroke="#c2c2c2" stroke-width="0.7"/>
<line x1="1738.4" y1="691.6" x2="1746.8" y2="700" stroke="#111" stroke-width="1.1"/>
<text x="1740.8" y="300.7" font-size="9.5" fill="#3a3a3a" text-anchor="middle" transform="rotate(-90 1740.8 300.7)">30</text>
<text x="1740.8" y="412.1" font-size="9.5" fill="#3a3a3a" text-anchor="middle" transform="rotate(-90 1740.8 412.1)">7,45</text>
<text x="1740.8" y="524.4" font-size="9.5" fill="#3a3a3a" text-anchor="middle" transform="rotate(-90 1740.8 524.4)">25</text>
<text x="1740.8" y="559.4" font-size="9.5" fill="#3a3a3a" text-anchor="middle" transform="rotate(-90 1740.8 559.4)">1,20</text>
<text x="1740.8" y="590" font-size="9.5" fill="#3a3a3a" text-anchor="middle" transform="rotate(-90 1740.8 590)">10</text>
<text x="1740.8" y="638.9" font-size="9.5" fill="#3a3a3a" text-anchor="middle" transform="rotate(-90 1740.8 638.9)">3,20</text>
<text x="1740.8" y="703.9" font-size="9.5" fill="#3a3a3a" text-anchor="middle" transform="rotate(-90 1740.8 703.9)">30</text>
<line x1="1758.7" y1="278.1" x2="1758.7" y2="699.8" stroke="#8a8a8a" stroke-width="0.8"/>
<line x1="1751.7" y1="282.1" x2="1765.7" y2="282.1" stroke="#c2c2c2" stroke-width="0.7"/>
<line x1="1754.5" y1="277.9" x2="1762.9" y2="286.3" stroke="#111" stroke-width="1.1"/>
<line x1="1751.7" y1="291.8" x2="1765.7" y2="291.8" stroke="#c2c2c2" stroke-width="0.7"/>
<line x1="1754.5" y1="287.6" x2="1762.9" y2="296" stroke="#111" stroke-width="1.1"/>
<line x1="1751.7" y1="531" x2="1765.7" y2="531" stroke="#c2c2c2" stroke-width="0.7"/>
<line x1="1754.5" y1="526.8" x2="1762.9" y2="535.2" stroke="#111" stroke-width="1.1"/>
<line x1="1751.7" y1="540.7" x2="1765.7" y2="540.7" stroke="#c2c2c2" stroke-width="0.7"/>
<line x1="1754.5" y1="536.5" x2="1762.9" y2="544.9" stroke="#111" stroke-width="1.1"/>
<line x1="1751.7" y1="686.1" x2="1765.7" y2="686.1" stroke="#c2c2c2" stroke-width="0.7"/>
<line x1="1754.5" y1="681.9" x2="1762.9" y2="690.3" stroke="#111" stroke-width="1.1"/>
<line x1="1751.7" y1="695.8" x2="1765.7" y2="695.8" stroke="#c2c2c2" stroke-width="0.7"/>
<line x1="1754.5" y1="691.6" x2="1762.9" y2="700" stroke="#111" stroke-width="1.1"/>
<text x="1756.9" y="300.7" font-size="9.5" fill="#3a3a3a" text-anchor="middle" transform="rotate(-90 1756.9 300.7)">30</text>
<text x="1756.9" y="415.6" font-size="9.5" fill="#3a3a3a" text-anchor="middle" transform="rotate(-90 1756.9 415.6)">7,40</text>
<text x="1756.9" y="548.1" font-size="9.5" fill="#3a3a3a" text-anchor="middle" transform="rotate(-90 1756.9 548.1)">30</text>
<text x="1756.9" y="617.2" font-size="9.5" fill="#3a3a3a" text-anchor="middle" transform="rotate(-90 1756.9 617.2)">4,50</text>
<text x="1756.9" y="703.9" font-size="9.5" fill="#3a3a3a" text-anchor="middle" transform="rotate(-90 1756.9 703.9)">30</text>
<line x1="1775" y1="278.1" x2="1775" y2="699.8" stroke="#8a8a8a" stroke-width="0.8"/>
<line x1="1768" y1="282.1" x2="1782" y2="282.1" stroke="#c2c2c2" stroke-width="0.7"/>
<line x1="1770.8" y1="277.9" x2="1779.2" y2="286.3" stroke="#111" stroke-width="1.1"/>
<line x1="1768" y1="531" x2="1782" y2="531" stroke="#c2c2c2" stroke-width="0.7"/>
<line x1="1770.8" y1="526.8" x2="1779.2" y2="535.2" stroke="#111" stroke-width="1.1"/>
<line x1="1768" y1="695.8" x2="1782" y2="695.8" stroke="#c2c2c2" stroke-width="0.7"/>
<line x1="1770.8" y1="691.6" x2="1779.2" y2="700" stroke="#111" stroke-width="1.1"/>
<text x="1773.2" y="406.8" font-size="9.5" fill="#3a3a3a" text-anchor="middle" transform="rotate(-90 1773.2 406.8)">7,70</text>
<text x="1773.2" y="613.1" font-size="9.5" fill="#3a3a3a" text-anchor="middle" transform="rotate(-90 1773.2 613.1)">5,10</text>
<line x1="1790.5" y1="142" x2="1790.5" y2="706.3" stroke="#8a8a8a" stroke-width="0.8"/>
<line x1="1783.5" y1="142" x2="1797.5" y2="142" stroke="#c2c2c2" stroke-width="0.7"/>
<line x1="1786.3" y1="137.8" x2="1794.7" y2="146.2" stroke="#111" stroke-width="1.1"/>
<line x1="1783.5" y1="275.9" x2="1797.5" y2="275.9" stroke="#c2c2c2" stroke-width="0.7"/>
<line x1="1786.3" y1="271.7" x2="1794.7" y2="280.1" stroke="#111" stroke-width="1.1"/>
<line x1="1783.5" y1="282.1" x2="1797.5" y2="282.1" stroke="#c2c2c2" stroke-width="0.7"/>
<line x1="1786.3" y1="277.9" x2="1794.7" y2="286.3" stroke="#111" stroke-width="1.1"/>
<line x1="1783.5" y1="695.8" x2="1797.5" y2="695.8" stroke="#c2c2c2" stroke-width="0.7"/>
<line x1="1786.3" y1="691.6" x2="1794.7" y2="700" stroke="#111" stroke-width="1.1"/>
<line x1="1783.5" y1="702.3" x2="1797.5" y2="702.3" stroke="#c2c2c2" stroke-width="0.7"/>
<line x1="1786.3" y1="698.1" x2="1794.7" y2="706.5" stroke="#111" stroke-width="1.1"/>
<text x="1788.7" y="209" font-size="9.5" fill="#3a3a3a" text-anchor="middle" transform="rotate(-90 1788.7 209)">4,15</text>
<text x="1788.7" y="290" font-size="9.5" fill="#3a3a3a" text-anchor="middle" transform="rotate(-90 1788.7 290)">20</text>
<text x="1788.7" y="493.4" font-size="9.5" fill="#3a3a3a" text-anchor="middle" transform="rotate(-90 1788.7 493.4)">12,80</text>
<text x="1788.7" y="710.1" font-size="9.5" fill="#3a3a3a" text-anchor="middle" transform="rotate(-90 1788.7 710.1)">20</text>
<line x1="1720" y1="696.5" x2="1800" y2="696.5" stroke="#c8c8c8" stroke-width="0.7"/>
<polyline points="1629,701.8 1691,711.5 1740,720 1830,733" fill="none" stroke="#f3bf9c" stroke-width="0.8" stroke-dasharray="7 4"/>
<line x1="1691" y1="711.5" x2="1669.2" y2="856.3" stroke="#f0a070" stroke-width="0.8"/>
<text x="1678" y="783.3" font-size="9" fill="#f0a070" text-anchor="middle" transform="rotate(-80 1678 783.3)">4,50</text>
<polyline points="619.2,108 619.2,585.2" fill="none" stroke="#111" stroke-width="1.6" stroke-dasharray="14 3 2 3"/>
<polyline points="619.2,575 619.2,585.2 608.7,585.2 608.7,610" fill="none" stroke="#111" stroke-width="1.8"/>
<polyline points="608.7,610 608.7,837.5" fill="none" stroke="#111" stroke-width="1.6" stroke-dasharray="14 3 2 3"/>
<polyline points="597.5,108 619.2,108 619.2,118" fill="none" stroke="#111" stroke-width="1.8"/>
<polyline points="608.7,828 608.7,837.5 588,837.5" fill="none" stroke="#111" stroke-width="1.8"/>
<text x="613.5" y="98.7" font-size="15" fill="#111" text-anchor="middle" font-weight="bold" transform="rotate(-90 613.5 98.7)">A</text>
<text x="604" y="845" font-size="15" fill="#111" text-anchor="middle" font-weight="bold" transform="rotate(-90 604 845)">A</text>
<polyline points="1302.5,108 1302.5,837.5" fill="none" stroke="#111" stroke-width="1.6" stroke-dasharray="14 3 2 3"/>
<polyline points="1302.5,118 1302.5,108 1322.5,108" fill="none" stroke="#111" stroke-width="1.8"/>
<polyline points="1302.5,828 1302.5,837.5 1322.5,837.5" fill="none" stroke="#111" stroke-width="1.8"/>
<text x="1318" y="97.5" font-size="15" fill="#111" text-anchor="middle" font-weight="bold" transform="rotate(-90 1318 97.5)">B</text>
<text x="1318" y="847.5" font-size="15" fill="#111" text-anchor="middle" font-weight="bold" transform="rotate(-90 1318 847.5)">B</text>
<polyline points="1493.1,330.7 1797.4,330.7" fill="none" stroke="#111" stroke-width="1.6" stroke-dasharray="14 3 2 3"/>
<polyline points="1787,330.7 1797.4,330.7 1797.4,310.4" fill="none" stroke="#111" stroke-width="1.8"/>
<text x="1806.5" y="326.3" font-size="16" fill="#111" text-anchor="middle" font-weight="bold">C</text>
<polyline points="336,564.2 962.5,564.2 962.5,588.7 1797.1,588.7" fill="none" stroke="#111" stroke-width="1.6" stroke-dasharray="14 3 2 3"/>
<polyline points="1787,588.7 1797.1,588.7 1797.1,568.7" fill="none" stroke="#111" stroke-width="1.8"/>
<text x="1806.4" y="583.2" font-size="16" fill="#111" text-anchor="middle" font-weight="bold">D</text>
<line x1="1695.5" y1="257" x2="1709.5" y2="257" stroke="#888" stroke-width="0.6"/>
<line x1="1702.5" y1="250" x2="1702.5" y2="264" stroke="#888" stroke-width="0.6"/>
<circle cx="1702.5" cy="257" r="3.6" fill="#fff" stroke="#888" stroke-width="0.6"/>
<path d="M1702.5 257h3.6a3.6 3.6 0 0 0 -3.6 -3.6zM1702.5 257h-3.6a3.6 3.6 0 0 0 3.6 3.6z" fill="#111"/>
<text x="1707.5" y="254" font-size="9.3" fill="#222">-9,35</text>
<line x1="1355" y1="142" x2="1355" y2="276" stroke="#aaa" stroke-width="0.6"/>
<polyline points="1135,672.5 1233,671.5 1300,668 1380,668 1450,676 1496,684 1543,691 1629,701.8" fill="none" stroke="#f3bf9c" stroke-width="0.8" stroke-dasharray="7 4"/>
<line x1="1686" y1="710.5" x2="1696" y2="712.5" stroke="#f0a070" stroke-width="0.7"/>
<line x1="1690" y1="706.5" x2="1692" y2="716.5" stroke="#f0a070" stroke-width="0.7"/>
<line x1="1664.2" y1="855.3" x2="1674.2" y2="857.3" stroke="#f0a070" stroke-width="0.7"/>
<line x1="1668.2" y1="851.3" x2="1670.2" y2="861.3" stroke="#f0a070" stroke-width="0.7"/>
<line x1="405.4" y1="630.8" x2="415.4" y2="632.8" stroke="#f0a070" stroke-width="0.7"/>
<line x1="409.4" y1="626.8" x2="411.4" y2="636.8" stroke="#f0a070" stroke-width="0.7"/>
<line x1="379.5" y1="774.1" x2="389.5" y2="776.1" stroke="#f0a070" stroke-width="0.7"/>
<line x1="383.5" y1="770.1" x2="385.5" y2="780.1" stroke="#f0a070" stroke-width="0.7"/>
<line x1="398.3" y1="438.6" x2="408.3" y2="440.6" stroke="#f0a070" stroke-width="0.7"/>
<line x1="402.3" y1="434.6" x2="404.3" y2="444.6" stroke="#f0a070" stroke-width="0.7"/>
<line x1="132.6" y1="457.9" x2="142.6" y2="459.9" stroke="#f0a070" stroke-width="0.7"/>
<line x1="136.6" y1="453.9" x2="138.6" y2="463.9" stroke="#f0a070" stroke-width="0.7"/>
<line x1="459.2" y1="625" x2="459.2" y2="840" stroke="#9a9a9a" stroke-width="0.6"/>
<line x1="455" y1="734.5" x2="1145" y2="734.5" stroke="#8a8a8a" stroke-width="0.8"/>
<line x1="459.25" y1="728.5" x2="459.25" y2="740.5" stroke="#c2c2c2" stroke-width="0.7"/>
<line x1="455.05" y1="738.7" x2="463.45" y2="730.3" stroke="#111" stroke-width="1.1"/>
<line x1="520.4" y1="728.5" x2="520.4" y2="740.5" stroke="#c2c2c2" stroke-width="0.7"/>
<line x1="516.2" y1="738.7" x2="524.6" y2="730.3" stroke="#111" stroke-width="1.1"/>
<line x1="602.8" y1="728.5" x2="602.8" y2="740.5" stroke="#c2c2c2" stroke-width="0.7"/>
<line x1="598.6" y1="738.7" x2="607" y2="730.3" stroke="#111" stroke-width="1.1"/>
<line x1="685.2" y1="728.5" x2="685.2" y2="740.5" stroke="#c2c2c2" stroke-width="0.7"/>
<line x1="681" y1="738.7" x2="689.4" y2="730.3" stroke="#111" stroke-width="1.1"/>
<line x1="908.2" y1="728.5" x2="908.2" y2="740.5" stroke="#c2c2c2" stroke-width="0.7"/>
<line x1="904" y1="738.7" x2="912.4" y2="730.3" stroke="#111" stroke-width="1.1"/>
<line x1="1140.9" y1="728.5" x2="1140.9" y2="740.5" stroke="#c2c2c2" stroke-width="0.7"/>
<line x1="1136.7" y1="738.7" x2="1145.1" y2="730.3" stroke="#111" stroke-width="1.1"/>
<text x="490" y="732.7" font-size="9.5" fill="#3a3a3a" text-anchor="middle">1,90</text>
<text x="561.6" y="732.7" font-size="9.5" fill="#3a3a3a" text-anchor="middle">2,55</text>
<text x="644" y="732.7" font-size="9.5" fill="#3a3a3a" text-anchor="middle">2,55</text>
<text x="796.7" y="732.7" font-size="9.5" fill="#3a3a3a" text-anchor="middle">6,90</text>
<text x="1025" y="732.7" font-size="9.5" fill="#3a3a3a" text-anchor="middle">7,20</text>
<line x1="455" y1="750.5" x2="751" y2="750.5" stroke="#8a8a8a" stroke-width="0.8"/>
<line x1="459" y1="744.5" x2="459" y2="756.5" stroke="#c2c2c2" stroke-width="0.7"/>
<line x1="454.8" y1="754.7" x2="463.2" y2="746.3" stroke="#111" stroke-width="1.1"/>
<line x1="468.7" y1="744.5" x2="468.7" y2="756.5" stroke="#c2c2c2" stroke-width="0.7"/>
<line x1="464.5" y1="754.7" x2="472.9" y2="746.3" stroke="#111" stroke-width="1.1"/>
<line x1="601.2" y1="744.5" x2="601.2" y2="756.5" stroke="#c2c2c2" stroke-width="0.7"/>
<line x1="597" y1="754.7" x2="605.4" y2="746.3" stroke="#111" stroke-width="1.1"/>
<line x1="604.4" y1="744.5" x2="604.4" y2="756.5" stroke="#c2c2c2" stroke-width="0.7"/>
<line x1="600.2" y1="754.7" x2="608.6" y2="746.3" stroke="#111" stroke-width="1.1"/>
<line x1="736.9" y1="744.5" x2="736.9" y2="756.5" stroke="#c2c2c2" stroke-width="0.7"/>
<line x1="732.7" y1="754.7" x2="741.1" y2="746.3" stroke="#111" stroke-width="1.1"/>
<line x1="745" y1="744.5" x2="745" y2="756.5" stroke="#c2c2c2" stroke-width="0.7"/>
<line x1="740.8" y1="754.7" x2="749.2" y2="746.3" stroke="#111" stroke-width="1.1"/>
<text x="477.5" y="748.7" font-size="9.5" fill="#3a3a3a" text-anchor="middle">30</text>
<text x="535" y="748.7" font-size="9.5" fill="#3a3a3a" text-anchor="middle">4,10</text>
<text x="597" y="748.7" font-size="9.5" fill="#3a3a3a" text-anchor="middle">10</text>
<text x="670.5" y="748.7" font-size="9.5" fill="#3a3a3a" text-anchor="middle">4,10</text>
<text x="729" y="748.7" font-size="9.5" fill="#3a3a3a" text-anchor="middle">25</text>
<line x1="1136" y1="750.5" x2="1626" y2="750.5" stroke="#8a8a8a" stroke-width="0.8"/>
<line x1="1141" y1="744.5" x2="1141" y2="756.5" stroke="#c2c2c2" stroke-width="0.7"/>
<line x1="1136.8" y1="754.7" x2="1145.2" y2="746.3" stroke="#111" stroke-width="1.1"/>
<line x1="1191.1" y1="744.5" x2="1191.1" y2="756.5" stroke="#c2c2c2" stroke-width="0.7"/>
<line x1="1186.9" y1="754.7" x2="1195.3" y2="746.3" stroke="#111" stroke-width="1.1"/>
<line x1="1283.2" y1="744.5" x2="1283.2" y2="756.5" stroke="#c2c2c2" stroke-width="0.7"/>
<line x1="1279" y1="754.7" x2="1287.4" y2="746.3" stroke="#111" stroke-width="1.1"/>
<line x1="1394.7" y1="744.5" x2="1394.7" y2="756.5" stroke="#c2c2c2" stroke-width="0.7"/>
<line x1="1390.5" y1="754.7" x2="1398.9" y2="746.3" stroke="#111" stroke-width="1.1"/>
<line x1="1490" y1="744.5" x2="1490" y2="756.5" stroke="#c2c2c2" stroke-width="0.7"/>
<line x1="1485.8" y1="754.7" x2="1494.2" y2="746.3" stroke="#111" stroke-width="1.1"/>
<line x1="1569.2" y1="744.5" x2="1569.2" y2="756.5" stroke="#c2c2c2" stroke-width="0.7"/>
<line x1="1565" y1="754.7" x2="1573.4" y2="746.3" stroke="#111" stroke-width="1.1"/>
<line x1="1622.5" y1="744.5" x2="1622.5" y2="756.5" stroke="#c2c2c2" stroke-width="0.7"/>
<line x1="1618.3" y1="754.7" x2="1626.7" y2="746.3" stroke="#111" stroke-width="1.1"/>
<text x="1166.5" y="748.7" font-size="9.5" fill="#3a3a3a" text-anchor="middle">1,55</text>
<text x="1237.5" y="748.7" font-size="9.5" fill="#3a3a3a" text-anchor="middle">2,85</text>
<text x="1339" y="748.7" font-size="9.5" fill="#3a3a3a" text-anchor="middle">3,45</text>
<text x="1442.5" y="748.7" font-size="9.5" fill="#3a3a3a" text-anchor="middle">2,95</text>
<text x="1529.6" y="748.7" font-size="9.5" fill="#3a3a3a" text-anchor="middle">2,45</text>
<text x="1596.3" y="748.7" font-size="9.5" fill="#3a3a3a" text-anchor="middle">1,65</text>
<line x1="455" y1="767" x2="1626" y2="767" stroke="#8a8a8a" stroke-width="0.8"/>
<line x1="459" y1="761" x2="459" y2="773" stroke="#c2c2c2" stroke-width="0.7"/>
<line x1="454.8" y1="771.2" x2="463.2" y2="762.8" stroke="#111" stroke-width="1.1"/>
<line x1="468.7" y1="761" x2="468.7" y2="773" stroke="#c2c2c2" stroke-width="0.7"/>
<line x1="464.5" y1="771.2" x2="472.9" y2="762.8" stroke="#111" stroke-width="1.1"/>
<line x1="570.5" y1="761" x2="570.5" y2="773" stroke="#c2c2c2" stroke-width="0.7"/>
<line x1="566.3" y1="771.2" x2="574.7" y2="762.8" stroke="#111" stroke-width="1.1"/>
<line x1="573.7" y1="761" x2="573.7" y2="773" stroke="#c2c2c2" stroke-width="0.7"/>
<line x1="569.5" y1="771.2" x2="577.9" y2="762.8" stroke="#111" stroke-width="1.1"/>
<line x1="631.9" y1="761" x2="631.9" y2="773" stroke="#c2c2c2" stroke-width="0.7"/>
<line x1="627.7" y1="771.2" x2="636.1" y2="762.8" stroke="#111" stroke-width="1.1"/>
<line x1="635.1" y1="761" x2="635.1" y2="773" stroke="#c2c2c2" stroke-width="0.7"/>
<line x1="630.9" y1="771.2" x2="639.3" y2="762.8" stroke="#111" stroke-width="1.1"/>
<line x1="736.9" y1="761" x2="736.9" y2="773" stroke="#c2c2c2" stroke-width="0.7"/>
<line x1="732.7" y1="771.2" x2="741.1" y2="762.8" stroke="#111" stroke-width="1.1"/>
<line x1="745" y1="761" x2="745" y2="773" stroke="#c2c2c2" stroke-width="0.7"/>
<line x1="740.8" y1="771.2" x2="749.2" y2="762.8" stroke="#111" stroke-width="1.1"/>
<line x1="938.9" y1="761" x2="938.9" y2="773" stroke="#c2c2c2" stroke-width="0.7"/>
<line x1="934.7" y1="771.2" x2="943.1" y2="762.8" stroke="#111" stroke-width="1.1"/>
<line x1="948.6" y1="761" x2="948.6" y2="773" stroke="#c2c2c2" stroke-width="0.7"/>
<line x1="944.4" y1="771.2" x2="952.8" y2="762.8" stroke="#111" stroke-width="1.1"/>
<line x1="1142.5" y1="761" x2="1142.5" y2="773" stroke="#c2c2c2" stroke-width="0.7"/>
<line x1="1138.3" y1="771.2" x2="1146.7" y2="762.8" stroke="#111" stroke-width="1.1"/>
<line x1="1150.6" y1="761" x2="1150.6" y2="773" stroke="#c2c2c2" stroke-width="0.7"/>
<line x1="1146.4" y1="771.2" x2="1154.8" y2="762.8" stroke="#111" stroke-width="1.1"/>
<line x1="1231.4" y1="761" x2="1231.4" y2="773" stroke="#c2c2c2" stroke-width="0.7"/>
<line x1="1227.2" y1="771.2" x2="1235.6" y2="762.8" stroke="#111" stroke-width="1.1"/>
<line x1="1234.6" y1="761" x2="1234.6" y2="773" stroke="#c2c2c2" stroke-width="0.7"/>
<line x1="1230.4" y1="771.2" x2="1238.8" y2="762.8" stroke="#111" stroke-width="1.1"/>
<line x1="1331.6" y1="761" x2="1331.6" y2="773" stroke="#c2c2c2" stroke-width="0.7"/>
<line x1="1327.4" y1="771.2" x2="1335.8" y2="762.8" stroke="#111" stroke-width="1.1"/>
<line x1="1334.8" y1="761" x2="1334.8" y2="773" stroke="#c2c2c2" stroke-width="0.7"/>
<line x1="1330.6" y1="771.2" x2="1339" y2="762.8" stroke="#111" stroke-width="1.1"/>
<line x1="1454.4" y1="761" x2="1454.4" y2="773" stroke="#c2c2c2" stroke-width="0.7"/>
<line x1="1450.2" y1="771.2" x2="1458.6" y2="762.8" stroke="#111" stroke-width="1.1"/>
<line x1="1457.6" y1="761" x2="1457.6" y2="773" stroke="#c2c2c2" stroke-width="0.7"/>
<line x1="1453.4" y1="771.2" x2="1461.8" y2="762.8" stroke="#111" stroke-width="1.1"/>
<line x1="1522.2" y1="761" x2="1522.2" y2="773" stroke="#c2c2c2" stroke-width="0.7"/>
<line x1="1518" y1="771.2" x2="1526.4" y2="762.8" stroke="#111" stroke-width="1.1"/>
<line x1="1525.5" y1="761" x2="1525.5" y2="773" stroke="#c2c2c2" stroke-width="0.7"/>
<line x1="1521.3" y1="771.2" x2="1529.7" y2="762.8" stroke="#111" stroke-width="1.1"/>
<line x1="1612.8" y1="761" x2="1612.8" y2="773" stroke="#c2c2c2" stroke-width="0.7"/>
<line x1="1608.6" y1="771.2" x2="1617" y2="762.8" stroke="#111" stroke-width="1.1"/>
<line x1="1622.5" y1="761" x2="1622.5" y2="773" stroke="#c2c2c2" stroke-width="0.7"/>
<line x1="1618.3" y1="771.2" x2="1626.7" y2="762.8" stroke="#111" stroke-width="1.1"/>
<text x="477.5" y="765.2" font-size="9.5" fill="#3a3a3a" text-anchor="middle">30</text>
<text x="519.6" y="765.2" font-size="9.5" fill="#3a3a3a" text-anchor="middle">3,15</text>
<text x="563" y="765.2" font-size="9.5" fill="#3a3a3a" text-anchor="middle">10</text>
<text x="598" y="765.2" font-size="9.5" fill="#3a3a3a" text-anchor="middle">1,80</text>
<text x="624.5" y="765.2" font-size="9.5" fill="#3a3a3a" text-anchor="middle">10</text>
<text x="680" y="765.2" font-size="9.5" fill="#3a3a3a" text-anchor="middle">3,15</text>
<text x="729" y="765.2" font-size="9.5" fill="#3a3a3a" text-anchor="middle">25</text>
<text x="931" y="765.2" font-size="9.5" fill="#3a3a3a" text-anchor="middle">30</text>
<text x="1041.5" y="765.2" font-size="9.5" fill="#3a3a3a" text-anchor="middle">6,00</text>
<text x="1134" y="765.2" font-size="9.5" fill="#3a3a3a" text-anchor="middle">25</text>
<text x="1187" y="765.2" font-size="9.5" fill="#3a3a3a" text-anchor="middle">2,50</text>
<text x="1224" y="765.2" font-size="9.5" fill="#3a3a3a" text-anchor="middle">10</text>
<text x="1279" y="765.2" font-size="9.5" fill="#3a3a3a" text-anchor="middle">3,00</text>
<text x="1324" y="765.2" font-size="9.5" fill="#3a3a3a" text-anchor="middle">10</text>
<text x="1390.4" y="765.2" font-size="9.5" fill="#3a3a3a" text-anchor="middle">3,70</text>
<text x="1446.7" y="765.2" font-size="9.5" fill="#3a3a3a" text-anchor="middle">10</text>
<text x="1485.8" y="765.2" font-size="9.5" fill="#3a3a3a" text-anchor="middle">2,00</text>
<text x="1514.6" y="765.2" font-size="9.5" fill="#3a3a3a" text-anchor="middle">10</text>
<text x="1565" y="765.2" font-size="9.5" fill="#3a3a3a" text-anchor="middle">2,70</text>
<text x="1604.6" y="765.2" font-size="9.5" fill="#3a3a3a" text-anchor="middle">30</text>
<line x1="455" y1="783.3" x2="1626" y2="783.3" stroke="#8a8a8a" stroke-width="0.8"/>
<line x1="459" y1="777.3" x2="459" y2="789.3" stroke="#c2c2c2" stroke-width="0.7"/>
<line x1="454.8" y1="787.5" x2="463.2" y2="779.1" stroke="#111" stroke-width="1.1"/>
<line x1="468.7" y1="777.3" x2="468.7" y2="789.3" stroke="#c2c2c2" stroke-width="0.7"/>
<line x1="464.5" y1="787.5" x2="472.9" y2="779.1" stroke="#111" stroke-width="1.1"/>
<line x1="737" y1="777.3" x2="737" y2="789.3" stroke="#c2c2c2" stroke-width="0.7"/>
<line x1="732.8" y1="787.5" x2="741.2" y2="779.1" stroke="#111" stroke-width="1.1"/>
<line x1="745" y1="777.3" x2="745" y2="789.3" stroke="#c2c2c2" stroke-width="0.7"/>
<line x1="740.8" y1="787.5" x2="749.2" y2="779.1" stroke="#111" stroke-width="1.1"/>
<line x1="938.9" y1="777.3" x2="938.9" y2="789.3" stroke="#c2c2c2" stroke-width="0.7"/>
<line x1="934.7" y1="787.5" x2="943.1" y2="779.1" stroke="#111" stroke-width="1.1"/>
<line x1="948.6" y1="777.3" x2="948.6" y2="789.3" stroke="#c2c2c2" stroke-width="0.7"/>
<line x1="944.4" y1="787.5" x2="952.8" y2="779.1" stroke="#111" stroke-width="1.1"/>
<line x1="1140.9" y1="777.3" x2="1140.9" y2="789.3" stroke="#c2c2c2" stroke-width="0.7"/>
<line x1="1136.7" y1="787.5" x2="1145.1" y2="779.1" stroke="#111" stroke-width="1.1"/>
<line x1="1150.6" y1="777.3" x2="1150.6" y2="789.3" stroke="#c2c2c2" stroke-width="0.7"/>
<line x1="1146.4" y1="787.5" x2="1154.8" y2="779.1" stroke="#111" stroke-width="1.1"/>
<line x1="1612.8" y1="777.3" x2="1612.8" y2="789.3" stroke="#c2c2c2" stroke-width="0.7"/>
<line x1="1608.6" y1="787.5" x2="1617" y2="779.1" stroke="#111" stroke-width="1.1"/>
<line x1="1622.5" y1="777.3" x2="1622.5" y2="789.3" stroke="#c2c2c2" stroke-width="0.7"/>
<line x1="1618.3" y1="787.5" x2="1626.7" y2="779.1" stroke="#111" stroke-width="1.1"/>
<text x="451" y="781.5" font-size="9.5" fill="#3a3a3a" text-anchor="middle">30</text>
<text x="598.5" y="781.5" font-size="9.5" fill="#3a3a3a" text-anchor="middle">8,30</text>
<text x="729" y="781.5" font-size="9.5" fill="#3a3a3a" text-anchor="middle">25</text>
<text x="837.5" y="781.5" font-size="9.5" fill="#3a3a3a" text-anchor="middle">6,00</text>
<text x="931" y="781.5" font-size="9.5" fill="#3a3a3a" text-anchor="middle">30</text>
<text x="1040" y="781.5" font-size="9.5" fill="#3a3a3a" text-anchor="middle">5,95</text>
<text x="1133" y="781.5" font-size="9.5" fill="#3a3a3a" text-anchor="middle">30</text>
<text x="1377.5" y="781.5" font-size="9.5" fill="#3a3a3a" text-anchor="middle">14,30</text>
<text x="1604.6" y="781.5" font-size="9.5" fill="#3a3a3a" text-anchor="middle">30</text>
<line x1="455" y1="799.5" x2="1626" y2="799.5" stroke="#8a8a8a" stroke-width="0.8"/>
<line x1="459" y1="793.5" x2="459" y2="805.5" stroke="#c2c2c2" stroke-width="0.7"/>
<line x1="454.8" y1="803.7" x2="463.2" y2="795.3" stroke="#111" stroke-width="1.1"/>
<line x1="1141" y1="793.5" x2="1141" y2="805.5" stroke="#c2c2c2" stroke-width="0.7"/>
<line x1="1136.8" y1="803.7" x2="1145.2" y2="795.3" stroke="#111" stroke-width="1.1"/>
<line x1="1622.5" y1="793.5" x2="1622.5" y2="805.5" stroke="#c2c2c2" stroke-width="0.7"/>
<line x1="1618.3" y1="803.7" x2="1626.7" y2="795.3" stroke="#111" stroke-width="1.1"/>
<text x="800" y="797.7" font-size="9.5" fill="#3a3a3a" text-anchor="middle">21,10</text>
<text x="1381.7" y="797.7" font-size="9.5" fill="#3a3a3a" text-anchor="middle">14,90</text>
<line x1="448" y1="815.6" x2="1633" y2="815.6" stroke="#8a8a8a" stroke-width="0.8"/>
<line x1="452.5" y1="809.6" x2="452.5" y2="821.6" stroke="#c2c2c2" stroke-width="0.7"/>
<line x1="448.3" y1="819.8" x2="456.7" y2="811.4" stroke="#111" stroke-width="1.1"/>
<line x1="459" y1="809.6" x2="459" y2="821.6" stroke="#c2c2c2" stroke-width="0.7"/>
<line x1="454.8" y1="819.8" x2="463.2" y2="811.4" stroke="#111" stroke-width="1.1"/>
<line x1="1622.5" y1="809.6" x2="1622.5" y2="821.6" stroke="#c2c2c2" stroke-width="0.7"/>
<line x1="1618.3" y1="819.8" x2="1626.7" y2="811.4" stroke="#111" stroke-width="1.1"/>
<line x1="1629" y1="809.6" x2="1629" y2="821.6" stroke="#c2c2c2" stroke-width="0.7"/>
<line x1="1624.8" y1="819.8" x2="1633.2" y2="811.4" stroke="#111" stroke-width="1.1"/>
<text x="444.5" y="813.8" font-size="9.5" fill="#3a3a3a" text-anchor="middle">20</text>
<text x="1083.3" y="813.8" font-size="9.5" fill="#3a3a3a" text-anchor="middle">36,00</text>
<text x="1614.6" y="813.8" font-size="9.5" fill="#3a3a3a" text-anchor="middle">20</text>
<line x1="448" y1="831.4" x2="1698" y2="831.4" stroke="#8a8a8a" stroke-width="0.8"/>
<line x1="452.5" y1="825.4" x2="452.5" y2="837.4" stroke="#c2c2c2" stroke-width="0.7"/>
<line x1="448.3" y1="835.6" x2="456.7" y2="827.2" stroke="#111" stroke-width="1.1"/>
<line x1="1629" y1="825.4" x2="1629" y2="837.4" stroke="#c2c2c2" stroke-width="0.7"/>
<line x1="1624.8" y1="835.6" x2="1633.2" y2="827.2" stroke="#111" stroke-width="1.1"/>
<line x1="1694.2" y1="825.4" x2="1694.2" y2="837.4" stroke="#c2c2c2" stroke-width="0.7"/>
<line x1="1690" y1="835.6" x2="1698.4" y2="827.2" stroke="#111" stroke-width="1.1"/>
<text x="1083.3" y="829.6" font-size="9.5" fill="#3a3a3a" text-anchor="middle">36,40</text>
<text x="1661.9" y="829.6" font-size="9.5" fill="#3a3a3a" text-anchor="middle">2,00</text>
<polyline points="454.2,787 880,787.5 1000,806 1097.5,820 1220,818 1340,813.5 1402.5,815 1715,862.5 1830,882" fill="none" stroke="#9a9a9a" stroke-width="0.7" stroke-dasharray="9 5"/>
<text x="1722" y="850" font-size="8" fill="#333">telekhatár</text>
<polyline points="1720,847 1718,847 1716,860" fill="none" stroke="#333" stroke-width="0.6"/>
<polygon points="1713.5,858 1718.5,858 1716,862" fill="#333" stroke="#333" stroke-width="0.4"/>
<line x1="460.5" y1="672.5" x2="474.5" y2="672.5" stroke="#888" stroke-width="0.6"/>
<line x1="467.5" y1="665.5" x2="467.5" y2="679.5" stroke="#888" stroke-width="0.6"/>
<circle cx="467.5" cy="672.5" r="3.6" fill="#fff" stroke="#888" stroke-width="0.6"/>
<path d="M467.5 672.5h3.6a3.6 3.6 0 0 0 -3.6 -3.6zM467.5 672.5h-3.6a3.6 3.6 0 0 0 3.6 3.6z" fill="#111"/>
<text x="472.5" y="667" font-size="9.3" fill="#222">-2,60</text>
<line x1="501.25" y1="620.9" x2="501.25" y2="748.5" stroke="#8a8a8a" stroke-width="0.8"/>
<line x1="494.25" y1="624.9" x2="508.25" y2="624.9" stroke="#c2c2c2" stroke-width="0.7"/>
<line x1="497.05" y1="620.7" x2="505.45" y2="629.1" stroke="#111" stroke-width="1.1"/>
<line x1="494.25" y1="744.5" x2="508.25" y2="744.5" stroke="#c2c2c2" stroke-width="0.7"/>
<line x1="497.05" y1="740.3" x2="505.45" y2="748.7" stroke="#111" stroke-width="1.1"/>
<text x="499.45" y="685" font-size="9.5" fill="#3a3a3a" text-anchor="middle" transform="rotate(-90 499.45 685)">3,70</text>
<text x="515" y="668.5" font-size="8.4" fill="#333">esővízelvezetés</text>
<polyline points="513,666 510,666 475,630" fill="none" stroke="#555" stroke-width="0.6"/>
<circle cx="472.5" cy="627.5" r="2" fill="#fff" stroke="#555" stroke-width="0.6"/>
<path d="M963.4 1009 A23.9 23.9 0 1 1 983 992.7" fill="none" stroke="#777" stroke-width="0.7"/>
<line x1="936.6" y1="953.3" x2="983.7" y2="1017.6" stroke="#666" stroke-width="0.7"/>
<line x1="921.7" y1="1013.6" x2="1001.6" y2="955.3" stroke="#666" stroke-width="0.7"/>
<path d="M1001.6 955.3 L971.1 960.2 Q985 966 987.6 982.4 Z" fill="none" stroke="#777" stroke-width="0.7"/>
<line x1="973" y1="973" x2="992" y2="962" stroke="#999" stroke-width="0.6"/>
<line x1="974" y1="976" x2="993" y2="964" stroke="#999" stroke-width="0.6"/>
<g style="mix-blend-mode:multiply">
<path d="M926.8 588.8 L926.8 573.8 L960.6 556.9 L993.4 574.8 L993.4 585.8 L987.5 585.8 L987.5 580 L960.6 566 L932.7 579.5 L932.7 588.8 Z" fill="#b2b2b2"/>
<path fill-rule="evenodd" fill="#b2b2b2" d="M926.75 602.7 a28.85 28.85 0 0 1 28.85 28.85 v48.8 a28.85 28.85 0 0 1 -57.7 0 v-48.8 a28.85 28.85 0 0 1 28.85 -28.85 Z M926.75 619.6 a13.95 13.95 0 0 0 -13.95 13.95 v46.7 a13.95 13.95 0 0 0 27.9 0 v-46.7 a13.95 13.95 0 0 0 -13.95 -13.95 Z"/>
<path fill="#b2b2b2" d="M1022.3 633.5 L1007.4 633.5 L1007.4 633.5 a13.95 13.95 0 0 0 -27.9 0 v46.7 a13.95 13.95 0 0 0 27.9 0 L1022.3 680.2 a28.4 28.4 0 0 1 -56.7 0 v-48.8 a28.4 28.4 0 0 1 56.7 2.1 Z"/>
</g>
<g style="mix-blend-mode:multiply">
<text x="898.9" y="760.9" font-size="40" fill="#b2b2b2" font-weight="bold" textLength="123.4" lengthAdjust="spacingAndGlyphs">OTTHON</text>
<text x="898.9" y="799.7" font-size="34.5" fill="#b2b2b2" font-weight="bold" textLength="123.4" lengthAdjust="spacingAndGlyphs">CENTRUM</text>
</g>
</svg>
</body></html>
